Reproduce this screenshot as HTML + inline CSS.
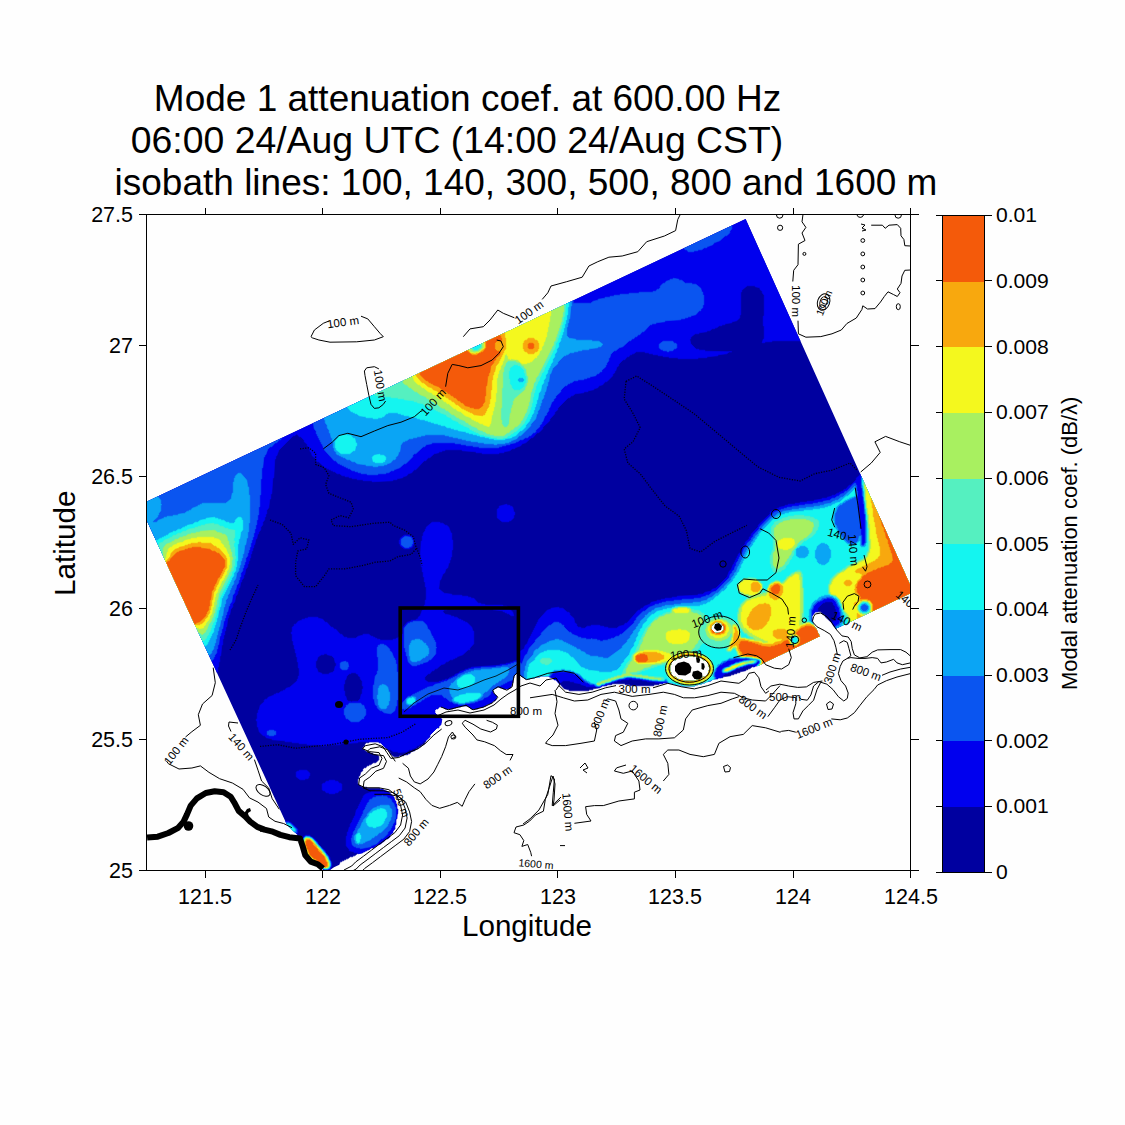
<!DOCTYPE html>
<html><head><meta charset="utf-8"><title>Mode 1 attenuation coef.</title>
<style>
html,body{margin:0;padding:0;background:#fff;}
body{width:1125px;height:1125px;overflow:hidden;font-family:"Liberation Sans",sans-serif;}
svg{display:block;}
text{font-family:"Liberation Sans",sans-serif;fill:#000;}
.t{font-size:37px;}
.tk{font-size:21.5px;}
.al{font-size:29.6px;}
.cl{font-size:22px;}
.il{font-size:11.5px;}
.c{fill:none;stroke:#000;stroke-width:1;}
</style></head><body>
<svg width="1125" height="1125" viewBox="0 0 1125 1125">
<rect x="0" y="0" width="1125" height="1125" fill="#fefefe"/>
<defs><clipPath id="ax"><rect x="147" y="215" width="763.5" height="655.5"/></clipPath></defs>
<g clip-path="url(#ax)">
<defs><clipPath id="rc"><polygon points="147,501.5 745.6,219.1 910,584.5 910,593.5 334,867.3 330,870 307.8,870 147,521"/></clipPath></defs>
<g clip-path="url(#rc)">
<path fill="#0000a0" stroke="#0000a0" stroke-width="0.6" fill-rule="evenodd" d="M745.8 217.2 744.8 218.2 743.2 218.2 742.8 219.2 740.2 219.2 739.8 220.2 738.2 220.2 737.8 221.2 736.2 221.2 735.8 222.2 734.2 222.2 733.8 223.2 732.2 223.2 731.8 224.2 730.2 224.2 729.8 225.2 728.2 225.2 727.8 226.2 726.2 226.2 723.8 228.2 721.2 228.2 720.8 229.2 719.2 229.2 718.8 230.2 717.2 230.2 716.8 231.2 715.2 231.2 714.8 232.2 713.2 232.2 712.8 233.2 711.2 233.2 710.8 234.2 709.2 234.2 706.8 236.2 704.2 236.2 703.8 237.2 702.2 237.2 701.8 238.2 700.2 238.2 699.8 239.2 698.2 239.2 697.8 240.2 696.2 240.2 695.8 241.2 694.2 241.2 693.8 242.2 692.2 242.2 689.8 244.2 687.2 244.2 686.8 245.2 685.2 245.2 684.8 246.2 683.2 246.2 682.8 247.2 681.2 247.2 680.8 248.2 679.2 248.2 678.8 249.2 677.2 249.2 676.8 250.2 675.2 250.2 674.8 251.2 673.2 251.2 670.8 253.2 668.2 253.2 667.8 254.2 666.2 254.2 665.8 255.2 664.2 255.2 663.8 256.2 662.2 256.2 661.8 257.2 660.2 257.2 659.8 258.2 658.2 258.2 657.8 259.2 656.2 259.2 653.8 261.2 651.2 261.2 650.8 262.2 649.2 262.2 648.8 263.2 647.2 263.2 646.8 264.2 645.2 264.2 644.8 265.2 643.2 265.2 642.8 266.2 641.2 266.2 640.8 267.2 639.2 267.2 638.8 268.2 637.2 268.2 634.8 270.2 632.2 270.2 631.8 271.2 630.2 271.2 629.8 272.2 628.2 272.2 627.8 273.2 626.2 273.2 625.8 274.2 624.2 274.2 623.8 275.2 622.2 275.2 621.8 276.2 620.2 276.2 617.8 278.2 615.2 278.2 614.8 279.2 613.2 279.2 612.8 280.2 611.2 280.2 610.8 281.2 609.2 281.2 608.8 282.2 607.2 282.2 606.8 283.2 605.2 283.2 604.8 284.2 603.2 284.2 602.8 285.2 601.2 285.2 598.8 287.2 596.2 287.2 595.8 288.2 594.2 288.2 593.8 289.2 592.2 289.2 591.8 290.2 590.2 290.2 589.8 291.2 588.2 291.2 587.8 292.2 586.2 292.2 585.8 293.2 584.2 293.2 581.8 295.2 579.2 295.2 578.8 296.2 577.2 296.2 576.8 297.2 575.2 297.2 574.8 298.2 573.2 298.2 572.8 299.2 571.2 299.2 570.8 300.2 569.2 300.2 568.8 301.2 567.2 301.2 564.8 303.2 562.2 303.2 561.8 304.2 560.2 304.2 559.8 305.2 558.2 305.2 557.8 306.2 556.2 306.2 555.8 307.2 554.2 307.2 553.8 308.2 552.2 308.2 551.8 309.2 550.2 309.2 549.8 310.2 548.2 310.2 545.8 312.2 543.2 312.2 542.8 313.2 541.2 313.2 540.8 314.2 539.2 314.2 538.8 315.2 537.2 315.2 536.8 316.2 535.2 316.2 534.8 317.2 533.2 317.2 532.8 318.2 531.2 318.2 528.8 320.2 526.2 320.2 525.8 321.2 524.2 321.2 523.8 322.2 522.2 322.2 521.8 323.2 520.2 323.2 519.8 324.2 518.2 324.2 517.8 325.2 516.2 325.2 515.8 326.2 514.2 326.2 513.8 327.2 512.2 327.2 509.8 329.2 507.2 329.2 506.8 330.2 505.2 330.2 504.8 331.2 503.2 331.2 502.8 332.2 501.2 332.2 500.8 333.2 499.2 333.2 498.8 334.2 497.2 334.2 496.8 335.2 495.2 335.2 492.8 337.2 490.2 337.2 489.8 338.2 488.2 338.2 487.8 339.2 486.2 339.2 485.8 340.2 484.2 340.2 483.8 341.2 482.2 341.2 481.8 342.2 480.2 342.2 479.8 343.2 478.2 343.2 477.8 344.2 476.2 344.2 473.8 346.2 471.2 346.2 470.8 347.2 469.2 347.2 468.8 348.2 467.2 348.2 466.8 349.2 465.2 349.2 464.8 350.2 463.2 350.2 462.8 351.2 461.2 351.2 460.8 352.2 459.2 352.2 456.8 354.2 454.2 354.2 453.8 355.2 452.2 355.2 451.8 356.2 450.2 356.2 449.8 357.2 448.2 357.2 447.8 358.2 446.2 358.2 445.8 359.2 444.2 359.2 443.8 360.2 442.2 360.2 439.8 362.2 437.2 362.2 436.8 363.2 435.2 363.2 434.8 364.2 433.2 364.2 432.8 365.2 431.2 365.2 430.8 366.2 429.2 366.2 428.8 367.2 427.2 367.2 426.8 368.2 425.2 368.2 424.8 369.2 423.2 369.2 420.8 371.2 418.2 371.2 417.8 372.2 416.2 372.2 415.8 373.2 414.2 373.2 413.8 374.2 412.2 374.2 411.8 375.2 410.2 375.2 409.8 376.2 408.2 376.2 407.8 377.2 406.2 377.2 403.8 379.2 401.2 379.2 400.8 380.2 399.2 380.2 398.8 381.2 397.2 381.2 396.8 382.2 395.2 382.2 394.8 383.2 393.2 383.2 392.8 384.2 391.2 384.2 390.8 385.2 389.2 385.2 388.8 386.2 387.2 386.2 384.8 388.2 382.2 388.2 381.8 389.2 380.2 389.2 379.8 390.2 378.2 390.2 377.8 391.2 376.2 391.2 375.8 392.2 374.2 392.2 373.8 393.2 372.2 393.2 371.8 394.2 370.2 394.2 367.8 396.2 365.2 396.2 364.8 397.2 363.2 397.2 362.8 398.2 361.2 398.2 360.8 399.2 359.2 399.2 358.8 400.2 357.2 400.2 356.8 401.2 355.2 401.2 354.8 402.2 353.2 402.2 352.8 403.2 351.2 403.2 348.8 405.2 346.2 405.2 345.8 406.2 344.2 406.2 343.8 407.2 342.2 407.2 341.8 408.2 340.2 408.2 339.8 409.2 338.2 409.2 337.8 410.2 336.2 410.2 335.8 411.2 334.2 411.2 331.8 413.2 329.2 413.2 328.8 414.2 327.2 414.2 326.8 415.2 325.2 415.2 324.8 416.2 323.2 416.2 322.8 417.2 321.2 417.2 320.8 418.2 319.2 418.2 318.8 419.2 317.2 419.2 314.8 421.2 312.2 421.2 311.8 422.2 310.2 422.2 309.8 423.2 308.2 423.2 307.8 424.2 306.2 424.2 305.8 425.2 304.2 425.2 303.8 426.2 302.2 426.2 301.8 427.2 300.2 427.2 299.8 428.2 298.2 428.2 295.8 430.2 293.2 430.2 292.8 431.2 291.2 431.2 290.8 432.2 289.2 432.2 288.8 433.2 287.2 433.2 286.8 434.2 285.2 434.2 284.8 435.2 283.2 435.2 282.8 436.2 281.2 436.2 278.8 438.2 276.2 438.2 275.8 439.2 274.2 439.2 273.8 440.2 272.2 440.2 271.8 441.2 270.2 441.2 269.8 442.2 268.2 442.2 267.8 443.2 266.2 443.2 265.8 444.2 264.2 444.2 263.8 445.2 262.2 445.2 259.8 447.2 257.2 447.2 256.8 448.2 255.2 448.2 254.8 449.2 253.2 449.2 252.8 450.2 251.2 450.2 250.8 451.2 249.2 451.2 248.8 452.2 247.2 452.2 246.8 453.2 245.2 453.2 242.8 455.2 240.2 455.2 239.8 456.2 238.2 456.2 237.8 457.2 236.2 457.2 235.8 458.2 234.2 458.2 233.8 459.2 232.2 459.2 231.8 460.2 230.2 460.2 229.8 461.2 228.2 461.2 227.8 462.2 226.2 462.2 223.8 464.2 221.2 464.2 220.8 465.2 219.2 465.2 218.8 466.2 217.2 466.2 216.8 467.2 215.2 467.2 214.8 468.2 213.2 468.2 212.8 469.2 211.2 469.2 210.8 470.2 209.2 470.2 206.8 472.2 204.2 472.2 203.8 473.2 202.2 473.2 201.8 474.2 200.2 474.2 199.8 475.2 198.2 475.2 197.8 476.2 196.2 476.2 195.8 477.2 194.2 477.2 193.8 478.2 192.2 478.2 191.8 479.2 190.2 479.2 187.8 481.2 185.2 481.2 184.8 482.2 183.2 482.2 182.8 483.2 181.2 483.2 180.8 484.2 179.2 484.2 178.8 485.2 177.2 485.2 176.8 486.2 175.2 486.2 174.8 487.2 173.2 487.2 170.8 489.2 168.2 489.2 167.8 490.2 166.2 490.2 165.8 491.2 164.2 491.2 163.8 492.2 162.2 492.2 161.8 493.2 160.2 493.2 159.8 494.2 158.2 494.2 157.8 495.2 156.2 495.2 153.8 497.2 151.2 497.2 150.8 498.2 147.2 499.2 145.2 501.2 145.2 522.8 146.2 523.2 146.2 524.8 147.2 525.2 147.2 526.8 148.2 527.2 148.2 528.8 150.2 531.2 150.2 533.8 151.2 534.2 151.2 535.8 152.2 536.2 152.2 537.8 153.2 538.2 153.2 539.8 154.2 540.2 154.2 541.8 156.2 544.2 156.2 546.8 157.2 547.2 157.2 548.8 158.2 549.2 158.2 550.8 159.2 551.2 159.2 552.8 160.2 553.2 160.2 554.8 162.2 557.2 162.2 559.8 163.2 560.2 163.2 561.8 164.2 562.2 164.2 563.8 165.2 564.2 165.2 565.8 166.2 566.2 166.2 567.8 168.2 570.2 168.2 572.8 169.2 573.2 169.2 574.8 170.2 575.2 170.2 576.8 171.2 577.2 171.2 578.8 173.2 581.2 173.2 583.8 174.2 584.2 174.2 585.8 175.2 586.2 175.2 587.8 176.2 588.2 176.2 589.8 177.2 590.2 177.2 591.8 179.2 594.2 179.2 596.8 180.2 597.2 180.2 598.8 181.2 599.2 181.2 600.8 182.2 601.2 182.2 602.8 183.2 603.2 183.2 604.8 185.2 607.2 185.2 609.8 186.2 610.2 186.2 611.8 187.2 612.2 187.2 613.8 188.2 614.2 188.2 615.8 189.2 616.2 189.2 617.8 191.2 620.2 191.2 622.8 192.2 623.2 192.2 624.8 193.2 625.2 193.2 626.8 194.2 627.2 194.2 628.8 196.2 631.2 196.2 633.8 197.2 634.2 197.2 635.8 198.2 636.2 198.2 637.8 199.2 638.2 199.2 639.8 200.2 640.2 200.2 641.8 202.2 644.2 202.2 646.8 203.2 647.2 203.2 648.8 204.2 649.2 204.2 650.8 205.2 651.2 205.2 652.8 206.2 653.2 206.2 654.8 208.2 657.2 208.2 659.8 209.2 660.2 209.2 661.8 210.2 662.2 210.2 663.8 211.2 664.2 211.2 665.8 212.2 666.2 212.2 667.8 214.2 670.2 214.2 672.8 215.2 673.2 215.2 674.8 216.2 675.2 216.2 676.8 217.2 677.2 217.2 678.8 219.2 681.2 219.2 683.8 220.2 684.2 220.2 685.8 221.2 686.2 221.2 687.8 222.2 688.2 222.2 689.8 223.2 690.2 223.2 691.8 225.2 694.2 225.2 696.8 226.2 697.2 226.2 698.8 227.2 699.2 227.2 700.8 228.2 701.2 228.2 702.8 229.2 703.2 229.2 704.8 231.2 707.2 231.2 709.8 232.2 710.2 232.2 711.8 233.2 712.2 233.2 713.8 234.2 714.2 234.2 715.8 236.2 718.2 236.2 720.8 237.2 721.2 237.2 722.8 238.2 723.2 238.2 724.8 239.2 725.2 239.2 726.8 240.2 727.2 240.2 728.8 242.2 731.2 242.2 733.8 243.2 734.2 243.2 735.8 244.2 736.2 244.2 737.8 245.2 738.2 245.2 739.8 246.2 740.2 246.2 741.8 248.2 744.2 248.2 746.8 249.2 747.2 249.2 748.8 250.2 749.2 250.2 750.8 251.2 751.2 251.2 752.8 252.2 753.2 252.2 754.8 254.2 757.2 254.2 759.8 255.2 760.2 255.2 761.8 256.2 762.2 256.2 763.8 257.2 764.2 257.2 765.8 259.2 768.2 259.2 770.8 260.2 771.2 260.2 772.8 261.2 773.2 261.2 774.8 262.2 775.2 262.2 776.8 263.2 777.2 263.2 778.8 265.2 781.2 265.2 783.8 266.2 784.2 266.2 785.8 267.2 786.2 267.2 787.8 268.2 788.2 268.2 789.8 269.2 790.2 269.2 791.8 271.2 794.2 271.2 796.8 272.2 797.2 272.2 798.8 273.2 799.2 273.2 800.8 274.2 801.2 274.2 802.8 275.2 803.2 275.2 804.8 277.2 807.2 277.2 809.8 278.2 810.2 278.2 811.8 279.2 812.2 279.2 813.8 280.2 814.2 280.2 815.8 282.2 818.2 282.2 820.8 283.2 821.8 284.8 821.8 297.2 834.2 297.2 835.8 300.2 838.2 300.2 839.8 302.2 841.2 302.2 843.8 303.2 844.2 303.2 847.8 304.2 848.2 305.2 853.8 308.2 857.2 308.2 858.8 311.2 861.8 313.8 861.8 314.2 862.8 319.8 864.8 323.2 868.2 324.2 872.8 329.8 872.8 330.2 871.8 331.8 871.8 334.2 868.8 337.8 867.8 337.8 866.2 338.8 865.8 340.2 861.8 341.8 861.8 342.2 860.8 343.8 860.8 344.2 859.8 345.8 859.8 346.2 858.8 347.8 858.8 350.2 856.8 352.8 856.8 353.2 855.8 354.8 855.8 357.2 853.8 362.8 852.8 363.2 851.8 364.8 851.8 365.2 850.8 366.8 850.8 367.2 849.8 368.8 849.8 371.2 847.8 373.8 847.8 377.2 844.8 380.8 843.8 382.2 841.8 383.8 841.8 386.2 838.8 387.8 838.8 389.8 836.8 389.8 835.2 392.8 832.8 392.8 831.2 394.8 828.8 394.8 825.2 395.8 824.8 395.8 819.2 396.8 818.8 396.8 814.2 397.8 813.8 397.8 809.2 396.8 808.8 396.8 804.2 395.8 803.8 395.8 801.2 394.8 800.8 393.8 797.2 388.8 792.2 387.2 792.2 386.8 791.2 385.2 791.2 382.8 789.2 380.2 789.2 379.8 788.2 367.2 788.2 366.8 787.2 362.2 787.2 357.8 783.8 357.8 779.2 358.8 778.8 358.8 776.2 359.8 775.8 360.8 772.2 362.8 770.8 362.8 769.2 364.2 767.8 365.8 767.8 367.2 765.8 368.8 765.8 369.2 764.8 370.8 764.8 373.2 762.8 375.8 762.8 378.8 759.8 378.8 756.2 377.8 755.2 373.2 754.2 372.8 753.2 370.2 753.2 369.8 752.2 367.2 752.2 362.8 748.8 362.8 747.2 364.8 745.8 364.8 744.2 366.2 742.8 368.8 742.8 369.2 741.8 378.8 741.8 379.2 742.8 380.8 742.8 390.2 752.2 390.2 753.8 394.2 756.8 398.8 756.8 399.2 755.8 403.8 755.8 404.2 754.8 407.8 754.8 408.2 753.8 409.8 753.8 411.2 751.8 414.8 750.8 416.2 748.8 417.8 748.8 419.2 746.8 420.8 746.8 422.2 744.8 423.8 744.8 424.8 743.8 424.8 742.2 425.8 741.8 425.8 740.2 429.8 736.8 429.8 735.2 437.2 727.8 438.8 727.8 438.8 726.2 440.8 724.8 441.8 719.2 440.8 718.8 440.8 717.2 439.8 716.2 438.2 716.2 434.8 712.8 434.8 710.2 436.2 708.8 437.8 708.8 439.2 706.8 442.8 706.8 445.2 708.8 452.8 708.8 453.2 707.8 455.8 707.8 456.2 706.8 460.8 706.8 461.2 705.8 467.8 705.8 471.2 708.8 477.8 708.8 478.2 707.8 483.8 706.8 484.2 705.8 485.8 705.8 486.2 704.8 491.8 702.8 493.2 700.8 494.8 700.8 495.8 699.8 496.8 696.2 492.8 692.8 492.8 690.2 495.2 687.8 496.8 687.8 497.2 686.8 499.8 686.8 500.2 687.8 502.8 687.8 503.2 688.8 508.8 688.8 509.2 687.8 510.8 687.8 511.8 683.2 512.8 682.8 512.8 678.2 513.8 677.8 513.8 675.2 516.2 672.8 518.8 672.8 522.2 676.8 523.8 676.8 525.2 678.8 529.8 678.8 530.2 677.8 534.8 677.8 535.2 676.8 539.8 676.8 540.2 675.8 548.8 675.8 549.2 676.8 552.8 677.8 554.2 679.8 555.8 679.8 564.2 688.8 568.8 689.8 569.2 690.8 588.8 690.8 589.2 689.8 592.8 689.8 593.2 688.8 599.8 687.8 602.2 685.8 606.8 685.8 607.2 684.8 611.8 684.8 612.2 683.8 624.8 683.8 625.2 684.8 629.8 684.8 630.2 685.8 653.8 685.8 654.2 684.8 658.8 684.8 659.2 683.8 662.8 683.8 663.2 682.8 672.8 682.8 673.2 683.8 675.8 683.8 676.2 684.8 681.8 684.8 682.2 685.8 694.8 685.8 695.2 684.8 697.8 684.8 698.2 683.8 701.8 683.8 702.2 682.8 704.8 682.8 705.2 681.8 710.8 680.8 713.2 678.8 717.8 678.8 718.2 677.8 722.8 677.8 723.2 676.8 730.8 675.8 731.2 674.8 733.8 674.8 734.2 673.8 736.8 673.8 737.2 672.8 739.8 672.8 740.2 671.8 745.8 670.8 746.2 669.8 747.8 669.8 748.2 668.8 749.8 668.8 752.2 666.8 754.8 666.8 755.2 665.8 761.8 666.8 762.2 665.8 763.8 665.8 764.2 664.8 765.8 664.8 766.2 663.8 767.8 663.8 768.2 662.8 769.8 662.8 770.2 661.8 771.8 661.8 774.2 659.8 776.8 659.8 777.2 658.8 778.8 658.8 779.2 657.8 780.8 657.8 781.2 656.8 782.8 656.8 783.2 655.8 784.8 655.8 785.2 654.8 786.8 654.8 787.2 653.8 788.8 653.8 789.2 652.8 790.8 652.8 791.2 651.8 792.8 651.8 795.2 649.8 797.8 649.8 798.2 648.8 799.8 648.8 800.2 647.8 801.8 647.8 802.2 646.8 803.8 646.8 804.2 645.8 805.8 645.8 806.2 644.8 807.8 644.8 808.2 643.8 809.8 643.8 810.2 642.8 811.8 642.8 814.2 640.8 816.8 640.8 817.2 639.8 820.8 638.8 821.8 637.2 820.2 637.2 818.8 635.8 818.8 634.2 817.8 633.8 815.8 628.2 812.8 624.8 812.8 621.2 811.8 620.8 811.8 616.2 815.2 611.8 820.8 611.8 823.2 614.8 824.8 614.8 825.2 616.8 833.2 624.2 833.2 625.8 835.2 627.2 836.2 630.8 837.8 630.8 838.2 629.8 839.8 629.8 840.2 628.8 841.8 628.8 842.2 627.8 843.8 627.8 844.2 626.8 845.8 626.8 846.2 625.8 847.8 625.8 848.2 624.8 849.8 624.8 850.2 623.8 851.8 623.8 854.2 621.8 856.8 621.8 857.2 620.8 858.8 620.8 859.2 619.8 860.8 619.8 861.2 618.8 862.8 618.8 863.2 617.8 864.8 617.8 865.2 616.8 866.8 616.8 867.2 615.8 868.8 615.8 869.2 614.8 870.8 614.8 873.2 612.8 875.8 612.8 876.2 611.8 877.8 611.8 878.2 610.8 879.8 610.8 880.2 609.8 881.8 609.8 882.2 608.8 883.8 608.8 884.2 607.8 885.8 607.8 886.2 606.8 887.8 606.8 888.2 605.8 889.8 605.8 890.2 604.8 891.8 604.8 894.2 602.8 896.8 602.8 897.2 601.8 898.8 601.8 899.2 600.8 900.8 600.8 901.2 599.8 902.8 599.8 903.2 598.8 904.8 598.8 905.2 597.8 910.8 595.8 912.8 593.8 912.8 584.2 911.8 583.8 911.8 582.2 910.8 581.8 910.8 580.2 909.8 579.8 909.8 578.2 907.8 575.8 907.8 573.2 906.8 572.8 906.8 571.2 905.8 570.8 905.8 569.2 903.8 566.8 903.8 564.2 902.8 563.8 902.8 562.2 901.8 561.8 901.8 560.2 900.8 559.8 900.8 558.2 898.8 555.8 898.8 553.2 897.8 552.8 897.8 551.2 896.8 550.8 896.8 549.2 894.8 546.8 894.8 544.2 893.8 543.8 893.8 542.2 892.8 541.8 892.8 540.2 891.8 539.8 891.8 538.2 889.8 535.8 889.8 533.2 888.8 532.8 888.8 531.2 887.8 530.8 887.8 529.2 885.8 526.8 885.8 524.2 884.8 523.8 884.8 522.2 883.8 521.8 883.8 520.2 882.8 519.8 882.8 518.2 880.8 515.8 880.8 513.2 879.8 512.8 879.8 511.2 878.8 510.8 878.8 509.2 876.8 506.8 876.8 504.2 875.8 503.8 875.8 502.2 874.8 501.8 874.8 500.2 873.8 499.8 873.8 498.2 871.8 495.8 871.8 493.2 870.8 492.8 870.8 491.2 869.8 490.8 869.8 489.2 867.8 486.8 867.8 484.2 866.8 483.8 866.8 482.2 865.8 481.8 865.8 480.2 864.8 479.8 864.8 478.2 862.8 475.8 862.8 473.2 861.8 472.8 861.8 471.2 860.8 470.8 860.8 469.2 858.8 466.8 858.8 464.2 857.8 463.8 857.8 462.2 856.8 461.8 856.8 460.2 855.8 459.8 855.8 458.2 853.8 455.8 853.8 453.2 852.8 452.8 852.8 451.2 851.8 450.8 851.8 449.2 849.8 446.8 849.8 444.2 848.8 443.8 848.8 442.2 847.8 441.8 847.8 440.2 846.8 439.8 846.8 438.2 844.8 435.8 844.8 433.2 843.8 432.8 843.8 431.2 842.8 430.8 842.8 429.2 840.8 426.8 840.8 424.2 839.8 423.8 839.8 422.2 838.8 421.8 838.8 420.2 837.8 419.8 837.8 418.2 835.8 415.8 835.8 413.2 834.8 412.8 834.8 411.2 833.8 410.8 833.8 409.2 831.8 406.8 831.8 404.2 830.8 403.8 830.8 402.2 829.8 401.8 829.8 400.2 828.8 399.8 828.8 398.2 826.8 395.8 826.8 393.2 825.8 392.8 825.8 391.2 824.8 390.8 824.8 389.2 822.8 386.8 822.8 384.2 821.8 383.8 821.8 382.2 820.8 381.8 820.8 380.2 819.8 379.8 819.8 378.2 817.8 375.8 817.8 373.2 816.8 372.8 816.8 371.2 815.8 370.8 815.8 369.2 813.8 366.8 813.8 364.2 812.8 363.8 812.8 362.2 811.8 361.8 811.8 360.2 810.8 359.8 810.8 358.2 808.8 355.8 808.8 353.2 807.8 352.8 807.8 351.2 806.8 350.8 806.8 349.2 804.8 346.8 804.8 344.2 803.8 343.8 803.8 342.2 802.8 341.8 802.8 340.2 801.8 339.8 801.8 338.2 799.8 335.8 799.8 333.2 798.8 332.8 798.8 331.2 797.8 330.8 797.8 329.2 795.8 326.8 795.8 324.2 794.8 323.8 794.8 322.2 793.8 321.8 793.8 320.2 792.8 319.8 792.8 318.2 790.8 315.8 790.8 313.2 789.8 312.8 789.8 311.2 788.8 310.8 788.8 309.2 786.8 306.8 786.8 304.2 785.8 303.8 785.8 302.2 784.8 301.8 784.8 300.2 783.8 299.8 783.8 298.2 781.8 295.8 781.8 293.2 780.8 292.8 780.8 291.2 779.8 290.8 779.8 289.2 777.8 286.8 777.8 284.2 776.8 283.8 776.8 282.2 775.8 281.8 775.8 280.2 774.8 279.8 774.8 278.2 772.8 275.8 772.8 273.2 771.8 272.8 771.8 271.2 770.8 270.8 770.8 269.2 768.8 266.8 768.8 264.2 767.8 263.8 767.8 262.2 766.8 261.8 766.8 260.2 765.8 259.8 765.8 258.2 763.8 255.8 763.8 253.2 762.8 252.8 762.8 251.2 761.8 250.8 761.8 249.2 759.8 246.8 759.8 244.2 758.8 243.8 758.8 242.2 757.8 241.8 757.8 240.2 756.8 239.8 756.8 238.2 754.8 235.8 754.8 233.2 753.8 232.8 753.8 231.2 752.8 230.8 752.8 229.2 750.8 226.8 750.8 224.2 749.8 223.8 748.8 220.2ZM669.8 665.2 670.8 664.8 670.8 663.2 674.2 659.8 675.8 659.8 677.2 657.8 679.8 657.8 680.2 656.8 682.8 656.8 683.2 655.8 695.8 655.8 696.2 656.8 701.8 657.8 703.2 659.8 704.8 659.8 708.2 663.2 710.2 669.8 709.2 670.2 708.2 673.8 704.8 677.2 703.2 677.2 701.8 679.2 699.2 679.2 698.8 680.2 696.2 680.2 695.8 681.2 683.2 681.2 682.8 680.2 677.2 679.2 675.8 677.2 674.2 677.2 670.8 673.8 670.8 672.2 669.8 671.8ZM716.2 621.8 721.8 622.8 722.2 624.8 724.2 626.2 724.2 629.8 719.8 633.2 715.2 633.2 710.8 628.8 711.8 625.2Z"/>
<path fill="#0000ee" stroke="#0000ee" stroke-width="0.6" fill-rule="evenodd" d="M305.2 835.2 302.2 838.2 302.2 843.8 303.2 844.2 303.2 847.8 304.2 848.2 305.2 853.8 308.2 857.2 308.2 858.8 310.2 860.8 311.8 860.8 312.2 861.8 313.8 861.8 314.2 862.8 319.8 864.8 323.2 868.2 323.2 869.8 329.8 869.8 330.8 868.8 330.8 867.2 331.8 866.8 331.8 862.2 330.8 861.8 329.8 857.2 325.8 852.8 325.8 851.2 317.8 843.8 317.8 842.2 312.8 837.2 311.2 837.2 309.8 835.2ZM285.2 821.2 285.2 822.8 296.8 833.8 297.8 832.8 297.8 829.2 290.8 822.2 289.2 822.2 288.8 821.2ZM388.8 792.2 387.2 792.2 386.8 791.2 381.2 789.2 380.8 790.2 375.2 790.2 374.8 791.2 371.2 791.2 370.8 792.2 365.2 794.2 363.2 796.2 363.2 797.8 362.2 798.2 362.2 799.8 361.2 800.2 361.2 801.8 360.2 802.2 360.2 803.8 359.2 804.2 359.2 805.8 358.2 806.2 358.2 807.8 356.2 810.2 355.2 815.8 354.2 816.2 354.2 817.8 353.2 818.2 353.2 819.8 352.2 820.2 352.2 821.8 350.2 824.2 350.2 826.8 349.2 827.2 348.2 831.8 347.2 832.2 347.2 835.8 346.2 836.2 346.2 845.8 349.2 849.2 349.2 850.8 353.8 851.8 354.2 852.8 357.8 852.8 358.2 853.8 362.8 852.8 363.2 851.8 364.8 851.8 365.2 850.8 366.8 850.8 367.2 849.8 368.8 849.8 371.2 847.8 373.8 847.8 377.2 844.8 380.8 843.8 386.2 838.8 387.8 838.8 389.8 836.8 389.8 835.2 392.8 832.8 392.8 831.2 394.8 828.8 394.8 825.2 395.8 824.8 395.8 819.2 396.8 818.8 397.8 809.2 396.8 808.8 396.8 804.2 395.8 803.8 395.8 801.2 394.8 800.8 393.8 797.2ZM322.2 784.2 322.2 789.8 323.2 790.8 324.8 790.8 326.2 792.8 328.8 792.8 329.2 793.8 334.8 793.8 335.2 792.8 337.8 792.8 339.2 790.8 340.8 790.8 341.8 789.8 341.8 784.2 340.8 783.2 339.2 783.2 337.8 781.2 335.2 781.2 334.8 780.2 329.2 780.2 328.8 781.2 326.2 781.2 324.8 783.2 323.2 783.2ZM296.2 772.2 296.2 776.8 300.2 779.8 304.8 779.8 305.2 778.8 307.8 778.8 308.8 777.8 308.8 776.2 309.8 775.8 309.8 773.2 306.8 770.2 299.2 770.2 298.8 771.2 297.2 771.2ZM404.2 535.2 400.2 538.2 400.2 539.8 399.2 540.2 399.2 543.8 400.2 544.2 400.2 545.8 404.2 548.8 409.8 548.8 410.2 547.8 411.8 547.8 412.8 546.8 412.8 545.2 413.8 544.8 413.8 539.2 412.8 538.8 412.8 537.2 411.8 536.2 410.2 536.2 409.8 535.2ZM499.2 506.2 499.2 507.8 497.2 509.2 497.2 517.8 502.2 521.8 508.8 521.8 509.2 520.8 510.8 520.8 513.8 517.8 513.8 515.2 514.8 514.8 514.8 512.2 513.8 511.8 512.8 507.2 511.8 506.2 510.2 506.2 509.8 505.2 507.2 505.2 506.8 504.2ZM912.8 584.2 911.8 583.8 911.8 582.2 910.8 581.8 910.8 580.2 909.8 579.8 909.8 578.2 907.8 575.8 907.8 573.2 906.8 572.8 906.8 571.2 905.8 570.8 905.8 569.2 903.8 566.8 903.8 564.2 902.8 563.8 902.8 562.2 901.8 561.8 901.8 560.2 900.8 559.8 900.8 558.2 898.8 555.8 898.8 553.2 897.8 552.8 897.8 551.2 896.8 550.8 896.8 549.2 894.8 546.8 894.8 544.2 893.8 543.8 893.8 542.2 892.8 541.8 892.8 540.2 891.8 539.8 891.8 538.2 889.8 535.8 889.8 533.2 888.8 532.8 888.8 531.2 887.8 530.8 887.8 529.2 885.8 526.8 885.8 524.2 884.8 523.8 884.8 522.2 883.8 521.8 883.8 520.2 882.8 519.8 882.8 518.2 880.8 515.8 880.8 513.2 879.8 512.8 879.8 511.2 878.8 510.8 878.8 509.2 876.8 506.8 876.8 504.2 875.8 503.8 875.8 502.2 874.8 501.8 874.8 500.2 873.8 499.8 873.8 498.2 871.8 495.8 871.8 493.2 870.8 492.8 870.8 491.2 869.8 490.8 869.8 489.2 867.8 486.8 867.8 484.2 866.8 483.8 866.8 482.2 865.8 481.8 865.8 480.2 864.8 479.8 864.8 478.2 862.8 475.8 862.8 473.2 861.2 472.2 860.2 473.2 860.2 474.8 856.2 478.2 856.2 479.8 850.8 485.2 849.2 485.2 845.8 489.2 844.2 489.2 842.8 491.2 841.2 491.2 840.8 492.2 839.2 492.2 838.8 493.2 837.2 493.2 834.8 495.2 832.2 495.2 831.8 496.2 827.2 497.2 826.8 498.2 822.2 498.2 821.8 499.2 814.2 500.2 813.8 501.2 807.2 501.2 806.8 502.2 800.2 502.2 799.8 503.2 795.2 503.2 794.8 504.2 788.2 504.2 787.8 505.2 785.2 505.2 784.8 506.2 779.2 507.2 778.8 508.2 777.2 508.2 776.8 509.2 771.2 511.2 770.2 512.2 770.2 513.8 758.2 525.2 758.2 526.8 751.2 534.2 751.2 535.8 749.2 537.2 749.2 538.8 745.2 542.2 745.2 543.8 742.2 547.2 740.2 552.8 738.2 554.2 738.2 555.8 737.2 556.2 737.2 557.8 736.2 558.2 736.2 559.8 735.2 560.2 735.2 561.8 734.2 562.2 734.2 563.8 733.2 564.2 731.2 569.8 729.2 571.2 727.2 576.8 715.8 588.2 712.2 589.2 710.8 591.2 705.2 592.2 702.8 594.2 698.2 594.2 697.8 595.2 677.2 596.2 676.8 597.2 672.2 597.2 671.8 598.2 665.2 598.2 664.8 599.2 661.2 599.2 660.8 600.2 657.2 600.2 656.8 601.2 651.2 602.2 649.8 604.2 644.2 606.2 642.8 608.2 641.2 608.2 639.8 610.2 638.2 610.2 626.8 623.2 625.2 623.2 623.8 625.2 619.2 626.2 616.8 628.2 608.2 628.2 607.8 627.2 604.2 627.2 603.8 626.2 600.2 626.2 599.8 625.2 591.2 625.2 590.8 626.2 587.2 626.2 584.8 628.2 581.2 628.2 580.8 627.2 578.2 627.2 576.8 625.8 576.8 624.2 574.8 622.8 573.8 618.2 569.8 614.8 569.8 613.2 568.8 612.2 567.2 612.2 562.8 608.2 559.2 608.2 558.8 607.2 551.2 608.2 550.8 609.2 547.2 610.2 538.2 620.2 538.2 621.8 537.2 622.2 537.2 623.8 536.2 624.2 536.2 625.8 535.2 626.2 535.2 627.8 534.2 628.2 534.2 629.8 533.2 630.2 533.2 631.8 532.2 632.2 532.2 633.8 531.2 634.2 531.2 635.8 530.2 636.2 530.2 637.8 529.2 638.2 527.2 643.8 525.2 645.2 524.2 648.8 520.2 651.2 520.2 655.8 519.2 656.2 519.2 658.8 517.8 660.2 513.2 661.2 512.8 662.2 510.2 662.2 509.8 663.2 506.2 663.2 505.8 664.2 500.2 664.2 499.8 665.2 471.2 667.2 470.8 668.2 468.2 668.2 467.8 669.2 465.2 669.2 464.8 670.2 460.2 671.2 458.8 673.2 455.2 674.2 453.8 676.2 452.2 676.2 451.8 677.2 450.2 677.2 447.8 679.2 445.2 679.2 444.8 680.2 442.2 680.2 441.8 681.2 439.2 681.2 438.8 682.2 428.2 682.2 424.8 679.8 424.8 677.2 428.2 673.8 429.8 673.8 432.2 670.8 433.8 670.8 435.2 668.8 436.8 668.8 441.2 664.8 444.8 663.8 446.2 661.8 447.8 661.8 450.2 659.8 452.8 659.8 453.2 658.8 454.8 658.8 455.2 657.8 456.8 657.8 457.2 656.8 462.8 654.8 468.2 649.8 469.8 649.8 469.8 648.2 473.8 643.8 473.8 631.2 472.8 630.8 471.8 627.2 466.8 622.2 465.2 622.2 464.8 621.2 463.2 621.2 462.8 620.2 461.2 620.2 460.8 619.2 459.2 619.2 456.8 617.2 454.2 617.2 453.8 616.2 451.2 616.2 450.8 615.2 445.2 614.2 442.8 611.8 444.2 609.8 446.8 609.8 447.2 608.8 458.8 608.8 459.2 607.8 487.8 607.8 488.2 608.8 492.8 608.8 493.2 609.8 502.8 610.8 503.2 611.8 504.8 611.8 505.2 612.8 506.8 612.8 507.2 613.8 508.8 613.8 511.2 615.8 513.8 615.8 512.8 612.2 506.8 606.2 503.2 606.2 502.8 605.2 485.2 605.2 484.8 604.2 481.2 604.2 480.8 603.2 478.2 603.2 473.8 598.2 471.2 598.2 470.8 597.2 468.2 597.2 467.8 596.2 462.2 596.2 461.8 595.2 452.2 595.2 451.8 594.2 444.2 593.2 438.8 588.8 439.8 580.2 440.8 579.8 442.8 574.2 444.8 572.8 445.8 569.2 447.8 567.8 448.8 563.2 449.8 562.8 449.8 560.2 450.8 559.8 450.8 557.2 451.8 556.8 451.8 550.2 452.8 549.8 452.8 540.2 451.8 539.8 451.8 533.2 450.8 532.8 448.8 527.2 446.8 525.2 445.2 525.2 442.8 523.2 440.2 523.2 439.8 522.2 432.2 522.2 426.2 527.2 426.2 528.8 425.2 529.2 425.2 530.8 423.2 533.2 423.2 535.8 422.2 536.2 422.2 540.8 421.2 541.2 420.2 559.8 421.2 560.2 421.2 566.8 422.2 567.2 422.2 571.8 423.2 572.2 423.2 576.8 424.2 577.2 424.2 581.8 425.2 582.2 425.2 586.8 426.2 587.2 426.2 599.8 425.2 600.2 425.2 604.8 424.2 605.2 424.2 607.8 423.2 608.2 423.2 609.8 422.2 610.2 420.2 615.8 418.2 617.2 418.2 618.8 416.2 619.2 415.8 620.2 411.2 620.2 410.8 621.2 407.2 622.2 403.2 627.2 403.2 633.8 402.2 634.2 402.2 635.8 398.2 637.2 397.8 638.2 396.2 638.2 395.8 639.2 393.2 639.2 392.8 640.2 380.2 640.2 379.8 639.2 377.2 639.2 376.8 638.2 375.2 638.2 374.8 637.2 373.2 637.2 372.8 636.2 371.2 636.2 368.8 634.2 363.2 634.2 362.8 635.2 358.2 636.2 355.8 638.2 347.2 638.2 346.8 637.2 344.2 637.2 341.8 634.2 340.2 634.2 335.8 629.2 334.2 629.2 332.8 627.2 331.2 627.2 326.8 622.2 325.2 622.2 322.8 619.2 318.2 618.2 317.8 617.2 308.2 617.2 307.8 618.2 305.2 618.2 304.8 619.2 302.2 619.2 301.8 620.2 298.2 621.2 295.8 624.2 294.2 624.2 294.2 625.8 292.2 627.2 292.2 631.8 291.2 632.2 291.2 633.8 292.2 634.2 292.2 640.8 293.2 641.2 293.2 644.8 294.2 645.2 294.2 648.8 295.2 649.2 295.2 652.8 296.2 653.2 296.2 656.8 297.2 657.2 297.2 661.8 298.2 662.2 298.2 667.8 299.2 668.2 299.2 675.8 298.2 676.2 298.2 678.8 297.2 679.2 297.2 680.8 289.8 687.2 286.2 688.2 284.8 690.2 283.2 690.2 282.8 691.2 281.2 691.2 278.8 693.2 276.2 693.2 275.8 694.2 274.2 694.2 273.8 695.2 268.2 697.2 266.8 699.2 265.2 699.2 264.2 700.2 264.2 701.8 260.2 705.2 259.2 709.8 258.2 710.2 258.2 712.8 257.2 713.2 257.2 718.8 256.2 719.2 256.2 720.8 257.2 721.2 257.2 726.8 258.2 727.2 259.2 731.8 263.2 735.8 264.8 735.8 266.2 737.8 271.8 738.8 272.2 739.8 284.8 740.8 285.2 741.8 291.8 741.8 292.2 742.8 298.8 742.8 299.2 743.8 306.8 743.8 307.2 744.8 318.8 744.8 319.2 745.8 326.8 745.8 327.2 744.8 339.8 744.8 340.2 743.8 357.8 742.8 358.2 741.8 378.8 741.8 379.2 742.8 380.8 742.8 385.2 747.8 386.8 747.8 388.2 749.8 390.8 749.8 393.2 751.8 397.8 751.8 398.2 752.8 406.8 751.8 409.2 749.8 411.8 749.8 412.2 748.8 415.8 747.8 417.2 745.8 418.8 745.8 420.2 743.8 421.8 743.8 424.2 740.8 425.8 740.8 429.8 736.8 429.8 735.2 437.2 727.8 438.8 727.8 438.8 726.2 440.8 724.8 441.8 719.2 440.8 718.8 440.8 717.2 439.8 716.2 438.2 716.2 434.8 712.8 434.8 710.2 436.2 708.8 437.8 708.8 439.2 706.8 442.8 706.8 445.2 708.8 452.8 708.8 453.2 707.8 455.8 707.8 456.2 706.8 460.8 706.8 461.2 705.8 467.8 705.8 471.2 708.8 477.8 708.8 478.2 707.8 483.8 706.8 484.2 705.8 485.8 705.8 486.2 704.8 491.8 702.8 493.2 700.8 494.8 700.8 495.8 699.8 496.8 696.2 492.8 692.8 492.8 690.2 495.2 687.8 496.8 687.8 497.2 686.8 499.8 686.8 500.2 687.8 502.8 687.8 503.2 688.8 508.8 688.8 509.2 687.8 510.8 687.8 511.8 683.2 512.8 682.8 512.8 678.2 513.8 677.8 513.8 675.2 516.2 672.8 518.8 672.8 522.2 676.8 523.8 676.8 525.2 678.8 529.8 678.8 530.2 677.8 534.8 677.8 535.2 676.8 539.8 676.8 540.2 675.8 548.8 675.8 549.2 676.8 552.8 677.8 554.2 679.8 555.8 679.8 559.2 683.8 563.2 680.8 569.8 680.8 570.2 681.8 573.8 681.8 574.2 682.8 580.8 683.8 581.2 684.8 585.8 685.8 586.2 686.8 596.8 686.8 597.2 687.8 601.8 686.8 602.2 685.8 604.8 685.8 605.2 684.8 607.8 684.8 608.2 683.8 610.8 683.8 611.2 682.8 613.8 682.8 614.2 681.8 616.8 681.8 617.2 680.8 620.8 680.8 621.2 679.8 628.8 679.8 629.2 678.8 631.8 678.8 632.2 679.8 641.8 679.8 642.2 680.8 646.8 680.8 647.2 681.8 654.8 681.8 655.2 682.8 661.8 682.8 662.2 683.8 663.2 682.8 672.8 682.8 673.2 683.8 675.8 683.8 676.2 684.8 681.8 684.8 682.2 685.8 694.8 685.8 695.2 684.8 697.8 684.8 698.2 683.8 701.8 683.8 702.2 682.8 704.8 682.8 705.2 681.8 710.8 680.8 713.2 678.8 717.8 678.8 718.2 677.8 720.8 677.8 725.2 673.8 727.8 673.8 728.2 672.8 729.8 672.8 732.2 670.8 734.8 670.8 737.2 668.8 739.8 668.8 740.2 667.8 742.8 667.8 743.2 666.8 745.8 666.8 746.2 665.8 750.8 665.8 751.2 664.8 752.8 664.8 753.2 666.8 754.8 666.8 755.2 665.8 761.8 666.8 762.2 665.8 763.8 665.8 764.2 664.8 765.8 664.8 766.2 663.8 767.8 663.8 768.2 662.8 769.8 662.8 770.2 661.8 771.8 661.8 774.2 659.8 776.8 659.8 777.2 658.8 778.8 658.8 779.2 657.8 780.8 657.8 781.2 656.8 782.8 656.8 783.2 655.8 784.8 655.8 785.2 654.8 786.8 654.8 787.2 653.8 788.8 653.8 789.2 652.8 790.8 652.8 791.2 651.8 792.8 651.8 795.2 649.8 797.8 649.8 798.2 648.8 799.8 648.8 800.2 647.8 801.8 647.8 802.2 646.8 803.8 646.8 804.2 645.8 805.8 645.8 806.2 644.8 807.8 644.8 808.2 643.8 809.8 643.8 810.2 642.8 811.8 642.8 814.2 640.8 816.8 640.8 817.2 639.8 820.8 638.8 821.8 637.2 820.2 637.2 818.8 635.8 818.8 634.2 817.8 633.8 815.8 628.2 812.8 624.8 811.8 616.2 815.2 611.8 817.8 611.8 817.8 608.2 823.2 602.8 824.8 602.8 825.2 601.8 831.8 601.8 833.2 603.2 833.2 604.8 835.2 606.2 835.2 608.8 836.2 609.2 836.2 611.8 837.2 612.2 837.2 617.8 834.8 621.2 833.2 621.2 832.2 622.2 832.2 623.8 835.2 627.2 836.2 630.8 837.8 630.8 838.2 629.8 839.8 629.8 840.2 628.8 841.8 628.8 842.2 627.8 843.8 627.8 844.2 626.8 845.8 626.8 846.2 625.8 847.8 625.8 848.2 624.8 849.8 624.8 850.2 623.8 851.8 623.8 854.2 621.8 856.8 621.8 857.2 620.8 858.8 620.8 859.2 619.8 860.8 619.8 861.2 618.8 862.8 618.8 863.2 617.8 864.8 617.8 865.2 616.8 866.8 616.8 867.2 615.8 868.8 615.8 869.2 614.8 870.8 614.8 873.2 612.8 875.8 612.8 876.2 611.8 877.8 611.8 878.2 610.8 879.8 610.8 880.2 609.8 881.8 609.8 882.2 608.8 883.8 608.8 884.2 607.8 885.8 607.8 886.2 606.8 887.8 606.8 888.2 605.8 889.8 605.8 890.2 604.8 891.8 604.8 894.2 602.8 896.8 602.8 897.2 601.8 898.8 601.8 899.2 600.8 900.8 600.8 901.2 599.8 902.8 599.8 903.2 598.8 904.8 598.8 905.2 597.8 910.8 595.8 912.8 593.8ZM355.8 672.8 356.2 673.8 358.2 674.2 358.2 675.8 360.2 677.2 360.2 678.8 362.2 681.2 362.2 685.8 363.2 686.2 363.2 688.8 362.2 689.2 362.2 693.8 361.2 694.2 360.2 698.8 357.8 701.2 352.2 701.2 351.2 702.2 350.8 701.2 348.2 701.2 346.8 699.8 345.8 696.2 344.8 695.8 344.8 691.2 343.8 690.8 343.8 684.2 344.8 683.8 344.8 680.2 345.8 679.8 346.8 676.2 349.2 673.8 350.8 673.8 351.2 672.8ZM669.8 665.2 670.8 664.8 670.8 663.2 674.2 659.8 675.8 659.8 677.2 657.8 679.8 657.8 680.2 656.8 682.8 656.8 683.2 655.8 695.8 655.8 696.2 656.8 701.8 657.8 703.2 659.8 704.8 659.8 708.2 663.2 710.2 669.8 709.2 670.2 708.2 673.8 704.8 677.2 703.2 677.2 701.8 679.2 699.2 679.2 698.8 680.2 696.2 680.2 695.8 681.2 683.2 681.2 682.8 680.2 677.2 679.2 675.8 677.2 674.2 677.2 670.8 673.8 670.8 672.2 669.8 671.8ZM324.2 653.8 326.8 653.8 327.2 654.8 331.8 655.8 334.2 658.2 335.2 662.8 336.2 663.2 336.2 665.8 335.2 666.2 334.2 670.8 332.8 672.2 329.2 673.2 328.8 674.2 322.2 674.2 321.8 673.2 318.2 672.2 316.8 668.2 315.8 667.8 315.8 661.2 316.8 660.8 317.8 657.2 321.2 654.8 323.8 654.8ZM716.2 621.8 721.8 622.8 722.2 624.8 724.2 626.2 724.2 629.8 719.8 633.2 715.2 633.2 710.8 628.8 711.8 625.2ZM748.8 220.2 745.8 217.2 744.8 218.2 743.2 218.2 742.8 219.2 740.2 219.2 739.8 220.2 738.2 220.2 737.8 221.2 736.2 221.2 735.8 222.2 734.2 222.2 733.8 223.2 732.2 223.2 731.8 224.2 730.2 224.2 729.8 225.2 728.2 225.2 727.8 226.2 726.2 226.2 723.8 228.2 721.2 228.2 720.8 229.2 719.2 229.2 718.8 230.2 717.2 230.2 716.8 231.2 715.2 231.2 714.8 232.2 713.2 232.2 712.8 233.2 711.2 233.2 710.8 234.2 709.2 234.2 706.8 236.2 704.2 236.2 703.8 237.2 702.2 237.2 701.8 238.2 700.2 238.2 699.8 239.2 698.2 239.2 697.8 240.2 696.2 240.2 695.8 241.2 694.2 241.2 693.8 242.2 692.2 242.2 689.8 244.2 687.2 244.2 686.8 245.2 685.2 245.2 684.8 246.2 683.2 246.2 682.8 247.2 681.2 247.2 680.8 248.2 679.2 248.2 678.8 249.2 677.2 249.2 676.8 250.2 675.2 250.2 674.8 251.2 673.2 251.2 670.8 253.2 668.2 253.2 667.8 254.2 666.2 254.2 665.8 255.2 664.2 255.2 663.8 256.2 662.2 256.2 661.8 257.2 660.2 257.2 659.8 258.2 658.2 258.2 657.8 259.2 656.2 259.2 653.8 261.2 651.2 261.2 650.8 262.2 649.2 262.2 648.8 263.2 647.2 263.2 646.8 264.2 645.2 264.2 644.8 265.2 643.2 265.2 642.8 266.2 641.2 266.2 640.8 267.2 639.2 267.2 638.8 268.2 637.2 268.2 634.8 270.2 632.2 270.2 631.8 271.2 630.2 271.2 629.8 272.2 628.2 272.2 627.8 273.2 626.2 273.2 625.8 274.2 624.2 274.2 623.8 275.2 622.2 275.2 621.8 276.2 620.2 276.2 617.8 278.2 615.2 278.2 614.8 279.2 613.2 279.2 612.8 280.2 611.2 280.2 610.8 281.2 609.2 281.2 608.8 282.2 607.2 282.2 606.8 283.2 605.2 283.2 604.8 284.2 603.2 284.2 602.8 285.2 601.2 285.2 598.8 287.2 596.2 287.2 595.8 288.2 594.2 288.2 593.8 289.2 592.2 289.2 591.8 290.2 590.2 290.2 589.8 291.2 588.2 291.2 587.8 292.2 586.2 292.2 585.8 293.2 584.2 293.2 581.8 295.2 579.2 295.2 578.8 296.2 577.2 296.2 576.8 297.2 575.2 297.2 574.8 298.2 573.2 298.2 572.8 299.2 571.2 299.2 570.8 300.2 569.2 300.2 568.8 301.2 567.2 301.2 564.8 303.2 562.2 303.2 561.8 304.2 560.2 304.2 559.8 305.2 558.2 305.2 557.8 306.2 556.2 306.2 555.8 307.2 554.2 307.2 553.8 308.2 552.2 308.2 551.8 309.2 550.2 309.2 549.8 310.2 548.2 310.2 545.8 312.2 543.2 312.2 542.8 313.2 541.2 313.2 540.8 314.2 539.2 314.2 538.8 315.2 537.2 315.2 536.8 316.2 535.2 316.2 534.8 317.2 533.2 317.2 532.8 318.2 531.2 318.2 528.8 320.2 526.2 320.2 525.8 321.2 524.2 321.2 523.8 322.2 522.2 322.2 521.8 323.2 520.2 323.2 519.8 324.2 518.2 324.2 517.8 325.2 516.2 325.2 515.8 326.2 514.2 326.2 513.8 327.2 512.2 327.2 509.8 329.2 507.2 329.2 506.8 330.2 505.2 330.2 504.8 331.2 503.2 331.2 502.8 332.2 501.2 332.2 500.8 333.2 499.2 333.2 498.8 334.2 497.2 334.2 496.8 335.2 495.2 335.2 492.8 337.2 490.2 337.2 489.8 338.2 488.2 338.2 487.8 339.2 486.2 339.2 485.8 340.2 484.2 340.2 483.8 341.2 482.2 341.2 481.8 342.2 480.2 342.2 479.8 343.2 478.2 343.2 477.8 344.2 476.2 344.2 473.8 346.2 471.2 346.2 470.8 347.2 469.2 347.2 468.8 348.2 467.2 348.2 466.8 349.2 465.2 349.2 464.8 350.2 463.2 350.2 462.8 351.2 461.2 351.2 460.8 352.2 459.2 352.2 456.8 354.2 454.2 354.2 453.8 355.2 452.2 355.2 451.8 356.2 450.2 356.2 449.8 357.2 448.2 357.2 447.8 358.2 446.2 358.2 445.8 359.2 444.2 359.2 443.8 360.2 442.2 360.2 439.8 362.2 437.2 362.2 436.8 363.2 435.2 363.2 434.8 364.2 433.2 364.2 432.8 365.2 431.2 365.2 430.8 366.2 429.2 366.2 428.8 367.2 427.2 367.2 426.8 368.2 425.2 368.2 424.8 369.2 423.2 369.2 420.8 371.2 418.2 371.2 417.8 372.2 416.2 372.2 415.8 373.2 414.2 373.2 413.8 374.2 412.2 374.2 411.8 375.2 410.2 375.2 409.8 376.2 408.2 376.2 407.8 377.2 406.2 377.2 403.8 379.2 401.2 379.2 400.8 380.2 399.2 380.2 398.8 381.2 397.2 381.2 396.8 382.2 395.2 382.2 394.8 383.2 393.2 383.2 392.8 384.2 391.2 384.2 390.8 385.2 389.2 385.2 388.8 386.2 387.2 386.2 384.8 388.2 382.2 388.2 381.8 389.2 380.2 389.2 379.8 390.2 378.2 390.2 377.8 391.2 376.2 391.2 375.8 392.2 374.2 392.2 373.8 393.2 372.2 393.2 371.8 394.2 370.2 394.2 367.8 396.2 365.2 396.2 364.8 397.2 363.2 397.2 362.8 398.2 361.2 398.2 360.8 399.2 359.2 399.2 358.8 400.2 357.2 400.2 356.8 401.2 355.2 401.2 354.8 402.2 353.2 402.2 352.8 403.2 351.2 403.2 348.8 405.2 346.2 405.2 345.8 406.2 344.2 406.2 343.8 407.2 342.2 407.2 341.8 408.2 340.2 408.2 339.8 409.2 338.2 409.2 337.8 410.2 336.2 410.2 335.8 411.2 334.2 411.2 331.8 413.2 329.2 413.2 328.8 414.2 327.2 414.2 326.8 415.2 325.2 415.2 324.8 416.2 323.2 416.2 322.8 417.2 321.2 417.2 320.8 418.2 319.2 418.2 318.8 419.2 317.2 419.2 314.8 421.2 312.2 421.2 311.8 422.2 310.2 422.2 309.8 423.2 308.2 423.2 307.8 424.2 306.2 424.2 305.8 425.2 304.2 425.2 303.8 426.2 302.2 426.2 301.8 427.2 300.2 427.2 299.8 428.2 298.2 428.2 295.8 430.2 293.2 430.2 292.8 431.2 291.2 431.2 290.8 432.2 289.2 432.2 288.8 433.2 287.2 433.2 286.8 434.2 285.2 434.2 284.8 435.2 283.2 435.2 282.8 436.2 281.2 436.2 278.8 438.2 276.2 438.2 275.8 439.2 274.2 439.2 273.8 440.2 272.2 440.2 271.8 441.2 270.2 441.2 269.8 442.2 268.2 442.2 267.8 443.2 266.2 443.2 265.8 444.2 264.2 444.2 263.8 445.2 262.2 445.2 259.8 447.2 257.2 447.2 256.8 448.2 255.2 448.2 254.8 449.2 253.2 449.2 252.8 450.2 251.2 450.2 250.8 451.2 249.2 451.2 248.8 452.2 247.2 452.2 246.8 453.2 245.2 453.2 242.8 455.2 240.2 455.2 239.8 456.2 238.2 456.2 237.8 457.2 236.2 457.2 235.8 458.2 234.2 458.2 233.8 459.2 232.2 459.2 231.8 460.2 230.2 460.2 229.8 461.2 228.2 461.2 227.8 462.2 226.2 462.2 223.8 464.2 221.2 464.2 220.8 465.2 219.2 465.2 218.8 466.2 217.2 466.2 216.8 467.2 215.2 467.2 214.8 468.2 213.2 468.2 212.8 469.2 211.2 469.2 210.8 470.2 209.2 470.2 206.8 472.2 204.2 472.2 203.8 473.2 202.2 473.2 201.8 474.2 200.2 474.2 199.8 475.2 198.2 475.2 197.8 476.2 196.2 476.2 195.8 477.2 194.2 477.2 193.8 478.2 192.2 478.2 191.8 479.2 190.2 479.2 187.8 481.2 185.2 481.2 184.8 482.2 183.2 482.2 182.8 483.2 181.2 483.2 180.8 484.2 179.2 484.2 178.8 485.2 177.2 485.2 176.8 486.2 175.2 486.2 174.8 487.2 173.2 487.2 170.8 489.2 168.2 489.2 167.8 490.2 166.2 490.2 165.8 491.2 164.2 491.2 163.8 492.2 162.2 492.2 161.8 493.2 160.2 493.2 159.8 494.2 158.2 494.2 157.8 495.2 156.2 495.2 153.8 497.2 151.2 497.2 150.8 498.2 147.2 499.2 145.2 501.2 145.2 522.8 146.2 523.2 146.2 524.8 147.2 525.2 147.2 526.8 148.2 527.2 148.2 528.8 150.2 531.2 150.2 533.8 151.2 534.2 151.2 535.8 152.2 536.2 152.2 537.8 153.2 538.2 153.2 539.8 154.2 540.2 154.2 541.8 156.2 544.2 156.2 546.8 157.2 547.2 157.2 548.8 158.2 549.2 158.2 550.8 159.2 551.2 159.2 552.8 160.2 553.2 160.2 554.8 162.2 557.2 162.2 559.8 163.2 560.2 163.2 561.8 164.2 562.2 164.2 563.8 165.2 564.2 165.2 565.8 166.2 566.2 166.2 567.8 168.2 570.2 168.2 572.8 169.2 573.2 169.2 574.8 170.2 575.2 170.2 576.8 171.2 577.2 171.2 578.8 173.2 581.2 173.2 583.8 174.2 584.2 174.2 585.8 175.2 586.2 175.2 587.8 176.2 588.2 176.2 589.8 177.2 590.2 177.2 591.8 179.2 594.2 179.2 596.8 180.2 597.2 180.2 598.8 181.2 599.2 181.2 600.8 182.2 601.2 182.2 602.8 183.2 603.2 183.2 604.8 185.2 607.2 185.2 609.8 186.2 610.2 186.2 611.8 187.2 612.2 187.2 613.8 188.2 614.2 188.2 615.8 189.2 616.2 189.2 617.8 191.2 620.2 191.2 622.8 192.2 623.2 192.2 624.8 193.2 625.2 193.2 626.8 194.2 627.2 194.2 628.8 196.2 631.2 196.2 633.8 197.2 634.2 197.2 635.8 198.2 636.2 198.2 637.8 199.2 638.2 199.2 639.8 200.2 640.2 200.2 641.8 202.2 644.2 202.2 646.8 203.2 647.2 203.2 648.8 204.2 649.2 204.2 650.8 205.2 651.2 205.2 652.8 206.2 653.2 206.2 654.8 208.2 657.2 208.2 659.8 209.2 660.2 209.2 661.8 210.2 662.2 210.2 663.8 211.2 664.2 211.2 665.8 212.2 666.2 212.2 667.8 214.2 670.2 214.2 672.8 215.2 673.2 216.2 676.8 216.8 672.2 217.8 671.8 217.8 667.2 218.8 666.8 218.8 662.2 219.8 661.8 219.8 656.2 220.8 655.8 221.8 645.2 222.8 644.8 222.8 639.2 223.8 638.8 223.8 635.2 224.8 634.8 224.8 631.2 225.8 630.8 225.8 627.2 226.8 626.8 227.8 618.2 228.8 617.8 228.8 615.2 229.8 614.8 230.8 609.2 232.8 606.8 232.8 604.2 234.8 601.8 235.8 596.2 237.8 593.8 237.8 591.2 238.8 590.8 238.8 588.2 239.8 587.8 240.8 582.2 241.8 581.8 241.8 580.2 243.8 577.8 243.8 575.2 244.8 574.8 245.8 569.2 247.8 566.8 247.8 564.2 248.8 563.8 248.8 561.2 249.8 560.8 249.8 558.2 250.8 557.8 250.8 554.2 251.8 553.8 251.8 551.2 252.8 550.8 252.8 548.2 253.8 547.8 253.8 545.2 254.8 544.8 255.8 539.2 256.8 538.8 257.8 534.2 258.8 533.8 258.8 532.2 260.8 529.8 260.8 527.2 262.8 524.8 262.8 522.2 264.8 519.8 264.8 517.2 265.8 516.8 265.8 514.2 266.8 513.8 266.8 510.2 268.8 507.8 269.8 499.2 270.8 498.8 270.8 494.2 271.8 493.8 272.8 478.2 273.8 477.8 274.8 459.2 275.8 458.8 275.8 456.2 276.8 455.8 278.8 450.2 293.2 435.8 294.8 435.8 296.8 433.8 299.2 436.8 300.8 436.8 304.2 440.2 304.2 441.8 307.2 444.2 307.2 445.8 309.2 447.2 310.2 451.8 311.2 452.2 312.2 455.8 316.2 459.2 316.2 460.8 317.2 461.8 318.8 461.8 325.2 467.8 326.8 467.8 327.2 468.8 328.8 468.8 329.2 469.8 330.8 469.8 331.2 470.8 332.8 470.8 333.2 471.8 334.8 471.8 337.2 473.8 339.8 473.8 342.2 475.8 344.8 475.8 345.2 476.8 348.8 476.8 349.2 477.8 351.8 477.8 352.2 478.8 356.8 478.8 357.2 479.8 362.8 479.8 363.2 480.8 371.8 480.8 372.2 481.8 392.8 480.8 393.2 479.8 396.8 479.8 397.2 478.8 402.8 477.8 403.2 476.8 406.8 475.8 408.2 473.8 411.8 472.8 414.2 469.8 415.8 469.8 424.2 460.8 425.8 460.8 428.2 457.8 429.8 457.8 434.2 453.8 438.8 452.8 439.2 451.8 441.8 451.8 442.2 450.8 444.8 450.8 445.2 449.8 461.8 449.8 462.2 450.8 475.8 451.8 476.2 452.8 481.8 452.8 482.2 453.8 498.8 453.8 499.2 452.8 503.8 452.8 504.2 451.8 509.8 450.8 512.2 448.8 514.8 448.8 515.2 447.8 520.8 445.8 522.2 443.8 525.8 442.8 531.2 437.8 532.8 437.8 537.2 432.8 538.8 432.8 542.8 428.8 542.8 427.2 549.8 420.8 549.8 419.2 554.8 413.8 554.8 412.2 557.8 409.8 557.8 408.2 568.2 397.8 569.8 397.8 571.2 395.8 572.8 395.8 575.2 393.8 583.8 392.8 584.2 391.8 587.8 391.8 588.2 390.8 593.8 389.8 594.2 388.8 597.8 387.8 599.2 385.8 602.8 384.8 605.2 381.8 606.8 381.8 612.8 375.8 612.8 374.2 614.8 372.8 614.8 371.2 615.8 370.8 616.8 367.2 618.8 365.8 618.8 364.2 623.2 359.8 624.8 359.8 627.2 356.8 628.8 356.8 630.2 354.8 631.8 354.8 632.2 353.8 633.8 353.8 636.2 351.8 644.8 351.8 645.2 352.8 648.8 352.8 649.2 353.8 652.8 353.8 653.2 354.8 657.8 354.8 658.2 355.8 662.8 355.8 663.2 356.8 668.8 356.8 669.2 357.8 677.8 357.8 678.2 358.8 697.8 358.8 698.2 357.8 706.8 357.8 707.2 356.8 717.8 355.8 718.2 354.8 726.8 353.8 729.2 351.8 731.8 351.8 705.2 351.2 704.8 350.2 699.2 350.2 698.8 349.2 696.2 349.2 690.8 343.8 689.8 339.2 690.8 338.8 690.8 337.2 695.2 333.8 698.8 333.8 699.2 332.8 706.8 331.8 707.2 330.8 709.8 330.8 712.2 328.8 714.8 328.8 715.2 327.8 716.8 327.8 719.2 325.8 721.8 325.8 722.2 324.8 724.8 324.8 725.2 323.8 731.8 322.8 732.2 321.8 736.8 320.8 739.8 317.8 739.8 315.2 740.8 314.8 740.8 292.2 741.8 291.8 741.8 290.2 747.2 285.8 754.8 285.8 755.2 286.8 759.8 287.8 760.2 289.8 762.2 291.2 762.2 292.8 764.2 295.2 764.2 315.8 763.2 316.2 763.2 325.8 764.2 326.2 764.2 338.8 763.2 339.2 762.2 342.8 764.8 342.8 765.2 341.8 771.8 341.8 772.2 340.8 802.8 340.8 801.8 339.8 801.8 338.2 800.8 337.8 800.8 336.2 799.8 335.8 799.8 333.2 798.8 332.8 798.8 331.2 797.8 330.8 797.8 329.2 795.8 326.8 795.8 324.2 794.8 323.8 794.8 322.2 793.8 321.8 793.8 320.2 792.8 319.8 792.8 318.2 790.8 315.8 790.8 313.2 789.8 312.8 789.8 311.2 788.8 310.8 788.8 309.2 786.8 306.8 786.8 304.2 785.8 303.8 785.8 302.2 784.8 301.8 784.8 300.2 783.8 299.8 783.8 298.2 781.8 295.8 781.8 293.2 780.8 292.8 780.8 291.2 779.8 290.8 779.8 289.2 777.8 286.8 777.8 284.2 776.8 283.8 776.8 282.2 775.8 281.8 775.8 280.2 774.8 279.8 774.8 278.2 772.8 275.8 772.8 273.2 771.8 272.8 771.8 271.2 770.8 270.8 770.8 269.2 768.8 266.8 768.8 264.2 767.8 263.8 767.8 262.2 766.8 261.8 766.8 260.2 765.8 259.8 765.8 258.2 763.8 255.8 763.8 253.2 762.8 252.8 762.8 251.2 761.8 250.8 761.8 249.2 759.8 246.8 759.8 244.2 758.8 243.8 758.8 242.2 757.8 241.8 757.8 240.2 756.8 239.8 756.8 238.2 754.8 235.8 754.8 233.2 753.8 232.8 753.8 231.2 752.8 230.8 752.8 229.2 750.8 226.8 750.8 224.2 749.8 223.8Z"/>
<path fill="#0a55f0" stroke="#0a55f0" stroke-width="0.6" fill-rule="evenodd" d="M305.2 836.2 302.2 840.2 302.2 843.8 303.2 844.2 303.2 847.8 304.2 848.2 305.2 853.8 308.2 856.2 308.2 857.8 311.2 860.8 312.8 860.8 314.2 862.8 319.8 864.8 324.2 869.8 327.8 869.8 328.2 868.8 329.8 868.8 329.8 867.2 330.8 866.8 330.8 861.2 329.8 860.8 327.8 855.2 324.8 852.8 324.8 851.2 317.8 844.8 317.8 843.2 311.8 837.2 310.2 837.2 309.8 836.2ZM285.2 822.2 295.2 832.8 296.8 832.8 296.8 829.2 290.8 823.2 289.2 823.2 288.8 822.2ZM389.8 798.2 388.2 798.2 386.8 796.2 383.2 796.2 382.2 795.2 381.8 796.2 376.2 796.2 375.8 797.2 373.2 797.2 371.8 799.2 370.2 799.2 369.2 800.2 369.2 801.8 367.2 803.2 367.2 804.8 366.2 805.2 366.2 806.8 365.2 807.2 365.2 808.8 363.2 811.2 363.2 813.8 362.2 814.2 362.2 815.8 361.2 816.2 361.2 817.8 360.2 818.2 360.2 819.8 359.2 820.2 359.2 821.8 358.2 822.2 358.2 823.8 357.2 824.2 357.2 825.8 356.2 826.2 356.2 827.8 355.2 828.2 355.2 829.8 353.2 832.2 353.2 834.8 352.2 835.2 352.2 837.8 351.2 838.2 352.2 844.8 354.2 846.8 355.8 846.8 356.2 847.8 359.8 847.8 360.2 848.8 370.8 846.8 371.2 845.8 376.8 843.8 381.2 838.8 382.8 838.8 387.8 833.8 387.8 832.2 390.8 829.8 390.8 828.2 391.8 827.8 391.8 826.2 392.8 825.8 392.8 824.2 394.8 821.8 394.8 819.2 395.8 818.8 395.8 807.2 394.8 806.8 393.8 803.2 391.8 801.8 391.8 800.2ZM267.2 731.2 267.2 734.8 268.8 734.8 269.2 735.8 273.8 735.8 274.2 734.8 275.8 734.8 275.8 731.2 274.2 731.2 273.8 730.2 269.2 730.2 268.8 731.2ZM346.2 705.2 346.2 706.8 344.2 709.2 344.2 714.8 345.2 715.2 346.2 718.8 347.8 718.8 351.2 721.8 358.8 721.8 362.2 718.8 363.8 718.8 363.8 717.2 365.8 714.8 365.8 709.2 364.8 708.8 363.8 705.2 362.2 705.2 360.8 703.2 349.2 703.2 347.8 705.2ZM341.2 662.2 340.2 663.2 340.2 667.8 342.2 669.8 346.8 669.8 347.8 668.8 347.8 667.2 348.8 666.8 347.8 662.2 346.2 662.2 345.8 661.2ZM380.2 644.2 379.8 645.2 378.2 645.2 378.2 646.8 377.2 647.2 377.2 656.8 378.2 657.2 378.2 670.8 377.2 671.2 377.2 673.8 375.2 676.2 374.2 684.8 373.2 685.2 373.2 698.8 374.2 699.2 375.2 704.8 377.2 706.2 377.2 707.8 380.2 710.8 381.8 710.8 384.2 712.8 390.8 713.8 394.8 710.8 395.8 706.2 396.8 705.8 396.8 700.2 397.8 699.8 397.8 672.2 396.8 671.8 396.8 664.2 395.8 663.8 395.8 660.2 394.8 659.8 394.8 658.2 393.8 657.8 391.8 652.2 389.8 650.8 389.8 649.2 385.8 645.2 384.2 645.2 383.8 644.2ZM422.8 621.2 413.2 621.2 412.8 622.2 410.2 622.2 409.8 623.2 408.2 623.2 404.2 628.2 404.2 647.8 405.2 648.2 405.2 651.8 406.2 652.2 406.2 655.8 407.2 656.2 408.2 661.8 412.2 665.8 416.8 665.8 417.2 664.8 419.8 664.8 420.2 663.8 422.8 663.8 423.2 662.8 427.8 661.8 429.2 659.8 430.8 659.8 435.8 653.8 435.8 648.2 436.8 647.8 435.8 646.8 435.8 642.2 434.8 641.8 434.8 640.2 433.8 639.8 433.8 638.2 432.8 637.8 432.8 636.2 431.8 635.8 429.8 630.2 427.8 628.8 426.8 625.2ZM405.2 536.2 401.2 539.2 401.2 544.8 405.2 547.8 408.8 547.8 409.2 546.8 410.8 546.8 411.8 545.8 411.8 544.2 412.8 543.8 412.8 540.2 411.8 539.8 411.8 538.2 410.8 537.2ZM912.8 584.2 911.8 583.8 911.8 582.2 910.8 581.8 910.8 580.2 909.8 579.8 909.8 578.2 907.8 575.8 907.8 573.2 906.8 572.8 906.8 571.2 905.8 570.8 905.8 569.2 903.8 566.8 903.8 564.2 902.8 563.8 902.8 562.2 901.8 561.8 901.8 560.2 900.8 559.8 900.8 558.2 898.8 555.8 898.8 553.2 897.8 552.8 897.8 551.2 896.8 550.8 896.8 549.2 894.8 546.8 894.8 544.2 893.8 543.8 893.8 542.2 892.8 541.8 892.8 540.2 891.8 539.8 891.8 538.2 889.8 535.8 889.8 533.2 888.8 532.8 888.8 531.2 887.8 530.8 887.8 529.2 885.8 526.8 885.8 524.2 884.8 523.8 884.8 522.2 883.8 521.8 883.8 520.2 882.8 519.8 882.8 518.2 880.8 515.8 880.8 513.2 879.8 512.8 879.8 511.2 878.8 510.8 878.8 509.2 876.8 506.8 876.8 504.2 875.8 503.8 875.8 502.2 874.8 501.8 874.8 500.2 873.8 499.8 873.8 498.2 871.8 495.8 871.8 493.2 870.8 492.8 870.8 491.2 869.8 490.8 869.8 489.2 867.8 486.8 867.8 484.2 866.8 483.8 866.8 482.2 865.8 481.8 865.8 480.2 864.8 479.8 862.2 473.2 861.2 474.2 861.2 487.8 862.2 488.2 862.2 495.8 863.2 496.2 863.2 503.8 864.2 504.2 864.2 513.8 865.2 514.2 865.2 542.8 864.2 543.2 863.8 545.2 861.8 544.8 861.8 535.2 860.8 534.8 860.8 529.2 859.8 528.8 859.8 518.2 858.8 517.8 858.8 509.2 857.8 508.8 857.8 500.2 856.8 499.8 857.8 491.2 856.8 490.8 856.8 485.2 855.8 484.8 855.8 483.2 854.2 483.2 846.8 491.2 845.2 491.2 843.8 493.2 840.2 494.2 838.8 496.2 837.2 496.2 834.8 498.2 832.2 498.2 829.8 500.2 823.2 501.2 822.8 502.2 818.2 502.2 817.8 503.2 813.2 503.2 812.8 504.2 805.2 504.2 804.8 505.2 799.2 505.2 798.8 506.2 792.2 506.2 791.8 507.2 787.2 507.2 786.8 508.2 784.2 508.2 783.8 509.2 781.2 509.2 780.8 510.2 778.2 510.2 777.8 511.2 774.2 512.2 759.2 527.2 759.2 528.8 753.2 535.2 753.2 536.8 751.2 538.2 751.2 539.8 747.2 543.2 746.2 546.8 744.2 548.2 742.2 553.8 740.2 555.2 740.2 556.8 739.2 557.2 739.2 558.8 738.2 559.2 738.2 560.8 736.2 563.2 736.2 565.8 735.2 566.2 734.2 569.8 732.2 571.2 732.2 572.8 730.2 574.2 729.2 577.8 715.8 591.2 712.2 592.2 708.8 595.2 706.2 595.2 705.8 596.2 701.2 597.2 700.8 598.2 694.2 598.2 693.8 599.2 682.2 599.2 681.8 600.2 674.2 600.2 673.8 601.2 666.2 601.2 665.8 602.2 662.2 602.2 661.8 603.2 659.2 603.2 658.8 604.2 655.2 604.2 654.8 605.2 649.2 607.2 644.8 611.2 643.2 611.2 636.2 618.2 636.2 619.8 634.2 621.2 634.2 622.8 621.8 634.2 620.2 634.2 618.8 636.2 616.2 636.2 613.8 638.2 611.2 638.2 610.8 639.2 608.2 639.2 607.8 640.2 603.2 640.2 602.8 641.2 600.2 641.2 599.8 640.2 597.2 640.2 596.8 639.2 592.2 639.2 591.8 638.2 590.8 639.2 586.2 639.2 585.8 638.2 581.2 638.2 580.8 637.2 578.2 637.2 577.8 636.2 572.2 634.2 570.8 632.2 569.2 632.2 563.8 626.8 563.8 625.2 562.2 625.2 560.8 623.2 559.2 623.2 558.8 622.2 554.2 622.2 550.8 625.2 549.2 625.2 541.2 633.2 541.2 634.8 535.2 640.2 535.2 641.8 529.2 648.2 527.2 653.8 525.2 655.2 521.8 664.2 519.8 662.2 514.2 662.2 513.8 663.2 511.2 663.2 510.8 664.2 508.2 664.2 507.8 665.2 502.2 665.2 501.8 666.2 496.2 666.2 495.8 667.2 481.2 667.2 480.8 668.2 474.2 668.2 473.8 669.2 469.2 669.2 468.8 670.2 466.2 670.2 465.8 671.2 464.2 671.2 463.8 672.2 458.2 674.2 456.8 676.2 455.2 676.2 454.8 677.2 453.2 677.2 452.8 678.2 451.2 678.2 450.8 679.2 449.2 679.2 446.8 681.2 444.2 681.2 443.8 682.2 441.2 682.2 440.8 683.2 435.2 684.2 432.8 686.2 427.2 687.2 426.8 688.2 425.2 688.2 424.8 689.2 423.2 689.2 422.8 690.2 421.2 690.2 420.8 691.2 419.2 691.2 418.8 692.2 417.2 692.2 416.8 693.2 415.2 693.2 414.8 694.2 413.2 694.2 410.8 696.2 408.2 696.2 402.2 703.2 402.2 708.8 403.8 708.8 404.8 709.8 405.2 708.8 410.8 707.8 412.2 705.8 415.8 704.8 417.2 702.8 420.8 701.8 422.2 699.8 423.8 699.8 425.2 697.8 426.8 697.8 427.2 696.8 428.8 696.8 431.2 694.8 441.8 694.8 444.2 697.8 445.8 697.8 450.2 701.8 451.8 701.8 454.2 703.8 457.8 703.8 458.2 704.8 464.8 704.8 465.2 703.8 474.8 702.8 475.2 701.8 477.8 701.8 478.2 700.8 482.8 699.8 484.2 697.8 487.8 696.8 490.8 693.8 490.8 692.2 495.2 687.8 496.8 687.8 497.2 686.8 498.8 686.8 499.2 685.8 500.8 685.8 501.2 684.8 502.8 684.8 503.2 683.8 504.8 683.8 505.2 682.8 506.8 682.8 507.2 681.8 512.8 679.8 513.8 675.2 516.2 672.8 518.8 672.8 522.2 676.8 523.8 676.8 525.2 678.8 529.8 678.8 530.2 677.8 534.8 677.8 535.2 676.8 539.8 676.8 540.2 675.8 548.8 675.8 549.8 676.8 553.2 672.8 554.8 672.8 555.2 671.8 569.8 671.8 570.2 672.8 572.8 672.8 573.2 673.8 577.8 674.8 586.2 682.8 587.8 682.8 590.2 684.8 593.8 684.8 596.2 686.8 599.8 686.8 602.2 684.8 604.8 684.8 605.2 683.8 607.8 683.8 608.2 682.8 610.8 682.8 611.2 681.8 613.8 681.8 614.2 680.8 616.8 680.8 617.2 679.8 624.8 678.8 625.2 677.8 635.8 677.8 636.2 678.8 642.8 678.8 643.2 679.8 648.8 679.8 649.2 680.8 666.8 681.8 667.2 682.8 672.8 682.8 673.2 683.8 675.8 683.8 676.2 684.8 681.8 684.8 682.2 685.8 694.8 685.8 695.2 684.8 701.8 683.8 702.2 682.8 704.8 682.8 705.2 681.8 710.8 680.8 713.2 678.8 715.8 678.8 715.8 677.2 714.8 676.8 714.8 672.2 715.8 671.8 716.8 668.2 720.2 664.8 721.8 664.8 723.2 662.8 724.8 662.8 727.2 660.8 733.8 659.8 734.2 658.8 748.8 658.8 749.2 659.8 743.2 660.2 742.8 661.2 739.2 661.2 738.8 662.2 736.2 662.2 733.8 664.2 731.2 664.2 730.8 665.2 729.2 665.2 728.8 666.2 723.2 668.2 722.2 669.2 722.2 672.8 727.8 672.8 728.2 671.8 730.8 671.8 731.2 670.8 732.8 670.8 733.2 669.8 734.8 669.8 737.2 667.8 739.8 667.8 740.2 666.8 742.8 666.8 743.2 665.8 745.8 665.8 746.2 664.8 755.8 663.8 758.2 660.8 759.2 661.2 759.2 662.8 756.2 665.8 761.8 666.8 762.2 665.8 763.8 665.8 764.2 664.8 765.8 664.8 766.2 663.8 767.8 663.8 768.2 662.8 769.8 662.8 770.2 661.8 771.8 661.8 774.2 659.8 776.8 659.8 777.2 658.8 778.8 658.8 779.2 657.8 780.8 657.8 781.2 656.8 782.8 656.8 783.2 655.8 784.8 655.8 785.2 654.8 786.8 654.8 787.2 653.8 788.8 653.8 789.2 652.8 790.8 652.8 791.2 651.8 792.8 651.8 795.2 649.8 797.8 649.8 798.2 648.8 799.8 648.8 800.2 647.8 801.8 647.8 802.2 646.8 803.8 646.8 804.2 645.8 805.8 645.8 806.2 644.8 807.8 644.8 808.2 643.8 809.8 643.8 810.2 642.8 811.8 642.8 814.2 640.8 816.8 640.8 817.2 639.8 820.8 638.8 821.8 637.2 820.2 637.2 818.8 635.8 818.8 634.2 817.8 633.8 815.8 628.2 812.8 624.8 812.8 621.2 811.8 620.8 811.8 610.2 812.8 609.8 813.8 606.2 818.2 601.8 819.8 601.8 820.2 600.8 821.8 600.8 824.2 598.8 826.8 598.8 827.2 597.8 832.8 598.8 836.2 602.2 836.2 603.8 837.2 604.2 837.2 605.8 839.2 608.2 839.2 611.8 840.2 612.2 840.2 617.8 841.2 618.2 841.2 619.8 840.2 620.2 839.2 623.8 835.2 626.2 836.2 630.8 837.8 630.8 838.2 629.8 839.8 629.8 840.2 628.8 841.8 628.8 842.2 627.8 843.8 627.8 844.2 626.8 845.8 626.8 846.2 625.8 847.8 625.8 848.2 624.8 849.8 624.8 850.2 623.8 851.8 623.8 854.2 621.8 856.8 621.8 857.2 620.8 858.8 620.8 859.2 619.8 860.8 619.8 861.2 618.8 862.8 618.8 863.2 617.8 864.8 617.8 865.2 616.8 866.8 616.8 867.2 615.8 868.8 615.8 869.2 614.8 870.8 614.8 873.2 612.8 875.8 612.8 876.2 611.8 877.8 611.8 878.2 610.8 879.8 610.8 880.2 609.8 881.8 609.8 882.2 608.8 883.8 608.8 884.2 607.8 885.8 607.8 886.2 606.8 887.8 606.8 888.2 605.8 889.8 605.8 890.2 604.8 891.8 604.8 894.2 602.8 896.8 602.8 897.2 601.8 898.8 601.8 899.2 600.8 900.8 600.8 901.2 599.8 902.8 599.8 903.2 598.8 904.8 598.8 905.2 597.8 910.8 595.8 912.8 593.8ZM669.8 665.2 670.8 664.8 670.8 663.2 674.2 659.8 675.8 659.8 677.2 657.8 679.8 657.8 680.2 656.8 682.8 656.8 683.2 655.8 695.8 655.8 696.2 656.8 701.8 657.8 703.2 659.8 704.8 659.8 708.2 663.2 710.2 669.8 709.2 670.2 708.2 673.8 704.8 677.2 703.2 677.2 701.8 679.2 699.2 679.2 698.8 680.2 696.2 680.2 695.8 681.2 683.2 681.2 682.8 680.2 677.2 679.2 675.8 677.2 674.2 677.2 670.8 673.8 670.8 672.2 669.8 671.8ZM716.2 621.8 721.8 622.8 722.2 624.8 724.2 626.2 724.2 629.8 719.8 633.2 715.2 633.2 710.8 628.8 711.8 625.2ZM281.8 436.2 280.8 437.2 279.2 437.2 278.8 438.2 276.2 438.2 275.8 439.2 274.2 439.2 273.8 440.2 272.2 440.2 271.8 441.2 270.2 441.2 269.8 442.2 268.2 442.2 267.8 443.2 266.2 443.2 265.8 444.2 264.2 444.2 263.8 445.2 262.2 445.2 259.8 447.2 257.2 447.2 256.8 448.2 255.2 448.2 254.8 449.2 253.2 449.2 252.8 450.2 251.2 450.2 250.8 451.2 249.2 451.2 248.8 452.2 247.2 452.2 246.8 453.2 245.2 453.2 242.8 455.2 240.2 455.2 239.8 456.2 238.2 456.2 237.8 457.2 236.2 457.2 235.8 458.2 234.2 458.2 233.8 459.2 232.2 459.2 231.8 460.2 230.2 460.2 229.8 461.2 228.2 461.2 227.8 462.2 226.2 462.2 223.8 464.2 221.2 464.2 220.8 465.2 219.2 465.2 218.8 466.2 217.2 466.2 216.8 467.2 215.2 467.2 214.8 468.2 213.2 468.2 212.8 469.2 211.2 469.2 210.8 470.2 209.2 470.2 206.8 472.2 204.2 472.2 203.8 473.2 202.2 473.2 201.8 474.2 200.2 474.2 199.8 475.2 198.2 475.2 197.8 476.2 196.2 476.2 195.8 477.2 194.2 477.2 193.8 478.2 192.2 478.2 191.8 479.2 190.2 479.2 187.8 481.2 185.2 481.2 184.8 482.2 183.2 482.2 182.8 483.2 181.2 483.2 180.8 484.2 179.2 484.2 178.8 485.2 177.2 485.2 176.8 486.2 175.2 486.2 174.8 487.2 173.2 487.2 170.8 489.2 168.2 489.2 167.8 490.2 166.2 490.2 165.8 491.2 164.2 491.2 163.8 492.2 162.2 492.2 161.8 493.2 160.2 493.2 159.8 494.2 158.2 494.2 157.8 495.2 156.2 495.2 153.8 497.2 151.2 497.2 150.8 498.2 147.2 499.2 145.2 501.2 145.2 522.8 146.2 523.2 146.2 524.8 147.2 525.2 147.2 526.8 148.2 527.2 148.2 528.8 150.2 531.2 150.2 533.8 151.2 534.2 151.2 535.8 152.2 536.2 152.2 537.8 153.2 538.2 153.2 539.8 154.2 540.2 154.2 541.8 156.2 544.2 156.2 546.8 157.2 547.2 157.2 548.8 158.2 549.2 158.2 550.8 159.2 551.2 159.2 552.8 160.2 553.2 160.2 554.8 162.2 557.2 162.2 559.8 163.2 560.2 163.2 561.8 164.2 562.2 164.2 563.8 165.2 564.2 165.2 565.8 166.2 566.2 166.2 567.8 168.2 570.2 168.2 572.8 169.2 573.2 169.2 574.8 170.2 575.2 170.2 576.8 171.2 577.2 171.2 578.8 173.2 581.2 173.2 583.8 174.2 584.2 174.2 585.8 175.2 586.2 175.2 587.8 176.2 588.2 176.2 589.8 177.2 590.2 177.2 591.8 179.2 594.2 179.2 596.8 180.2 597.2 180.2 598.8 181.2 599.2 181.2 600.8 182.2 601.2 182.2 602.8 183.2 603.2 183.2 604.8 185.2 607.2 185.2 609.8 186.2 610.2 186.2 611.8 187.2 612.2 187.2 613.8 188.2 614.2 188.2 615.8 189.2 616.2 189.2 617.8 191.2 620.2 191.2 622.8 192.2 623.2 192.2 624.8 193.2 625.2 193.2 626.8 194.2 627.2 194.2 628.8 196.2 631.2 196.2 633.8 197.2 634.2 197.2 635.8 198.2 636.2 198.2 637.8 199.2 638.2 199.2 639.8 200.2 640.2 200.2 641.8 202.2 644.2 202.2 646.8 203.2 647.2 203.2 648.8 204.2 649.2 204.2 650.8 205.2 651.2 205.2 652.8 206.2 653.2 206.2 654.8 208.2 657.2 209.2 661.8 210.8 661.8 213.8 658.8 213.8 657.2 214.8 656.8 214.8 655.2 216.8 652.8 216.8 649.2 217.8 648.8 217.8 645.2 218.8 644.8 219.8 636.2 220.8 635.8 220.8 633.2 221.8 632.8 221.8 629.2 222.8 628.8 223.8 621.2 224.8 620.8 224.8 618.2 225.8 617.8 225.8 615.2 226.8 614.8 226.8 612.2 227.8 611.8 228.8 606.2 229.8 605.8 229.8 604.2 231.8 601.8 232.8 595.2 234.8 592.8 234.8 590.2 235.8 589.8 236.8 585.2 238.8 582.8 238.8 580.2 239.8 579.8 239.8 577.2 240.8 576.8 240.8 573.2 242.8 570.8 242.8 568.2 243.8 567.8 243.8 565.2 244.8 564.8 244.8 562.2 245.8 561.8 245.8 558.2 247.8 555.8 247.8 553.2 248.8 552.8 248.8 550.2 249.8 549.8 249.8 547.2 250.8 546.8 250.8 543.2 251.8 542.8 251.8 540.2 252.8 539.8 252.8 537.2 253.8 536.8 253.8 533.2 254.8 532.8 254.8 529.2 255.8 528.8 255.8 525.2 256.8 524.8 256.8 520.2 257.8 519.8 257.8 515.2 258.8 514.8 258.8 507.2 259.8 506.8 259.8 495.2 260.8 494.8 260.8 479.2 261.8 478.8 261.8 468.2 262.8 467.8 263.8 457.2 264.8 456.8 264.8 455.2 265.8 454.8 267.8 449.2 270.2 446.8 271.8 446.8 275.2 442.8 276.8 442.8 279.2 439.8 280.8 439.8ZM659.2 344.2 659.2 347.8 661.2 349.8 662.8 349.8 663.2 350.8 666.8 350.8 667.2 351.8 668.8 351.8 669.2 350.8 672.8 350.8 674.2 348.8 675.8 348.8 676.8 347.8 676.8 344.2 675.8 343.2 674.2 343.2 672.8 341.2 663.2 341.2ZM702.8 292.2 701.8 291.8 700.8 288.2 695.8 284.2 692.2 284.2 691.8 283.2 685.2 283.2 681.8 280.2 679.2 280.2 678.8 279.2 673.2 278.2 672.8 279.2 670.2 279.2 669.8 280.2 666.2 281.2 664.8 283.2 663.2 283.2 660.2 286.2 660.2 287.8 658.8 289.2 657.2 289.2 655.8 291.2 653.2 291.2 652.8 292.2 639.2 292.2 638.8 293.2 629.2 293.2 628.8 294.2 620.2 294.2 619.8 295.2 614.2 295.2 613.8 296.2 610.2 296.2 609.8 297.2 605.2 297.2 604.8 298.2 598.2 299.2 597.8 300.2 593.2 301.2 590.8 303.2 573.2 303.2 573.2 298.2 572.8 299.2 571.2 299.2 570.8 300.2 569.2 300.2 568.8 301.2 567.2 301.2 564.8 303.2 562.2 303.2 561.8 304.2 560.2 304.2 559.8 305.2 558.2 305.2 557.8 306.2 556.2 306.2 555.8 307.2 554.2 307.2 553.8 308.2 552.2 308.2 551.8 309.2 550.2 309.2 549.8 310.2 548.2 310.2 545.8 312.2 543.2 312.2 542.8 313.2 541.2 313.2 540.8 314.2 539.2 314.2 538.8 315.2 537.2 315.2 536.8 316.2 535.2 316.2 534.8 317.2 533.2 317.2 532.8 318.2 531.2 318.2 528.8 320.2 526.2 320.2 525.8 321.2 524.2 321.2 523.8 322.2 522.2 322.2 521.8 323.2 520.2 323.2 519.8 324.2 518.2 324.2 517.8 325.2 516.2 325.2 515.8 326.2 514.2 326.2 513.8 327.2 512.2 327.2 509.8 329.2 507.2 329.2 506.8 330.2 505.2 330.2 504.8 331.2 503.2 331.2 502.8 332.2 501.2 332.2 500.8 333.2 499.2 333.2 498.8 334.2 497.2 334.2 496.8 335.2 495.2 335.2 492.8 337.2 490.2 337.2 489.8 338.2 488.2 338.2 487.8 339.2 486.2 339.2 485.8 340.2 484.2 340.2 483.8 341.2 482.2 341.2 481.8 342.2 480.2 342.2 479.8 343.2 478.2 343.2 477.8 344.2 476.2 344.2 473.8 346.2 471.2 346.2 470.8 347.2 469.2 347.2 468.8 348.2 467.2 348.2 466.8 349.2 465.2 349.2 464.8 350.2 463.2 350.2 462.8 351.2 461.2 351.2 460.8 352.2 459.2 352.2 456.8 354.2 454.2 354.2 453.8 355.2 452.2 355.2 451.8 356.2 450.2 356.2 449.8 357.2 448.2 357.2 447.8 358.2 446.2 358.2 445.8 359.2 444.2 359.2 443.8 360.2 442.2 360.2 439.8 362.2 437.2 362.2 436.8 363.2 435.2 363.2 434.8 364.2 433.2 364.2 432.8 365.2 431.2 365.2 430.8 366.2 429.2 366.2 428.8 367.2 427.2 367.2 426.8 368.2 425.2 368.2 424.8 369.2 423.2 369.2 420.8 371.2 418.2 371.2 417.8 372.2 416.2 372.2 415.8 373.2 414.2 373.2 413.8 374.2 412.2 374.2 411.8 375.2 410.2 375.2 409.8 376.2 408.2 376.2 407.8 377.2 406.2 377.2 403.8 379.2 401.2 379.2 400.8 380.2 399.2 380.2 398.8 381.2 397.2 381.2 396.8 382.2 395.2 382.2 394.8 383.2 393.2 383.2 392.8 384.2 391.2 384.2 390.8 385.2 389.2 385.2 388.8 386.2 387.2 386.2 384.8 388.2 382.2 388.2 381.8 389.2 380.2 389.2 379.8 390.2 378.2 390.2 377.8 391.2 376.2 391.2 375.8 392.2 374.2 392.2 373.8 393.2 372.2 393.2 371.8 394.2 370.2 394.2 367.8 396.2 365.2 396.2 364.8 397.2 363.2 397.2 362.8 398.2 361.2 398.2 360.8 399.2 359.2 399.2 358.8 400.2 357.2 400.2 356.8 401.2 355.2 401.2 354.8 402.2 353.2 402.2 352.8 403.2 351.2 403.2 348.8 405.2 346.2 405.2 345.8 406.2 344.2 406.2 343.8 407.2 342.2 407.2 341.8 408.2 340.2 408.2 339.8 409.2 338.2 409.2 337.8 410.2 336.2 410.2 335.8 411.2 334.2 411.2 331.8 413.2 329.2 413.2 328.8 414.2 327.2 414.2 326.8 415.2 325.2 415.2 324.8 416.2 323.2 416.2 322.8 417.2 321.2 417.2 320.8 418.2 319.2 418.2 318.8 419.2 317.2 419.2 314.8 421.2 312.2 421.2 313.2 422.2 314.2 428.8 316.2 431.2 316.2 433.8 317.2 434.2 317.2 435.8 318.2 436.2 318.2 437.8 319.2 438.2 319.2 439.8 320.2 440.2 320.2 441.8 321.2 442.2 321.2 443.8 322.2 444.2 324.2 449.8 334.2 460.8 335.8 460.8 338.2 463.8 339.8 463.8 340.2 464.8 341.8 464.8 342.2 465.8 343.8 465.8 344.2 466.8 345.8 466.8 346.2 467.8 347.8 467.8 348.2 468.8 349.8 468.8 352.2 470.8 354.8 470.8 355.2 471.8 357.8 471.8 358.2 472.8 360.8 472.8 361.2 473.8 366.8 473.8 367.2 474.8 377.8 474.8 378.2 473.8 385.8 473.8 386.2 472.8 388.8 472.8 391.2 470.8 393.8 470.8 394.2 469.8 399.8 467.8 404.2 463.8 405.8 463.8 412.8 456.8 412.8 455.2 414.2 453.8 415.8 453.8 423.2 446.8 424.8 446.8 426.2 444.8 431.8 443.8 432.2 442.8 454.8 442.8 455.2 443.8 460.8 443.8 461.2 444.8 465.8 444.8 466.2 445.8 472.8 445.8 473.2 446.8 478.8 446.8 479.2 447.8 498.8 447.8 499.2 446.8 501.8 446.8 502.2 445.8 505.8 445.8 506.2 444.8 509.8 444.8 510.2 443.8 515.8 442.8 516.2 441.8 517.8 441.8 520.2 439.8 522.8 439.8 525.2 437.8 527.8 437.8 529.2 435.8 530.8 435.8 533.2 432.8 534.8 432.8 535.8 431.8 535.8 430.2 539.8 426.8 539.8 425.2 541.8 423.8 541.8 422.2 542.8 421.8 544.8 416.2 546.8 414.8 546.8 413.2 548.8 410.8 548.8 408.2 549.8 407.8 551.8 402.2 553.8 400.8 553.8 399.2 555.8 397.8 555.8 396.2 560.8 391.8 560.8 390.2 565.2 385.8 566.8 385.8 568.2 383.8 569.8 383.8 570.2 382.8 571.8 382.8 574.2 380.8 577.8 380.8 578.2 379.8 583.8 379.8 584.2 378.8 586.8 378.8 587.2 377.8 589.8 377.8 590.2 376.8 595.8 375.8 597.2 373.8 598.8 373.8 600.2 371.8 601.8 371.8 601.8 370.2 605.8 366.8 605.8 365.2 606.8 364.8 606.8 363.2 608.8 360.8 608.8 358.2 609.8 357.8 610.8 354.2 614.2 350.8 615.8 350.8 619.2 347.8 622.8 346.8 629.2 340.8 630.8 340.8 632.2 338.8 633.8 338.8 635.2 336.8 636.8 336.8 638.2 334.8 639.8 334.8 642.2 331.8 643.8 331.8 650.2 324.8 651.8 324.8 652.2 323.8 655.8 323.8 656.2 322.8 664.8 321.8 665.2 320.8 680.8 319.8 681.2 318.8 684.8 318.8 685.2 317.8 687.8 317.8 688.2 316.8 690.8 316.8 691.2 315.8 695.8 314.8 699.2 310.8 700.8 310.8 700.8 309.2 702.8 307.8 702.8 305.2 703.8 304.8 703.8 295.2 702.8 294.8ZM731.8 224.2 730.2 224.2 729.8 225.2 728.2 225.2 727.8 226.2 726.2 226.2 723.8 228.2 721.2 228.2 720.8 229.2 719.2 229.2 718.8 230.2 717.2 230.2 716.8 231.2 715.2 231.2 714.8 232.2 713.2 232.2 712.8 233.2 711.2 233.2 710.8 234.2 709.2 234.2 706.8 236.2 704.2 236.2 703.8 237.2 702.2 237.2 701.8 238.2 700.2 238.2 699.8 239.2 698.2 239.2 697.8 240.2 696.2 240.2 695.8 241.2 694.2 241.2 693.8 242.2 692.2 242.2 689.8 244.2 687.2 244.2 686.8 245.2 685.2 245.2 683.2 246.8 684.2 247.2 684.2 248.8 685.2 249.8 686.8 249.8 688.2 251.8 693.8 251.8 694.2 250.8 697.8 250.8 698.2 249.8 701.8 249.8 704.2 247.8 706.8 247.8 707.2 246.8 712.8 244.8 714.2 242.8 719.8 240.8 725.2 235.8 726.8 235.8 729.8 232.8 729.8 231.2 731.8 228.8Z"/>
<path fill="#0aa5f5" stroke="#0aa5f5" stroke-width="0.6" fill-rule="evenodd" d="M306.2 836.2 303.2 839.2 303.2 847.8 304.2 848.2 304.2 850.8 307.2 854.2 307.2 855.8 312.2 860.8 313.8 860.8 316.2 863.8 319.8 864.8 323.2 868.8 328.8 868.8 329.8 867.8 329.8 866.2 330.8 865.8 330.8 863.2 329.8 862.8 329.8 860.2 328.8 859.8 327.8 856.2 325.8 854.8 325.8 853.2 320.8 848.8 320.8 847.2 310.8 837.2ZM286.2 823.2 294.2 831.8 295.8 831.8 295.8 829.2 289.8 823.2ZM388.8 805.2 380.2 805.2 379.8 806.2 377.2 806.2 376.8 807.2 373.2 808.2 367.2 814.2 367.2 815.8 363.2 820.2 363.2 821.8 362.2 822.2 360.2 827.8 358.2 829.2 357.2 832.8 354.2 836.2 354.2 839.8 355.2 840.2 355.2 842.8 356.2 843.8 357.8 843.8 358.2 844.8 359.2 843.8 362.8 843.8 363.2 842.8 364.8 842.8 365.2 841.8 370.8 839.8 372.2 837.8 373.8 837.8 375.2 835.8 376.8 835.8 379.2 832.8 380.8 832.8 387.8 825.8 387.8 824.2 388.8 823.8 388.8 822.2 390.8 819.8 390.8 817.2 391.8 816.8 391.8 809.2 389.8 807.8 389.8 806.2ZM415.8 697.2 411.2 696.2 410.8 697.2 407.2 698.2 406.2 699.2 406.2 703.8 407.2 704.8 408.8 704.8 409.2 705.8 410.2 704.8 412.8 704.8 415.8 701.8ZM382.2 684.2 381.8 685.2 380.2 685.2 379.2 686.2 379.2 687.8 378.2 688.2 378.2 694.8 377.2 695.2 377.2 698.8 378.2 699.2 378.2 704.8 379.2 705.2 379.2 706.8 381.2 708.8 385.8 708.8 386.8 707.8 386.8 706.2 388.8 704.8 388.8 701.2 389.8 700.8 389.8 692.2 388.8 691.8 387.8 687.2 385.8 685.2ZM508.8 668.2 507.8 667.2 501.2 667.2 500.8 668.2 492.2 668.2 491.8 669.2 481.2 669.2 480.8 670.2 474.2 670.2 473.8 671.2 471.2 671.2 470.8 672.2 468.2 672.2 467.8 673.2 465.2 673.2 464.8 674.2 461.2 675.2 459.8 677.2 458.2 677.2 452.8 683.2 451.2 683.2 451.2 684.8 449.2 687.2 450.2 693.8 451.2 694.2 451.2 695.8 453.2 698.2 452.2 699.2 452.2 700.8 453.2 701.8 454.8 701.8 455.2 702.8 457.8 702.8 458.2 703.8 464.8 703.8 465.2 702.8 469.8 702.8 470.2 701.8 476.8 700.8 478.2 698.8 479.8 698.8 482.8 695.8 482.8 694.2 485.2 691.8 486.8 691.8 493.2 684.8 494.8 684.8 496.2 682.8 497.8 682.8 499.2 680.8 500.8 680.8 502.2 678.8 503.8 678.8 507.8 674.8 507.8 673.2 508.8 672.8ZM419.8 639.2 415.2 639.2 414.8 640.2 412.2 640.2 411.2 641.2 411.2 642.8 410.2 643.2 410.2 644.8 409.2 645.2 409.2 655.8 410.2 656.2 410.2 659.8 412.2 661.8 416.8 661.8 417.2 660.8 419.8 660.8 423.2 657.8 424.8 657.8 426.2 655.8 427.8 655.8 427.8 654.2 428.8 653.8 428.8 648.2 427.8 647.8 427.8 646.2 425.8 644.8 425.8 643.2 424.2 643.2 421.8 640.2 420.2 640.2ZM912.8 584.2 911.8 583.8 911.8 582.2 910.8 581.8 910.8 580.2 909.8 579.8 909.8 578.2 907.8 575.8 907.8 573.2 906.8 572.8 906.8 571.2 905.8 570.8 905.8 569.2 903.8 566.8 903.8 564.2 902.8 563.8 902.8 562.2 901.8 561.8 901.8 560.2 900.8 559.8 900.8 558.2 898.8 555.8 898.8 553.2 897.8 552.8 897.8 551.2 896.8 550.8 896.8 549.2 894.8 546.8 894.8 544.2 893.8 543.8 893.8 542.2 892.8 541.8 892.8 540.2 891.8 539.8 891.8 538.2 889.8 535.8 889.8 533.2 888.8 532.8 888.8 531.2 887.8 530.8 887.8 529.2 885.8 526.8 885.8 524.2 884.8 523.8 884.8 522.2 883.8 521.8 883.8 520.2 882.8 519.8 882.8 518.2 880.8 515.8 880.8 513.2 879.8 512.8 879.8 511.2 878.8 510.8 878.8 509.2 876.8 506.8 876.8 504.2 875.8 503.8 875.8 502.2 874.8 501.8 874.8 500.2 873.8 499.8 873.8 498.2 871.8 495.8 871.8 493.2 870.8 492.8 870.8 491.2 869.8 490.8 869.8 489.2 867.8 486.8 867.8 484.2 866.8 483.8 866.8 482.2 865.8 481.8 865.8 480.2 864.8 479.8 862.2 473.2 862.2 487.8 863.2 488.2 863.2 496.8 864.2 497.2 865.2 513.8 866.2 514.2 866.2 542.8 863.8 546.2 862.2 546.2 860.8 544.8 860.8 536.2 859.2 536.2 858.2 540.8 855.8 543.2 854.2 543.2 853.8 544.2 850.2 544.2 849.8 543.2 848.2 543.2 841.8 536.8 841.8 535.2 839.8 533.8 839.8 532.2 838.8 531.8 838.8 530.2 837.8 529.8 837.8 528.2 836.8 527.8 836.8 526.2 834.8 523.8 834.8 513.2 835.8 512.8 837.8 507.2 840.2 504.8 841.8 504.8 843.2 502.8 844.8 502.8 846.2 500.8 847.8 500.8 848.2 499.8 849.8 499.8 850.2 498.8 851.8 498.8 852.2 497.8 853.8 497.8 854.2 496.8 855.8 496.8 856.8 495.8 856.8 493.2 855.8 492.8 855.8 487.2 854.8 486.2 842.8 497.2 841.2 497.2 837.8 500.2 835.2 500.2 834.8 501.2 833.2 501.2 830.8 503.2 824.2 504.2 823.8 505.2 820.2 505.2 819.8 506.2 814.2 506.2 813.8 507.2 806.2 507.2 805.8 508.2 799.2 508.2 798.8 509.2 792.2 509.2 791.8 510.2 783.2 511.2 780.8 513.2 778.2 513.2 773.8 517.2 772.2 517.2 762.2 527.2 762.2 528.8 758.2 532.2 758.2 533.8 755.2 536.2 755.2 537.8 753.2 539.2 753.2 540.8 751.2 542.2 751.2 543.8 747.2 548.2 747.2 549.8 746.2 550.2 746.2 551.8 745.2 552.2 745.2 553.8 744.2 554.2 744.2 555.8 743.2 556.2 743.2 557.8 742.2 558.2 742.2 559.8 741.2 560.2 741.2 561.8 740.2 562.2 740.2 563.8 739.2 564.2 739.2 565.8 738.2 566.2 736.2 571.8 734.2 573.2 734.2 574.8 731.2 578.2 731.2 579.8 724.2 586.2 723.8 588.2 722.2 588.2 717.8 593.2 716.2 593.2 711.8 597.2 708.2 598.2 706.8 600.2 701.2 601.2 700.8 602.2 693.2 602.2 692.8 603.2 681.2 603.2 680.8 604.2 674.2 604.2 673.8 605.2 665.2 605.2 664.8 606.2 662.2 606.2 661.8 607.2 655.2 608.2 653.8 610.2 652.2 610.2 650.8 612.2 649.2 612.2 646.8 615.2 645.2 615.2 645.2 616.8 640.2 621.2 640.2 622.8 638.2 624.2 638.2 625.8 636.2 627.2 636.2 628.8 633.2 631.2 633.2 632.8 630.2 636.2 630.2 637.8 627.2 640.2 627.2 641.8 622.2 646.2 622.2 647.8 607.8 658.2 603.2 658.2 602.8 657.2 598.2 657.2 597.8 656.2 590.2 656.2 589.8 655.2 586.2 654.2 584.8 652.2 581.2 651.2 579.8 649.2 577.2 649.2 575.8 647.2 574.2 647.2 573.8 646.2 572.2 646.2 571.8 645.2 570.2 645.2 569.8 644.2 568.2 644.2 567.8 643.2 566.2 643.2 565.8 642.2 564.2 642.2 561.8 640.2 559.2 640.2 558.8 639.2 555.2 639.2 554.8 640.2 549.2 641.2 548.8 642.2 547.2 642.2 546.8 643.2 541.2 645.2 537.8 649.2 536.2 649.2 534.2 651.2 533.2 654.8 527.2 661.2 526.2 665.8 525.2 666.2 525.2 670.8 524.2 671.2 524.2 677.8 525.2 678.8 529.8 678.8 530.2 677.8 534.8 677.8 535.2 676.8 539.8 676.8 540.2 675.8 549.8 675.8 549.8 674.2 554.2 670.8 561.8 670.8 562.2 669.8 563.8 669.8 564.2 670.8 570.8 670.8 571.2 671.8 573.8 671.8 574.2 672.8 577.8 673.8 579.2 675.8 580.8 675.8 585.2 680.8 586.8 680.8 588.2 682.8 589.8 682.8 590.2 683.8 593.8 683.8 596.2 685.8 600.8 685.8 601.2 684.8 603.8 684.8 606.2 682.8 608.8 682.8 609.2 681.8 611.8 681.8 612.2 680.8 614.8 680.8 615.2 679.8 617.8 679.8 618.2 678.8 625.8 677.8 626.2 676.8 631.8 676.8 632.2 677.8 639.8 677.8 640.2 678.8 645.8 678.8 646.2 679.8 651.8 679.8 652.2 680.8 664.8 680.8 665.8 679.8 668.2 682.8 672.8 682.8 673.2 683.8 675.8 683.8 676.2 684.8 681.8 684.8 682.2 685.8 694.8 685.8 695.2 684.8 701.8 683.8 702.2 682.8 704.8 682.8 705.2 681.8 707.8 681.8 708.2 680.8 710.8 680.8 711.2 679.8 714.8 678.8 714.8 677.2 713.8 676.8 713.8 672.2 714.8 671.8 715.8 668.2 721.2 662.8 722.8 662.8 724.2 660.8 726.8 660.8 729.2 658.8 732.8 658.8 733.2 657.8 749.8 657.8 750.2 658.8 752.8 658.8 753.2 659.8 747.2 660.2 746.8 661.2 742.2 661.2 741.8 662.2 735.2 663.2 734.8 664.2 733.2 664.2 732.8 665.2 731.2 665.2 728.8 667.2 724.2 668.2 722.2 670.2 722.2 671.8 723.2 672.8 729.8 671.8 730.2 670.8 731.8 670.8 732.2 669.8 733.8 669.8 736.2 667.8 738.8 667.8 739.2 666.8 743.8 665.8 744.2 664.8 747.8 664.8 748.2 663.8 753.8 663.8 754.2 662.8 755.8 662.8 756.8 661.8 757.2 659.8 758.8 659.8 760.2 661.2 760.2 662.8 757.2 665.8 761.8 666.8 762.2 665.8 763.8 665.8 764.2 664.8 765.8 664.8 766.2 663.8 767.8 663.8 768.2 662.8 769.8 662.8 770.2 661.8 771.8 661.8 774.2 659.8 776.8 659.8 777.2 658.8 778.8 658.8 779.2 657.8 780.8 657.8 781.2 656.8 782.8 656.8 783.2 655.8 784.8 655.8 785.2 654.8 786.8 654.8 787.2 653.8 788.8 653.8 789.2 652.8 790.8 652.8 791.2 651.8 792.8 651.8 795.2 649.8 797.8 649.8 798.2 648.8 799.8 648.8 800.2 647.8 801.8 647.8 802.2 646.8 803.8 646.8 804.2 645.8 805.8 645.8 806.2 644.8 807.8 644.8 808.2 643.8 809.8 643.8 810.2 642.8 811.8 642.8 814.2 640.8 816.8 640.8 817.2 639.8 820.8 638.8 821.8 637.2 820.2 637.2 818.8 635.8 818.8 634.2 817.8 633.8 815.8 628.2 812.8 624.8 812.8 622.2 810.8 620.8 810.8 609.2 811.8 608.8 812.8 605.2 817.2 600.8 820.8 599.8 822.2 597.8 825.8 597.8 826.2 596.8 831.8 596.8 832.2 597.8 833.8 597.8 837.2 601.2 837.2 602.8 838.2 603.2 838.2 604.8 840.2 607.2 840.2 609.8 841.2 610.2 841.2 614.8 842.2 615.2 842.2 621.8 840.2 623.2 840.2 624.8 838.8 626.2 837.2 626.2 835.2 628.2 836.2 629.2 836.2 630.8 837.8 630.8 838.2 629.8 839.8 629.8 840.2 628.8 841.8 628.8 842.2 627.8 843.8 627.8 844.2 626.8 845.8 626.8 846.2 625.8 847.8 625.8 848.2 624.8 849.8 624.8 850.2 623.8 851.8 623.8 854.2 621.8 856.8 621.8 857.2 620.8 858.8 620.8 859.2 619.8 860.8 619.8 861.2 618.8 862.8 618.8 863.2 617.8 864.8 617.8 865.2 616.8 866.8 616.8 867.2 615.8 868.8 615.8 869.2 614.8 870.8 614.8 873.2 612.8 875.8 612.8 876.2 611.8 877.8 611.8 878.2 610.8 879.8 610.8 880.2 609.8 881.8 609.8 882.2 608.8 883.8 608.8 884.2 607.8 885.8 607.8 886.2 606.8 887.8 606.8 888.2 605.8 889.8 605.8 890.2 604.8 891.8 604.8 894.2 602.8 896.8 602.8 897.2 601.8 898.8 601.8 899.2 600.8 900.8 600.8 901.2 599.8 902.8 599.8 903.2 598.8 904.8 598.8 905.2 597.8 910.8 595.8 912.8 593.8ZM669.8 665.2 670.8 664.8 670.8 663.2 674.2 659.8 675.8 659.8 677.2 657.8 679.8 657.8 680.2 656.8 682.8 656.8 683.2 655.8 695.8 655.8 696.2 656.8 701.8 657.8 703.2 659.8 704.8 659.8 708.2 663.2 710.2 669.8 709.2 670.2 708.2 673.8 704.8 677.2 703.2 677.2 701.8 679.2 699.2 679.2 698.8 680.2 696.2 680.2 695.8 681.2 683.2 681.2 682.8 680.2 677.2 679.2 675.8 677.2 674.2 677.2 670.8 673.8 670.8 672.2 669.8 671.8ZM716.2 621.8 721.8 622.8 722.2 624.8 724.2 626.2 724.2 629.8 719.8 633.2 715.2 633.2 710.8 628.8 711.8 625.2ZM864.2 603.8 868.2 606.2 868.2 608.8 865.8 611.2 863.2 611.2 860.8 608.8 860.8 606.2ZM240.8 473.2 238.2 473.2 235.2 476.2 235.2 477.8 234.2 478.2 234.2 481.8 233.2 482.2 233.2 492.8 232.2 493.2 231.2 498.8 225.8 503.2 202.2 503.2 201.8 504.2 200.2 504.2 199.8 505.2 198.2 505.2 197.8 506.2 192.2 508.2 190.8 510.2 189.2 510.2 188.8 511.2 187.2 511.2 184.8 513.2 178.2 514.2 177.8 515.2 173.2 515.2 172.8 516.2 167.2 516.2 166.8 517.2 164.2 517.2 163.8 518.2 158.2 520.2 156.8 522.2 153.2 522.2 152.8 521.2 157.8 516.8 157.8 515.2 158.8 514.8 158.8 513.2 160.8 510.8 160.8 505.2 161.8 504.8 160.8 503.8 160.8 500.2 157.8 496.8 157.8 495.2 156.2 495.2 153.8 497.2 151.2 497.2 150.8 498.2 147.2 499.2 145.2 501.2 145.2 522.8 146.2 523.2 146.2 524.8 147.2 525.2 147.2 526.8 148.2 527.2 148.2 528.8 150.2 531.2 150.2 533.8 151.2 534.2 151.2 535.8 152.2 536.2 152.2 537.8 153.2 538.2 153.2 539.8 154.2 540.2 154.2 541.8 156.2 544.2 156.2 546.8 157.2 547.2 157.2 548.8 158.2 549.2 158.2 550.8 159.2 551.2 159.2 552.8 160.2 553.2 160.2 554.8 162.2 557.2 162.2 559.8 163.2 560.2 163.2 561.8 164.2 562.2 164.2 563.8 165.2 564.2 165.2 565.8 166.2 566.2 166.2 567.8 168.2 570.2 168.2 572.8 169.2 573.2 169.2 574.8 170.2 575.2 170.2 576.8 171.2 577.2 171.2 578.8 173.2 581.2 173.2 583.8 174.2 584.2 174.2 585.8 175.2 586.2 175.2 587.8 176.2 588.2 176.2 589.8 177.2 590.2 177.2 591.8 179.2 594.2 179.2 596.8 180.2 597.2 180.2 598.8 181.2 599.2 181.2 600.8 182.2 601.2 182.2 602.8 183.2 603.2 183.2 604.8 185.2 607.2 185.2 609.8 186.2 610.2 186.2 611.8 187.2 612.2 187.2 613.8 188.2 614.2 188.2 615.8 189.2 616.2 189.2 617.8 191.2 620.2 191.2 622.8 192.2 623.2 192.2 624.8 193.2 625.2 193.2 626.8 194.2 627.2 194.2 628.8 196.2 631.2 196.2 633.8 197.2 634.2 197.2 635.8 198.2 636.2 198.2 637.8 199.2 638.2 199.2 639.8 200.2 640.2 200.2 641.8 202.2 644.2 202.2 646.8 203.2 647.2 203.2 648.8 204.2 649.2 206.2 654.8 209.8 654.8 211.8 652.8 211.8 651.2 213.8 648.8 213.8 646.2 214.8 645.8 214.8 643.2 215.8 642.8 215.8 639.2 216.8 638.8 216.8 635.2 217.8 634.8 217.8 631.2 218.8 630.8 218.8 627.2 219.8 626.8 220.8 620.2 221.8 619.8 221.8 616.2 222.8 615.8 223.8 607.2 224.8 606.8 224.8 604.2 225.8 603.8 225.8 600.2 227.8 597.8 227.8 595.2 229.8 592.8 229.8 590.2 230.8 589.8 230.8 588.2 231.8 587.8 231.8 586.2 233.8 583.8 233.8 581.2 235.8 578.8 236.8 573.2 238.8 570.8 238.8 568.2 239.8 567.8 239.8 565.2 240.8 564.8 240.8 561.2 241.8 560.8 241.8 558.2 242.8 557.8 242.8 554.2 243.8 553.8 244.8 545.2 245.8 544.8 246.8 538.2 247.8 537.8 247.8 532.2 248.8 531.8 248.8 523.2 249.8 522.8 249.8 495.2 248.8 494.8 248.8 487.2 247.8 486.8 246.8 480.2ZM602.8 344.2 598.8 341.2 592.2 341.2 591.8 340.2 576.2 340.2 575.8 339.2 569.2 338.2 566.8 335.8 566.8 327.2 567.8 326.8 567.8 323.2 568.8 322.8 568.8 319.2 569.8 318.8 570.8 306.2 571.8 305.8 571.2 299.2 570.8 300.2 569.2 300.2 568.8 301.2 567.2 301.2 564.8 303.2 562.2 303.2 561.8 304.2 560.2 304.2 559.8 305.2 558.2 305.2 557.8 306.2 556.2 306.2 555.8 307.2 554.2 307.2 553.8 308.2 552.2 308.2 551.8 309.2 550.2 309.2 549.8 310.2 548.2 310.2 545.8 312.2 543.2 312.2 542.8 313.2 541.2 313.2 540.8 314.2 539.2 314.2 538.8 315.2 537.2 315.2 536.8 316.2 535.2 316.2 534.8 317.2 533.2 317.2 532.8 318.2 531.2 318.2 528.8 320.2 526.2 320.2 525.8 321.2 524.2 321.2 523.8 322.2 522.2 322.2 521.8 323.2 520.2 323.2 519.8 324.2 518.2 324.2 517.8 325.2 516.2 325.2 515.8 326.2 514.2 326.2 513.8 327.2 512.2 327.2 509.8 329.2 507.2 329.2 506.8 330.2 505.2 330.2 504.8 331.2 503.2 331.2 502.8 332.2 501.2 332.2 500.8 333.2 499.2 333.2 498.8 334.2 497.2 334.2 496.8 335.2 495.2 335.2 492.8 337.2 490.2 337.2 489.8 338.2 488.2 338.2 487.8 339.2 486.2 339.2 485.8 340.2 484.2 340.2 483.8 341.2 482.2 341.2 481.8 342.2 480.2 342.2 479.8 343.2 478.2 343.2 477.8 344.2 476.2 344.2 473.8 346.2 471.2 346.2 470.8 347.2 469.2 347.2 468.8 348.2 467.2 348.2 466.8 349.2 465.2 349.2 464.8 350.2 463.2 350.2 462.8 351.2 461.2 351.2 460.8 352.2 459.2 352.2 456.8 354.2 454.2 354.2 453.8 355.2 452.2 355.2 451.8 356.2 450.2 356.2 449.8 357.2 448.2 357.2 447.8 358.2 446.2 358.2 445.8 359.2 444.2 359.2 443.8 360.2 442.2 360.2 439.8 362.2 437.2 362.2 436.8 363.2 435.2 363.2 434.8 364.2 433.2 364.2 432.8 365.2 431.2 365.2 430.8 366.2 429.2 366.2 428.8 367.2 427.2 367.2 426.8 368.2 425.2 368.2 424.8 369.2 423.2 369.2 420.8 371.2 418.2 371.2 417.8 372.2 416.2 372.2 415.8 373.2 414.2 373.2 413.8 374.2 412.2 374.2 411.8 375.2 410.2 375.2 409.8 376.2 408.2 376.2 407.8 377.2 406.2 377.2 403.8 379.2 401.2 379.2 400.8 380.2 399.2 380.2 398.8 381.2 397.2 381.2 396.8 382.2 395.2 382.2 394.8 383.2 393.2 383.2 392.8 384.2 391.2 384.2 390.8 385.2 389.2 385.2 388.8 386.2 387.2 386.2 384.8 388.2 382.2 388.2 381.8 389.2 380.2 389.2 379.8 390.2 378.2 390.2 377.8 391.2 376.2 391.2 375.8 392.2 374.2 392.2 373.8 393.2 372.2 393.2 371.8 394.2 370.2 394.2 367.8 396.2 365.2 396.2 364.8 397.2 363.2 397.2 362.8 398.2 361.2 398.2 360.8 399.2 359.2 399.2 358.8 400.2 357.2 400.2 356.8 401.2 355.2 401.2 354.8 402.2 353.2 402.2 352.8 403.2 351.2 403.2 348.8 405.2 346.2 405.2 345.8 406.2 344.2 406.2 343.8 407.2 342.2 407.2 341.8 408.2 340.2 408.2 339.8 409.2 338.2 409.2 337.8 410.2 336.2 410.2 335.8 411.2 334.2 411.2 331.8 413.2 329.2 413.2 328.8 414.2 325.2 415.2 324.2 416.2 324.2 419.8 325.2 420.2 325.2 422.8 327.2 425.2 327.2 427.8 329.2 430.2 329.2 432.8 330.2 433.2 331.2 437.8 332.2 438.2 332.2 441.8 333.2 442.2 333.2 447.8 334.2 448.2 334.2 450.8 336.2 452.2 336.2 453.8 337.2 454.8 338.8 454.8 339.2 455.8 340.8 455.8 341.2 456.8 342.8 456.8 343.2 457.8 344.8 457.8 347.2 459.8 349.8 459.8 352.2 461.8 354.8 461.8 357.2 463.8 365.8 464.8 366.2 465.8 372.8 465.8 373.2 466.8 377.8 466.8 378.2 465.8 383.8 465.8 384.2 464.8 386.8 464.8 387.2 463.8 390.8 462.8 393.2 459.8 394.8 459.8 395.8 458.8 395.8 457.2 397.8 455.8 398.8 452.2 399.8 451.8 400.8 445.2 403.2 441.8 404.8 441.8 405.2 440.8 406.8 440.8 409.2 438.8 412.8 438.8 413.2 437.8 416.8 437.8 417.2 436.8 420.8 436.8 421.2 435.8 424.8 435.8 425.2 434.8 444.8 434.8 445.2 435.8 448.8 435.8 449.2 436.8 452.8 436.8 453.2 437.8 457.8 437.8 458.2 438.8 461.8 438.8 462.2 439.8 465.8 439.8 466.2 440.8 470.8 440.8 471.2 441.8 477.8 441.8 478.2 442.8 483.8 442.8 484.2 443.8 493.8 443.8 494.2 444.8 496.8 444.8 497.2 443.8 504.8 443.8 505.2 442.8 508.8 442.8 509.2 441.8 510.8 441.8 511.2 440.8 516.8 438.8 519.2 435.8 520.8 435.8 530.8 425.8 530.8 424.2 535.8 418.8 536.8 414.2 537.8 413.8 537.8 411.2 539.8 408.8 539.8 406.2 540.8 405.8 540.8 403.2 541.8 402.8 541.8 400.2 543.8 397.8 543.8 395.2 544.8 394.8 544.8 392.2 545.8 391.8 546.8 386.2 547.8 385.8 547.8 382.2 548.8 381.8 549.8 374.2 550.8 373.8 552.8 368.2 557.8 363.8 557.8 362.2 564.2 355.8 565.8 355.8 566.2 354.8 567.8 354.8 570.2 352.8 573.8 352.8 574.2 351.8 577.8 351.8 578.2 350.8 581.8 350.8 582.2 349.8 588.8 349.8 589.2 348.8 597.8 347.8 598.2 346.8 600.8 346.8Z"/>
<path fill="#14f5f0" stroke="#14f5f0" stroke-width="0.6" fill-rule="evenodd" d="M305.2 837.2 304.2 838.2 304.2 839.8 303.2 840.2 303.2 846.8 304.2 847.2 304.2 849.8 305.2 850.2 306.2 853.8 309.2 856.2 309.2 857.8 310.2 858.8 311.8 858.8 315.2 862.8 316.8 862.8 318.2 864.8 319.8 864.8 322.2 867.8 323.8 867.8 324.2 868.8 327.8 868.8 329.8 866.8 329.8 861.2 328.8 860.8 327.8 857.2 325.8 855.8 325.8 854.2 322.8 851.8 322.8 850.2 315.8 843.8 315.8 842.2 311.8 838.2 310.2 838.2 309.8 837.2ZM359.8 833.2 358.2 833.2 356.2 835.2 356.2 840.8 357.2 841.2 357.2 842.8 358.8 842.8 359.8 841.8 359.8 839.2 360.8 838.8 360.8 835.2 359.8 834.8ZM287.2 824.2 293.2 830.8 294.8 830.8 294.8 829.2 289.8 824.2ZM384.8 809.2 380.2 808.2 379.8 809.2 377.2 809.2 376.8 810.2 373.2 811.2 371.8 813.2 370.2 813.2 369.2 814.2 369.2 815.8 366.2 819.2 366.2 822.8 367.2 823.2 367.2 824.8 369.2 826.8 372.8 826.8 373.2 827.8 375.8 827.8 376.2 826.8 380.8 825.8 383.8 822.8 383.8 821.2 384.8 820.8 384.8 819.2 386.8 816.8 386.8 812.2 385.8 811.8 385.8 810.2ZM414.8 699.2 412.8 697.2 411.8 698.2 409.2 698.2 407.2 700.2 407.2 702.8 408.2 703.8 411.8 703.8 413.2 701.8 414.8 701.8ZM454.2 700.8 458.8 701.8 459.2 702.8 464.8 702.8 465.2 701.8 468.8 701.8 469.2 700.8 473.8 700.8 474.2 699.8 477.8 698.8 480.8 695.8 480.8 694.2 479.8 693.2 466.2 693.2 465.8 694.2 459.2 695.2 458.8 696.2 455.2 697.2 454.2 698.2ZM474.8 677.2 470.8 674.2 464.2 675.2 457.2 680.2 457.2 684.8 458.2 685.2 458.2 686.8 459.8 686.8 460.2 687.8 468.8 686.8 470.2 684.8 471.8 684.8 474.8 681.8ZM755.8 660.2 751.2 660.2 750.8 661.2 744.2 661.2 743.8 662.2 740.2 662.2 739.8 663.2 734.2 664.2 733.8 665.2 732.2 665.2 729.8 667.2 725.2 668.2 723.2 670.2 723.2 671.8 727.8 671.8 728.2 670.8 730.8 670.8 731.2 669.8 732.8 669.8 733.2 668.8 734.8 668.8 737.2 666.8 739.8 666.8 740.2 665.8 742.8 665.8 743.2 664.8 745.8 664.8 746.2 663.8 754.8 662.8 755.8 661.8ZM240.8 517.2 238.2 517.2 235.2 520.2 235.2 521.8 233.8 523.2 229.2 523.2 228.8 522.2 226.2 522.2 223.8 520.2 221.2 520.2 220.8 519.2 218.2 519.2 217.8 518.2 215.2 518.2 214.8 517.2 206.2 518.2 205.8 519.2 200.2 520.2 197.8 522.2 195.2 522.2 192.8 524.2 187.2 525.2 186.8 526.2 185.2 526.2 184.8 527.2 183.2 527.2 180.8 529.2 178.2 529.2 175.8 531.2 173.2 531.2 172.8 532.2 169.2 533.2 167.8 535.2 166.2 535.2 165.8 536.2 164.2 536.2 163.8 537.2 162.2 537.2 161.8 538.2 160.2 538.2 157.8 540.2 154.2 540.2 154.2 541.8 156.2 544.2 156.2 546.8 157.2 547.2 157.2 548.8 158.2 549.2 158.2 550.8 159.2 551.2 159.2 552.8 160.2 553.2 160.2 554.8 162.2 557.2 162.2 559.8 163.2 560.2 163.2 561.8 164.2 562.2 164.2 563.8 165.2 564.2 165.2 565.8 166.2 566.2 166.2 567.8 168.2 570.2 168.2 572.8 169.2 573.2 169.2 574.8 170.2 575.2 170.2 576.8 171.2 577.2 171.2 578.8 173.2 581.2 173.2 583.8 174.2 584.2 174.2 585.8 175.2 586.2 175.2 587.8 176.2 588.2 176.2 589.8 177.2 590.2 177.2 591.8 179.2 594.2 179.2 596.8 180.2 597.2 180.2 598.8 181.2 599.2 181.2 600.8 182.2 601.2 182.2 602.8 183.2 603.2 183.2 604.8 185.2 607.2 185.2 609.8 186.2 610.2 186.2 611.8 187.2 612.2 187.2 613.8 188.2 614.2 188.2 615.8 189.2 616.2 189.2 617.8 191.2 620.2 191.2 622.8 192.2 623.2 192.2 624.8 193.2 625.2 193.2 626.8 194.2 627.2 194.2 628.8 196.2 631.2 196.2 633.8 197.2 634.2 197.2 635.8 198.2 636.2 198.2 637.8 199.2 638.2 199.2 639.8 200.2 640.2 200.2 641.8 202.2 644.2 202.2 646.8 205.8 645.8 207.8 643.8 207.8 642.2 208.8 641.8 208.8 640.2 209.8 639.8 209.8 638.2 210.8 637.8 210.8 636.2 211.8 635.8 211.8 634.2 213.8 631.8 213.8 628.2 214.8 627.8 214.8 625.2 215.8 624.8 215.8 622.2 216.8 621.8 216.8 618.2 217.8 617.8 218.8 610.2 219.8 609.8 219.8 607.2 220.8 606.8 221.8 598.2 222.8 597.8 222.8 596.2 223.8 595.8 223.8 594.2 224.8 593.8 224.8 592.2 225.8 591.8 225.8 590.2 226.8 589.8 226.8 588.2 227.8 587.8 227.8 586.2 228.8 585.8 228.8 584.2 229.8 583.8 229.8 582.2 230.8 581.8 230.8 580.2 231.8 579.8 231.8 578.2 233.8 575.8 233.8 573.2 235.8 570.8 235.8 567.2 236.8 566.8 236.8 561.2 237.8 560.8 237.8 544.2 238.8 543.8 238.8 539.2 239.8 538.8 240.8 532.2 242.8 529.8 242.8 520.2 241.8 519.8 241.8 518.2ZM912.8 584.2 911.8 583.8 911.8 582.2 910.8 581.8 910.8 580.2 909.8 579.8 909.8 578.2 907.8 575.8 907.8 573.2 906.8 572.8 906.8 571.2 905.8 570.8 905.8 569.2 903.8 566.8 903.8 564.2 902.8 563.8 902.8 562.2 901.8 561.8 901.8 560.2 900.8 559.8 900.8 558.2 898.8 555.8 898.8 553.2 897.8 552.8 897.8 551.2 896.8 550.8 896.8 549.2 894.8 546.8 894.8 544.2 893.8 543.8 893.8 542.2 892.8 541.8 892.8 540.2 891.8 539.8 891.8 538.2 889.8 535.8 889.8 533.2 888.8 532.8 888.8 531.2 887.8 530.8 887.8 529.2 885.8 526.8 885.8 524.2 884.8 523.8 884.8 522.2 883.8 521.8 883.8 520.2 882.8 519.8 882.8 518.2 880.8 515.8 880.8 513.2 879.8 512.8 879.8 511.2 878.8 510.8 878.8 509.2 876.8 506.8 876.8 504.2 875.8 503.8 875.8 502.2 874.8 501.8 874.8 500.2 873.8 499.8 873.8 498.2 871.8 495.8 871.8 493.2 870.8 492.8 870.8 491.2 869.8 490.8 869.8 489.2 867.8 486.8 867.8 484.2 866.8 483.8 866.8 482.2 865.8 481.8 865.8 480.2 864.8 479.8 864.8 478.2 863.8 477.8 863.8 476.2 862.2 474.2 862.2 484.8 863.2 485.2 863.2 490.8 864.2 491.2 864.2 500.8 865.2 501.2 865.2 508.8 866.2 509.2 866.2 519.8 867.2 520.2 867.2 542.8 866.2 543.2 866.2 545.8 864.8 547.2 861.2 547.2 859.8 545.8 859.8 541.2 854.8 545.2 849.2 545.2 848.8 544.2 847.2 544.2 840.8 537.8 840.8 536.2 836.8 531.8 836.8 530.2 834.8 527.8 834.8 525.2 833.8 524.8 833.8 521.2 832.8 520.8 832.8 515.2 833.8 514.8 833.8 511.2 834.8 510.8 835.8 507.2 840.2 502.8 841.8 502.8 845.2 499.8 846.8 499.8 847.2 498.8 848.8 498.8 849.2 497.8 854.8 495.8 854.8 489.2 847.8 496.2 846.2 496.2 839.8 502.2 835.2 503.2 834.8 504.2 833.2 504.2 830.8 506.2 828.2 506.2 827.8 507.2 825.2 507.2 824.8 508.2 820.2 508.2 819.8 509.2 813.2 509.2 812.8 510.2 804.2 510.2 803.8 511.2 789.2 512.2 788.8 513.2 785.2 513.2 784.8 514.2 779.2 515.2 777.8 517.2 776.2 517.2 774.8 519.2 773.2 519.2 759.2 534.2 759.2 535.8 757.2 537.2 757.2 538.8 755.2 540.2 755.2 541.8 753.2 543.2 753.2 544.8 749.2 549.2 749.2 550.8 748.2 551.2 748.2 552.8 747.2 553.2 747.2 554.8 746.2 555.2 746.2 556.8 745.2 557.2 745.2 558.8 744.2 559.2 744.2 560.8 743.2 561.2 743.2 562.8 741.2 565.2 741.2 567.8 740.2 568.2 739.2 571.8 737.2 573.2 737.2 574.8 735.2 576.2 735.2 577.8 733.2 579.2 733.2 580.8 727.2 586.2 727.2 587.8 723.8 591.2 722.2 591.2 717.8 596.2 716.2 596.2 712.8 600.2 711.2 600.2 709.8 602.2 708.2 602.2 705.8 604.2 703.2 604.2 702.8 605.2 700.2 605.2 699.8 606.2 675.2 606.2 674.8 607.2 672.2 607.2 671.8 608.2 667.2 608.2 666.8 609.2 663.2 609.2 662.8 610.2 657.2 611.2 653.8 614.2 652.2 614.2 647.2 619.2 647.2 620.8 643.2 624.2 642.2 627.8 640.2 629.2 640.2 630.8 638.2 633.2 638.2 635.8 636.2 638.2 636.2 640.8 634.2 643.2 634.2 645.8 631.2 649.2 629.2 654.8 624.2 660.2 624.2 661.8 621.2 664.2 621.2 665.8 616.8 670.2 612.2 671.2 611.8 672.2 599.2 672.2 598.8 671.2 588.2 670.2 587.8 669.2 585.2 669.2 584.8 668.2 581.2 667.2 572.8 657.2 571.2 657.2 567.8 653.2 566.2 653.2 565.8 652.2 563.2 652.2 562.8 651.2 560.2 651.2 559.8 650.2 547.2 650.2 546.8 651.2 544.2 651.2 543.8 652.2 540.2 653.2 535.2 658.2 535.2 659.8 529.2 664.2 529.2 666.8 528.2 667.2 528.2 671.8 527.2 672.2 527.2 678.8 529.8 678.8 530.2 677.8 534.8 677.8 535.2 676.8 539.8 676.8 540.2 675.8 548.8 675.8 548.8 674.2 554.2 669.8 560.8 669.8 561.2 668.8 564.8 668.8 565.2 669.8 570.8 669.8 571.2 670.8 573.8 670.8 574.2 671.8 579.8 673.8 584.2 678.8 585.8 678.8 587.2 680.8 588.8 680.8 591.2 682.8 595.8 683.8 597.2 685.8 599.8 685.8 602.2 683.8 604.8 683.8 605.2 682.8 610.8 681.8 611.2 680.8 615.8 679.8 616.2 678.8 623.8 677.8 624.2 676.8 635.8 676.8 636.2 677.8 642.8 677.8 643.2 678.8 648.8 678.8 649.2 679.8 657.8 679.8 658.2 680.8 663.8 680.8 665.2 678.8 666.8 678.8 669.2 682.8 672.8 682.8 673.2 683.8 675.8 683.8 676.2 684.8 681.8 684.8 682.2 685.8 694.8 685.8 695.2 684.8 701.8 683.8 702.2 682.8 704.8 682.8 705.2 681.8 707.8 681.8 708.2 680.8 712.8 679.8 713.8 678.8 713.8 677.2 712.8 676.8 712.8 673.2 713.8 672.8 713.8 670.2 716.8 666.8 716.8 665.2 718.2 663.8 719.8 663.8 722.2 660.8 726.8 659.8 729.2 657.8 732.8 657.8 733.2 656.8 739.8 656.8 740.2 657.8 744.8 657.8 745.2 656.8 746.8 656.8 747.2 657.8 757.8 658.8 758.2 659.8 760.2 660.2 760.2 663.8 757.2 665.8 761.8 666.8 762.2 665.8 763.8 665.8 764.2 664.8 765.8 664.8 766.2 663.8 767.8 663.8 768.2 662.8 769.8 662.8 770.2 661.8 771.8 661.8 774.2 659.8 776.8 659.8 777.2 658.8 778.8 658.8 779.2 657.8 780.8 657.8 781.2 656.8 782.8 656.8 783.2 655.8 784.8 655.8 785.2 654.8 786.8 654.8 787.2 653.8 788.8 653.8 789.2 652.8 790.8 652.8 791.2 651.8 792.8 651.8 795.2 649.8 797.8 649.8 798.2 648.8 799.8 648.8 800.2 647.8 801.8 647.8 802.2 646.8 803.8 646.8 804.2 645.8 805.8 645.8 806.2 644.8 807.8 644.8 808.2 643.8 809.8 643.8 810.2 642.8 811.8 642.8 814.2 640.8 816.8 640.8 817.2 639.8 820.8 638.8 821.8 637.2 820.2 637.2 818.8 635.8 818.8 634.2 817.8 633.8 815.8 628.2 813.8 626.8 812.8 623.2 808.8 620.8 808.8 617.2 807.8 616.2 808.8 615.8 808.8 609.2 809.8 608.8 811.8 603.2 815.2 599.8 816.8 599.8 819.2 596.8 820.8 596.8 821.2 595.8 823.8 595.8 824.2 594.8 829.8 594.8 830.2 595.8 832.8 595.8 834.2 597.8 835.8 597.8 838.2 600.2 838.2 601.8 839.2 602.2 839.2 603.8 841.2 606.2 841.2 608.8 842.2 609.2 842.2 611.8 843.2 612.2 843.2 614.8 844.2 615.2 844.2 622.8 842.2 624.2 842.2 625.8 840.8 627.2 839.2 627.2 836.2 630.2 837.8 630.8 838.2 629.8 839.8 629.8 840.2 628.8 841.8 628.8 842.2 627.8 843.8 627.8 844.2 626.8 845.8 626.8 846.2 625.8 847.8 625.8 848.2 624.8 849.8 624.8 850.2 623.8 851.8 623.8 854.2 621.8 856.8 621.8 857.2 620.8 858.8 620.8 859.2 619.8 860.8 619.8 861.2 618.8 862.8 618.8 863.2 617.8 864.8 617.8 865.2 616.8 866.8 616.8 867.2 615.8 868.8 615.8 869.2 614.8 870.8 614.8 873.2 612.8 875.8 612.8 876.2 611.8 877.8 611.8 878.2 610.8 879.8 610.8 880.2 609.8 881.8 609.8 882.2 608.8 883.8 608.8 884.2 607.8 885.8 607.8 886.2 606.8 887.8 606.8 888.2 605.8 889.8 605.8 890.2 604.8 891.8 604.8 894.2 602.8 896.8 602.8 897.2 601.8 898.8 601.8 899.2 600.8 900.8 600.8 901.2 599.8 902.8 599.8 903.2 598.8 904.8 598.8 905.2 597.8 910.8 595.8 912.8 593.8ZM669.8 665.2 670.8 664.8 670.8 663.2 674.2 659.8 675.8 659.8 677.2 657.8 679.8 657.8 680.2 656.8 682.8 656.8 683.2 655.8 695.8 655.8 696.2 656.8 701.8 657.8 703.2 659.8 704.8 659.8 708.2 663.2 710.2 669.8 709.2 670.2 708.2 673.8 704.8 677.2 703.2 677.2 701.8 679.2 699.2 679.2 698.8 680.2 696.2 680.2 695.8 681.2 683.2 681.2 682.8 680.2 677.2 679.2 675.8 677.2 674.2 677.2 670.8 673.8 670.8 672.2 669.8 671.8ZM716.2 621.8 721.8 622.8 722.2 624.8 724.2 626.2 724.2 629.8 719.8 633.2 715.2 633.2 710.8 628.8 711.8 625.2ZM861.2 603.8 865.8 602.8 869.2 606.2 869.2 609.8 866.8 612.2 862.2 612.2 859.8 609.8 859.8 606.2 860.8 605.8ZM795.8 549.2 797.2 547.8 798.8 547.8 800.2 545.8 804.8 545.8 808.2 548.2 808.2 549.8 809.2 550.2 809.2 553.8 808.2 554.2 808.2 555.8 804.8 558.2 799.2 558.2 795.8 555.8ZM821.2 542.8 824.8 542.8 825.2 543.8 826.8 543.8 829.2 546.2 829.2 547.8 831.2 550.2 831.2 557.8 830.2 558.2 829.2 561.8 824.8 565.2 821.2 565.2 820.8 564.2 819.2 564.2 816.8 561.8 816.8 560.2 814.8 557.8 814.8 550.2 815.8 549.8 816.8 546.2ZM372.2 457.2 373.2 461.8 374.8 461.8 375.2 462.8 382.8 462.8 383.2 461.8 384.8 461.8 384.8 460.2 385.8 459.8 385.8 457.2 383.8 455.2 380.2 455.2 379.8 454.2 374.2 455.2ZM340.2 435.2 335.2 441.2 335.2 447.8 336.2 448.2 336.2 449.8 341.2 453.8 349.8 453.8 353.2 450.8 354.8 450.8 355.8 446.2 356.8 445.8 356.8 443.2 355.8 442.8 354.8 438.2 353.2 438.2 350.8 435.2 347.2 435.2 346.8 434.2ZM568.8 301.2 567.2 301.2 564.8 303.2 562.2 303.2 561.8 304.2 560.2 304.2 559.8 305.2 558.2 305.2 557.8 306.2 556.2 306.2 555.8 307.2 554.2 307.2 553.8 308.2 552.2 308.2 551.8 309.2 550.2 309.2 549.8 310.2 548.2 310.2 545.8 312.2 543.2 312.2 542.8 313.2 541.2 313.2 540.8 314.2 539.2 314.2 538.8 315.2 537.2 315.2 536.8 316.2 535.2 316.2 534.8 317.2 533.2 317.2 532.8 318.2 531.2 318.2 528.8 320.2 526.2 320.2 525.8 321.2 524.2 321.2 523.8 322.2 522.2 322.2 521.8 323.2 520.2 323.2 519.8 324.2 518.2 324.2 517.8 325.2 516.2 325.2 515.8 326.2 514.2 326.2 513.8 327.2 512.2 327.2 509.8 329.2 507.2 329.2 506.8 330.2 505.2 330.2 504.8 331.2 503.2 331.2 502.8 332.2 501.2 332.2 500.8 333.2 499.2 333.2 498.8 334.2 497.2 334.2 496.8 335.2 495.2 335.2 492.8 337.2 490.2 337.2 489.8 338.2 488.2 338.2 487.8 339.2 486.2 339.2 485.8 340.2 484.2 340.2 483.8 341.2 482.2 341.2 481.8 342.2 480.2 342.2 479.8 343.2 478.2 343.2 477.8 344.2 476.2 344.2 473.8 346.2 471.2 346.2 470.8 347.2 469.2 347.2 468.8 348.2 467.2 348.2 466.8 349.2 465.2 349.2 464.8 350.2 463.2 350.2 462.8 351.2 461.2 351.2 460.8 352.2 459.2 352.2 456.8 354.2 454.2 354.2 453.8 355.2 452.2 355.2 451.8 356.2 450.2 356.2 449.8 357.2 448.2 357.2 447.8 358.2 446.2 358.2 445.8 359.2 444.2 359.2 443.8 360.2 442.2 360.2 439.8 362.2 437.2 362.2 436.8 363.2 435.2 363.2 434.8 364.2 433.2 364.2 432.8 365.2 431.2 365.2 430.8 366.2 429.2 366.2 428.8 367.2 427.2 367.2 426.8 368.2 425.2 368.2 424.8 369.2 423.2 369.2 420.8 371.2 418.2 371.2 417.8 372.2 416.2 372.2 415.8 373.2 414.2 373.2 413.8 374.2 412.2 374.2 411.8 375.2 410.2 375.2 409.8 376.2 408.2 376.2 407.8 377.2 406.2 377.2 403.8 379.2 401.2 379.2 400.8 380.2 399.2 380.2 398.8 381.2 397.2 381.2 396.8 382.2 395.2 382.2 394.8 383.2 393.2 383.2 392.8 384.2 391.2 384.2 390.8 385.2 389.2 385.2 388.8 386.2 387.2 386.2 384.8 388.2 382.2 388.2 381.8 389.2 380.2 389.2 379.8 390.2 378.2 390.2 377.8 391.2 376.2 391.2 375.8 392.2 374.2 392.2 373.8 393.2 372.2 393.2 371.8 394.2 370.2 394.2 367.8 396.2 365.2 396.2 364.8 397.2 363.2 397.2 362.8 398.2 361.2 398.2 360.8 399.2 359.2 399.2 358.8 400.2 357.2 400.2 356.8 401.2 355.2 401.2 354.8 402.2 353.2 402.2 352.8 403.2 346.2 405.8 351.2 411.8 352.8 411.8 353.2 412.8 354.8 412.8 355.2 413.8 356.8 413.8 359.2 415.8 365.8 416.8 366.2 417.8 372.8 417.8 373.2 418.8 377.8 418.8 378.2 417.8 381.8 417.8 382.2 416.8 383.8 416.8 386.2 413.8 387.8 413.8 388.2 412.8 397.8 412.8 398.2 413.8 400.8 413.8 401.2 414.8 403.8 414.8 404.2 415.8 408.8 415.8 409.2 416.8 416.8 417.8 417.2 418.8 419.8 418.8 420.2 419.8 424.8 419.8 425.2 420.8 427.8 420.8 428.2 421.8 430.8 421.8 431.2 422.8 433.8 422.8 434.2 423.8 437.8 423.8 438.2 424.8 440.8 424.8 441.2 425.8 444.8 425.8 447.2 427.8 450.8 427.8 451.2 428.8 453.8 428.8 454.2 429.8 457.8 429.8 458.2 430.8 465.8 431.8 466.2 432.8 468.8 432.8 469.2 433.8 472.8 433.8 473.2 434.8 476.8 434.8 477.2 435.8 479.8 435.8 480.2 436.8 484.8 436.8 485.2 437.8 488.8 437.8 489.2 438.8 493.8 438.8 494.2 439.8 504.8 439.8 505.2 438.8 511.8 437.8 512.2 436.8 515.8 435.8 520.2 430.8 521.8 430.8 525.8 426.8 525.8 425.2 529.8 420.8 529.8 419.2 530.8 418.8 530.8 417.2 531.8 416.8 531.8 415.2 533.8 412.8 533.8 410.2 534.8 409.8 534.8 407.2 535.8 406.8 535.8 404.2 536.8 403.8 536.8 400.2 537.8 399.8 538.8 393.2 540.8 390.8 541.8 385.2 543.8 382.8 543.8 380.2 545.8 377.8 545.8 375.2 547.8 372.8 547.8 370.2 548.8 369.8 548.8 368.2 549.8 367.8 549.8 366.2 550.8 365.8 550.8 364.2 552.8 361.8 552.8 359.2 554.8 356.8 554.8 354.2 556.8 351.8 556.8 349.2 558.8 346.8 558.8 343.2 560.8 340.8 560.8 338.2 561.8 337.8 561.8 335.2 562.8 334.8 562.8 332.2 563.8 331.8 563.8 328.2 564.8 327.8 564.8 324.2 565.8 323.8 565.8 320.2 566.8 319.8 566.8 315.2 567.8 314.8 567.8 307.2 568.8 306.8ZM517.8 379.2 519.2 377.8 522.8 377.8 524.2 379.2 524.2 380.8 522.8 382.2 519.2 382.2 517.8 380.8Z"/>
<path fill="#55f0c0" stroke="#55f0c0" stroke-width="0.6" fill-rule="evenodd" d="M306.2 837.2 304.2 839.2 304.2 848.8 305.2 849.2 306.2 852.8 308.2 854.2 308.2 855.8 313.2 860.8 314.8 860.8 317.2 863.8 318.8 863.8 321.2 866.8 322.8 866.8 325.2 868.8 328.8 867.8 328.8 866.2 329.8 865.8 329.8 862.2 328.8 861.8 326.8 856.2 324.8 854.8 324.8 853.2 317.8 846.8 317.8 845.2 310.8 838.2ZM754.8 661.2 746.2 661.2 745.8 662.2 742.2 662.2 741.8 663.2 735.2 664.2 734.8 665.2 733.2 665.2 730.8 667.2 726.2 668.2 724.2 670.2 724.2 671.8 729.8 670.8 730.2 669.8 731.8 669.8 732.2 668.8 733.8 668.8 736.2 666.8 738.8 666.8 739.2 665.8 741.8 665.8 742.2 664.8 744.8 664.8 745.2 663.8 753.8 662.8ZM540.2 660.2 540.2 661.8 542.2 663.8 544.8 663.8 545.2 664.8 547.8 664.8 551.8 661.8 551.8 660.2 549.8 658.2 542.2 658.2ZM801.8 572.2 799.8 570.2 797.2 570.2 796.8 571.2 791.2 573.2 788.8 576.2 787.2 576.2 786.2 577.2 786.2 578.8 781.8 582.2 780.8 581.2 778.2 581.2 777.8 580.2 775.2 580.2 774.8 581.2 771.2 582.2 768.2 585.2 767.2 589.8 764.8 592.2 761.8 591.8 761.8 590.2 762.8 589.8 762.8 584.2 760.8 582.8 760.8 581.2 759.2 581.2 755.8 578.2 748.2 577.2 747.8 578.2 744.2 578.2 740.8 581.2 739.2 581.2 739.2 582.8 737.2 584.2 737.2 589.8 739.2 591.2 739.2 592.8 740.8 592.8 742.2 594.8 746.8 595.8 747.2 597.8 740.2 604.2 740.2 605.8 738.2 608.2 738.2 611.8 737.2 612.2 737.8 624.2 736.2 624.2 732.8 620.2 731.2 620.2 728.8 618.2 726.2 618.2 725.8 617.2 722.2 617.2 721.8 616.2 717.2 616.2 716.8 617.2 712.2 617.2 709.8 619.2 706.2 619.2 704.8 615.2 703.8 614.8 703.8 613.2 702.2 613.2 698.8 610.2 694.2 610.2 693.8 609.2 691.2 609.2 689.8 607.2 675.2 607.2 674.8 608.2 672.2 608.2 669.8 612.2 666.2 612.2 665.8 613.2 664.2 613.2 661.8 615.2 659.2 615.2 657.8 617.2 656.2 617.2 645.2 629.2 645.2 630.8 644.2 631.2 644.2 632.8 643.2 633.2 643.2 634.8 642.2 635.2 642.2 636.8 641.2 637.2 641.2 638.8 639.2 641.2 639.2 643.8 638.2 644.2 638.2 645.8 637.2 646.2 635.2 651.8 632.2 654.2 630.2 659.8 626.2 664.2 626.2 665.8 625.2 666.2 625.2 667.8 624.2 668.2 622.2 673.8 620.8 675.2 617.2 675.2 616.8 676.2 614.2 676.2 613.8 677.2 611.2 677.2 610.8 678.2 608.2 678.2 607.8 679.2 605.2 679.2 604.8 680.2 599.2 681.2 596.2 683.8 598.8 685.8 601.2 683.8 603.8 683.8 604.2 682.8 609.8 681.8 612.2 679.8 618.8 678.8 619.2 677.8 622.8 677.8 623.2 676.8 626.8 676.8 627.2 675.8 631.8 675.8 632.2 676.8 639.8 676.8 640.2 677.8 645.8 677.8 646.2 678.8 651.8 678.8 652.2 679.8 663.8 679.8 663.8 678.2 662.8 677.2 648.2 676.2 647.8 675.2 642.2 675.2 641.8 674.2 637.2 674.2 636.8 673.2 639.8 672.8 642.2 670.8 644.8 670.8 645.2 669.8 647.8 669.8 648.2 668.8 650.8 668.8 651.2 667.8 653.8 667.8 654.2 666.8 656.8 666.8 657.2 665.8 663.8 664.8 664.8 663.8 665.2 671.8 666.2 672.2 667.2 675.8 673.2 681.8 677.8 682.8 678.2 683.8 680.8 683.8 681.2 684.8 684.8 684.8 685.2 685.8 693.8 685.8 694.2 684.8 697.8 684.8 698.2 683.8 700.8 683.8 701.2 682.8 705.8 681.8 711.8 675.8 712.8 671.2 713.8 670.8 713.8 665.2 712.8 664.8 711.8 661.2 705.8 655.2 701.2 654.2 700.8 653.2 698.2 653.2 696.8 651.8 696.8 650.2 699.8 647.8 699.8 646.2 703.2 642.8 705.8 642.8 707.2 644.8 709.8 644.8 712.2 646.8 716.8 646.8 717.2 647.8 721.8 647.8 722.2 646.8 725.8 646.8 726.8 645.8 727.2 648.8 726.2 649.2 726.2 650.8 727.2 651.8 730.8 651.8 733.2 648.8 734.8 648.8 736.2 650.2 737.2 654.8 739.2 656.8 748.8 656.8 749.2 657.8 755.8 657.8 756.2 658.8 758.8 658.8 761.2 661.2 761.2 662.8 758.2 665.8 759.2 666.8 761.8 666.8 762.2 665.8 763.8 665.8 764.2 664.8 765.8 664.8 766.2 663.8 767.8 663.8 768.2 662.8 769.8 662.8 770.2 661.8 771.8 661.8 774.2 659.8 776.8 659.8 777.2 658.8 778.8 658.8 779.2 657.8 780.8 657.8 781.2 656.8 782.8 656.8 783.2 655.8 784.8 655.8 785.2 654.8 786.8 654.8 787.2 653.8 788.8 653.8 789.2 652.8 790.8 652.8 791.2 651.8 792.8 651.8 795.2 649.8 797.8 649.8 798.2 648.8 799.8 648.8 800.2 647.8 801.8 647.8 802.2 646.8 803.8 646.8 804.2 645.8 805.8 645.8 806.2 644.8 807.8 644.8 808.2 643.8 809.8 643.8 810.2 642.8 811.8 642.8 814.2 640.8 816.8 640.8 817.2 639.8 820.8 638.8 821.8 637.2 820.2 637.2 818.8 635.8 818.8 634.2 817.8 633.8 815.8 628.2 813.8 626.8 813.8 625.2 810.8 622.2 802.8 621.8 802.8 619.2 803.8 618.8 803.8 588.2 802.8 587.8 802.8 574.2 801.8 573.8ZM669.8 665.2 670.8 664.8 670.8 663.2 674.2 659.8 675.8 659.8 677.2 657.8 679.8 657.8 680.2 656.8 682.8 656.8 683.2 655.8 695.8 655.8 696.2 656.8 701.8 657.8 703.2 659.8 704.8 659.8 708.2 663.2 710.2 669.8 709.2 670.2 708.2 673.8 704.8 677.2 703.2 677.2 701.8 679.2 699.2 679.2 698.8 680.2 696.2 680.2 695.8 681.2 683.2 681.2 682.8 680.2 677.2 679.2 675.8 677.2 674.2 677.2 670.8 673.8 670.8 672.2 669.8 671.8ZM790.8 638.2 792.2 636.8 795.8 636.8 798.2 639.2 798.2 640.8 795.8 643.2 792.2 643.2 791.8 641.2 790.8 640.8ZM739.8 629.2 740.8 628.8 744.2 633.8 745.8 633.8 748.2 636.8 749.8 636.8 750.2 637.8 746.2 638.2 745.8 637.2 741.2 637.2ZM716.2 621.8 721.8 622.8 722.2 624.8 724.2 626.2 724.2 629.8 719.8 633.2 715.2 633.2 710.8 628.8 711.8 625.2ZM213.8 523.2 205.2 524.2 204.8 525.2 201.2 525.2 200.8 526.2 198.2 526.2 197.8 527.2 195.2 527.2 194.8 528.2 188.2 529.2 185.8 531.2 183.2 531.2 180.8 533.2 178.2 533.2 175.8 535.2 173.2 535.2 171.8 537.2 170.2 537.2 169.8 538.2 164.2 540.2 162.8 542.2 159.2 543.2 159.2 544.8 158.2 545.2 158.2 546.8 159.2 547.2 159.2 552.8 160.2 553.2 160.2 554.8 162.2 557.2 162.2 559.8 163.2 560.2 163.2 561.8 164.2 562.2 164.2 563.8 165.2 564.2 165.2 565.8 166.2 566.2 166.2 567.8 168.2 570.2 168.2 572.8 169.2 573.2 169.2 574.8 170.2 575.2 170.2 576.8 171.2 577.2 171.2 578.8 173.2 581.2 173.2 583.8 174.2 584.2 174.2 585.8 175.2 586.2 175.2 587.8 176.2 588.2 176.2 589.8 177.2 590.2 177.2 591.8 179.2 594.2 179.2 596.8 180.2 597.2 180.2 598.8 181.2 599.2 181.2 600.8 182.2 601.2 182.2 602.8 183.2 603.2 183.2 604.8 185.2 607.2 185.2 609.8 186.2 610.2 186.2 611.8 187.2 612.2 187.2 613.8 188.2 614.2 188.2 615.8 189.2 616.2 189.2 617.8 191.2 620.2 191.2 622.8 192.2 623.2 192.2 624.8 193.2 625.2 193.2 626.8 194.2 627.2 194.2 628.8 196.2 631.2 196.2 633.8 197.2 634.2 198.2 637.8 201.2 640.8 203.8 640.8 206.8 637.8 206.8 636.2 208.8 634.8 208.8 633.2 210.8 630.8 210.8 628.2 211.8 627.8 211.8 625.2 212.8 624.8 212.8 623.2 214.8 620.8 214.8 617.2 215.8 616.8 216.8 610.2 217.8 609.8 217.8 607.2 218.8 606.8 219.8 597.2 220.8 596.8 220.8 595.2 221.8 594.8 221.8 593.2 222.8 592.8 222.8 591.2 223.8 590.8 223.8 589.2 224.8 588.8 224.8 587.2 225.8 586.8 225.8 585.2 226.8 584.8 226.8 583.2 227.8 582.8 227.8 581.2 228.8 580.8 228.8 579.2 229.8 578.8 229.8 577.2 231.8 574.8 231.8 572.2 233.8 569.8 233.8 566.2 234.8 565.8 234.8 559.2 235.8 558.8 235.8 556.2 234.8 555.8 234.8 547.2 233.8 546.8 233.8 543.2 234.8 542.8 234.8 541.2 233.8 540.8 233.8 538.2 234.8 537.8 234.8 530.2 228.2 529.2 227.8 528.2 225.2 528.2 222.8 526.2 220.2 526.2 217.8 524.2 214.2 524.2ZM816.8 519.2 815.2 519.2 812.8 517.2 810.2 517.2 809.8 516.2 804.2 516.2 803.8 515.2 794.2 515.2 793.8 516.2 788.2 516.2 787.8 517.2 782.2 518.2 781.8 519.2 780.2 519.2 779.8 520.2 774.2 522.2 774.2 523.8 771.2 527.2 771.2 533.8 773.2 536.2 773.2 549.8 772.2 550.2 771.2 554.8 770.2 555.2 770.2 563.8 771.2 564.2 771.2 567.8 772.2 568.2 773.2 571.8 777.8 572.8 778.2 571.8 780.8 571.8 782.2 569.8 783.8 569.8 785.8 567.8 785.8 566.2 788.8 563.8 789.8 560.2 791.8 558.8 791.8 557.2 793.8 554.8 793.8 551.2 794.8 550.8 794.8 549.2 799.2 544.8 800.8 544.8 804.2 540.8 805.8 540.8 809.2 537.8 810.8 537.8 815.8 532.8 815.8 531.2 817.8 529.8 817.8 527.2 818.8 526.8 818.8 521.2ZM863.8 476.2 863.2 485.8 864.2 486.2 865.2 502.8 866.2 503.2 866.2 511.8 867.2 512.2 867.2 521.8 868.2 522.2 868.2 550.8 867.2 551.2 866.2 554.8 861.8 559.2 860.2 559.2 859.8 560.2 858.2 560.2 855.8 562.2 853.2 562.2 851.8 564.2 846.2 566.2 844.8 568.2 843.2 568.2 841.8 570.2 840.2 570.2 838.8 572.2 837.2 572.2 830.2 579.2 829.2 583.8 828.2 584.2 828.2 593.8 832.8 594.8 834.2 596.8 835.8 596.8 839.2 600.2 839.2 601.8 841.2 604.2 841.2 606.8 843.2 609.2 843.2 611.8 844.2 612.2 844.2 613.8 845.2 614.2 845.2 615.8 846.2 616.2 846.2 617.8 848.2 620.2 848.2 623.8 849.2 624.8 850.2 623.8 851.8 623.8 852.2 622.8 853.8 622.8 854.2 621.8 856.8 621.8 857.2 620.8 858.8 620.8 859.2 619.8 860.8 619.8 861.2 618.8 862.8 618.8 863.2 617.8 864.8 617.8 865.2 616.8 866.8 616.8 867.2 615.8 868.8 615.8 869.2 614.8 870.8 614.8 873.2 612.8 875.8 612.8 876.2 611.8 877.8 611.8 878.2 610.8 879.8 610.8 880.2 609.8 881.8 609.8 882.2 608.8 883.8 608.8 884.2 607.8 885.8 607.8 886.2 606.8 887.8 606.8 888.2 605.8 889.8 605.8 890.2 604.8 891.8 604.8 894.2 602.8 896.8 602.8 897.2 601.8 898.8 601.8 899.2 600.8 900.8 600.8 901.2 599.8 902.8 599.8 903.2 598.8 904.8 598.8 905.2 597.8 910.8 595.8 912.8 593.8 912.8 584.2 911.8 583.8 911.8 582.2 910.8 581.8 910.8 580.2 909.8 579.8 909.8 578.2 907.8 575.8 907.8 573.2 906.8 572.8 906.8 571.2 905.8 570.8 905.8 569.2 903.8 566.8 903.8 564.2 902.8 563.8 902.8 562.2 901.8 561.8 901.8 560.2 900.8 559.8 900.8 558.2 898.8 555.8 898.8 553.2 897.8 552.8 897.8 551.2 896.8 550.8 896.8 549.2 894.8 546.8 894.8 544.2 893.8 543.8 893.8 542.2 892.8 541.8 892.8 540.2 891.8 539.8 891.8 538.2 889.8 535.8 889.8 533.2 888.8 532.8 888.8 531.2 887.8 530.8 887.8 529.2 885.8 526.8 885.8 524.2 884.8 523.8 884.8 522.2 883.8 521.8 883.8 520.2 882.8 519.8 882.8 518.2 880.8 515.8 880.8 513.2 879.8 512.8 879.8 511.2 878.8 510.8 878.8 509.2 876.8 506.8 876.8 504.2 875.8 503.8 875.8 502.2 874.8 501.8 874.8 500.2 873.8 499.8 873.8 498.2 871.8 495.8 871.8 493.2 870.8 492.8 870.8 491.2 869.8 490.8 869.8 489.2 867.8 486.8 867.8 484.2 866.8 483.8 866.8 482.2 865.8 481.8ZM863.2 601.8 867.8 602.8 870.2 606.2 870.2 609.8 869.2 610.2 869.2 611.8 867.2 612.2 866.8 613.2 862.2 613.2 861.8 612.2 860.2 612.2 859.8 610.2 858.8 609.8 858.8 605.2ZM565.8 302.2 564.8 303.2 562.2 303.2 561.8 304.2 560.2 304.2 559.8 305.2 558.2 305.2 557.8 306.2 556.2 306.2 555.8 307.2 554.2 307.2 553.8 308.2 552.2 308.2 551.8 309.2 550.2 309.2 549.8 310.2 548.2 310.2 545.8 312.2 543.2 312.2 542.8 313.2 541.2 313.2 540.8 314.2 539.2 314.2 538.8 315.2 537.2 315.2 536.8 316.2 535.2 316.2 534.8 317.2 533.2 317.2 532.8 318.2 531.2 318.2 528.8 320.2 526.2 320.2 525.8 321.2 524.2 321.2 523.8 322.2 522.2 322.2 521.8 323.2 520.2 323.2 519.8 324.2 518.2 324.2 517.8 325.2 516.2 325.2 515.8 326.2 514.2 326.2 513.8 327.2 512.2 327.2 509.8 329.2 507.2 329.2 506.8 330.2 505.2 330.2 504.8 331.2 503.2 331.2 502.8 332.2 501.2 332.2 500.8 333.2 499.2 333.2 498.8 334.2 497.2 334.2 496.8 335.2 495.2 335.2 492.8 337.2 490.2 337.2 489.8 338.2 488.2 338.2 487.8 339.2 486.2 339.2 485.8 340.2 480.2 342.2 479.2 343.8 481.2 345.2 481.2 346.8 476.8 350.2 474.2 350.2 472.8 348.8 472.8 346.2 471.2 346.2 470.8 347.2 469.2 347.2 468.8 348.2 467.2 348.2 466.8 349.2 465.2 349.2 464.8 350.2 463.2 350.2 462.8 351.2 461.2 351.2 460.8 352.2 459.2 352.2 456.8 354.2 454.2 354.2 453.8 355.2 452.2 355.2 451.8 356.2 450.2 356.2 449.8 357.2 448.2 357.2 447.8 358.2 446.2 358.2 445.8 359.2 444.2 359.2 443.8 360.2 442.2 360.2 439.8 362.2 437.2 362.2 436.8 363.2 435.2 363.2 434.8 364.2 433.2 364.2 432.8 365.2 431.2 365.2 430.8 366.2 429.2 366.2 428.8 367.2 427.2 367.2 426.8 368.2 425.2 368.2 424.8 369.2 423.2 369.2 420.8 371.2 418.2 371.2 417.8 372.2 416.2 372.2 415.8 373.2 414.2 373.2 413.8 374.2 412.2 374.2 411.8 375.2 410.2 375.2 409.8 376.2 408.2 376.2 407.8 377.2 406.2 377.2 403.8 379.2 401.2 379.2 400.8 380.2 399.2 380.2 398.8 381.2 397.2 381.2 396.8 382.2 395.2 382.2 394.8 383.2 393.2 383.2 392.8 384.2 391.2 384.2 390.8 385.2 389.2 385.2 388.8 386.2 387.2 386.2 384.8 388.2 382.2 388.2 381.8 389.2 380.2 389.2 379.8 390.2 374.2 392.2 373.2 393.8 374.2 394.8 375.8 394.8 376.2 395.8 379.8 395.8 380.2 396.8 390.8 396.8 391.2 397.8 397.8 397.8 398.2 398.8 403.8 398.8 404.2 399.8 413.8 400.8 414.2 401.8 416.8 401.8 417.2 402.8 422.8 403.8 425.2 405.8 427.8 405.8 428.2 406.8 429.8 406.8 430.2 407.8 431.8 407.8 432.2 408.8 433.8 408.8 434.2 409.8 435.8 409.8 436.2 410.8 437.8 410.8 438.2 411.8 439.8 411.8 440.2 412.8 445.8 414.8 447.2 416.8 450.8 417.8 452.2 419.8 457.8 421.8 459.2 423.8 460.8 423.8 461.2 424.8 462.8 424.8 463.2 425.8 468.8 427.8 470.2 429.8 471.8 429.8 472.2 430.8 473.8 430.8 474.2 431.8 475.8 431.8 476.2 432.8 477.8 432.8 480.2 434.8 483.8 434.8 484.2 435.8 490.8 436.8 491.2 437.8 496.8 437.8 497.2 438.8 502.8 438.8 503.2 437.8 506.8 437.8 508.2 435.8 509.8 435.8 511.2 433.8 512.8 433.8 514.2 431.8 515.8 431.8 524.8 422.8 524.8 421.2 525.8 420.8 525.8 419.2 526.8 418.8 526.8 417.2 527.8 416.8 527.8 415.2 529.8 412.8 529.8 410.2 530.8 409.8 530.8 407.2 531.8 406.8 531.8 403.2 532.8 402.8 532.8 397.2 533.8 396.8 533.8 393.2 534.8 392.8 534.8 390.2 535.8 389.8 535.8 386.2 536.8 385.8 536.8 384.2 537.8 383.8 537.8 382.2 539.8 379.8 539.8 377.2 540.8 376.8 541.8 373.2 543.8 371.8 544.8 367.2 545.8 366.8 545.8 365.2 546.8 364.8 546.8 363.2 547.8 362.8 547.8 361.2 548.8 360.8 548.8 359.2 549.8 358.8 549.8 357.2 550.8 356.8 550.8 355.2 551.8 354.8 551.8 353.2 552.8 352.8 552.8 351.2 554.8 348.8 555.8 343.2 557.8 340.8 557.8 338.2 558.8 337.8 558.8 335.2 559.8 334.8 559.8 332.2 560.8 331.8 560.8 329.2 561.8 328.8 561.8 325.2 562.8 324.8 562.8 322.2 563.8 321.8 563.8 317.2 564.8 316.8ZM514.2 364.8 517.8 364.8 518.2 365.8 519.8 365.8 524.2 370.2 524.2 372.8 525.2 373.2 525.2 375.8 526.2 376.2 526.2 382.8 525.2 383.2 524.2 386.8 519.8 390.2 514.2 390.2 511.8 387.8 511.8 386.2 509.8 383.8 509.8 379.2 508.8 378.8 508.8 371.2 509.8 370.8 509.8 368.2Z"/>
<path fill="#a8f060" stroke="#a8f060" stroke-width="0.6" fill-rule="evenodd" d="M305.2 838.2 305.2 839.8 304.2 840.2 304.2 847.8 305.2 848.2 307.2 853.8 315.2 861.8 316.8 861.8 323.2 867.8 327.8 867.8 328.8 866.8 328.8 861.2 327.8 860.8 326.8 857.2 324.8 855.8 324.8 854.2 320.8 850.8 320.8 849.2 313.8 842.8 313.8 841.2 311.8 839.2 310.2 839.2 309.8 838.2ZM753.8 661.2 749.2 661.2 748.8 662.2 743.2 662.2 742.8 663.2 739.2 663.2 738.8 664.2 736.2 664.2 733.8 666.2 731.2 666.2 730.8 667.2 725.2 669.2 724.2 670.8 728.8 670.8 729.2 669.8 733.8 668.8 734.2 667.8 735.8 667.8 738.2 665.8 740.8 665.8 741.2 664.8 743.8 664.8 744.2 663.8 746.8 663.8 747.2 662.8 751.8 662.8ZM700.8 615.2 699.2 615.2 696.8 613.2 693.2 613.2 692.8 612.2 691.2 612.2 690.8 609.2 689.8 608.2 687.2 608.2 686.8 607.2 678.2 607.2 677.8 608.2 674.2 608.2 673.8 609.2 672.2 609.2 671.8 613.2 670.2 613.2 669.8 614.2 666.2 614.2 663.8 616.2 659.2 617.2 656.8 620.2 655.2 620.2 651.2 624.2 651.2 625.8 648.2 628.2 648.2 629.8 647.2 630.2 647.2 631.8 646.2 632.2 646.2 633.8 645.2 634.2 645.2 635.8 643.2 638.2 643.2 641.8 642.2 642.2 642.2 643.8 641.2 644.2 639.2 649.8 633.2 655.2 632.2 660.8 630.2 662.2 630.2 663.8 628.2 665.2 628.2 666.8 626.2 669.2 626.2 673.8 623.2 674.2 620.8 676.2 617.2 676.2 616.8 677.2 614.2 677.2 613.8 678.2 611.2 678.2 610.8 679.2 608.2 679.2 607.8 680.2 602.2 681.2 599.8 683.2 597.2 683.2 597.2 684.8 599.8 684.8 602.2 682.8 604.8 682.8 605.2 681.8 610.8 680.8 611.2 679.8 615.8 678.8 616.2 677.8 623.8 676.8 624.2 675.8 635.8 675.8 636.2 676.8 642.8 676.8 643.2 677.8 648.8 677.8 649.2 678.8 657.8 678.8 658.2 679.8 660.8 679.8 660.8 678.2 654.2 678.2 653.8 677.2 648.2 677.2 647.8 676.2 642.2 676.2 641.8 675.2 632.2 675.2 631.8 674.2 629.8 673.8 629.8 672.2 636.8 671.8 637.2 670.8 639.8 670.8 640.2 669.8 641.8 669.8 644.2 667.8 649.8 666.8 652.2 664.8 661.8 663.8 662.2 662.8 664.8 662.8 665.2 661.8 667.2 663.2 667.2 665.8 666.2 666.2 666.2 671.8 667.2 672.2 668.2 675.8 675.2 681.8 677.8 681.8 678.2 682.8 680.8 682.8 681.2 683.8 684.8 683.8 685.2 684.8 693.8 684.8 694.2 683.8 697.8 683.8 698.2 682.8 703.8 681.8 705.2 679.8 706.8 679.8 710.8 675.8 710.8 674.2 712.8 671.8 712.8 665.2 711.8 664.8 710.8 661.2 703.8 655.2 701.2 655.2 700.8 654.2 698.2 654.2 697.8 653.2 692.2 652.2 690.8 650.8 694.8 646.8 694.8 645.2 697.8 642.8 697.8 641.2 699.8 638.8 699.8 635.2 698.8 634.8 698.8 629.2 699.8 628.8 699.8 627.2 700.8 626.8 700.8 625.2 702.8 622.8 702.8 619.2 701.8 618.8ZM669.8 665.2 670.8 664.8 670.8 663.2 674.2 659.8 675.8 659.8 677.2 657.8 679.8 657.8 680.2 656.8 682.8 656.8 683.2 655.8 695.8 655.8 696.2 656.8 701.8 657.8 703.2 659.8 704.8 659.8 708.2 663.2 710.2 669.8 709.2 670.2 708.2 673.8 704.8 677.2 703.2 677.2 701.8 679.2 699.2 679.2 698.8 680.2 696.2 680.2 695.8 681.2 683.2 681.2 682.8 680.2 677.2 679.2 675.8 677.2 674.2 677.2 670.8 673.8 670.8 672.2 669.8 671.8ZM820.8 638.8 820.8 637.2 818.8 635.8 818.8 634.2 817.8 633.8 815.8 628.2 813.8 626.8 813.8 625.2 812.8 624.2 811.2 624.2 808.8 622.2 804.2 623.2 803.8 624.2 801.8 623.8 801.8 613.2 802.8 612.8 802.8 588.2 801.8 587.8 801.8 577.2 800.8 576.8 800.8 573.2 799.8 572.2 795.2 572.2 793.8 574.2 792.2 574.2 790.8 576.2 789.2 576.2 782.8 583.2 781.2 583.2 778.8 581.2 775.2 581.2 774.8 582.2 771.2 583.2 769.2 585.2 769.2 586.8 767.2 589.2 767.2 591.8 765.8 593.2 763.2 593.2 762.8 594.2 758.8 593.8 759.8 592.8 759.8 591.2 761.8 589.8 761.8 584.2 755.8 579.2 744.2 579.2 739.2 583.2 739.2 584.8 738.2 585.2 738.2 588.8 739.2 589.2 739.2 590.8 742.2 593.8 743.8 593.8 744.2 594.8 747.8 594.8 748.2 595.8 750.8 595.8 751.2 596.8 748.8 599.2 747.2 599.2 741.2 605.2 741.2 606.8 739.2 609.2 739.2 613.8 738.2 614.2 738.2 620.8 739.2 621.2 739.2 623.8 740.2 624.2 741.2 627.8 743.2 629.2 743.2 630.8 745.2 632.8 746.8 632.8 749.2 635.8 752.8 636.8 754.2 638.2 753.8 639.2 746.2 639.2 745.8 638.2 741.2 638.2 739.8 636.8 739.8 632.2 738.8 631.8 738.8 629.2 737.8 628.8 736.8 625.2 735.8 624.2 733.2 624.2 732.2 625.2 732.2 626.8 731.2 627.2 730.8 625.2 725.8 620.2 723.2 620.2 722.8 619.2 714.2 619.2 713.8 620.2 711.2 620.2 707.2 624.2 706.2 628.8 705.2 629.2 707.2 635.8 710.2 638.8 714.8 639.8 715.2 640.8 721.8 640.8 722.2 639.8 724.8 639.8 725.2 638.8 726.8 638.8 729.8 635.8 729.8 634.2 731.8 632.8 732.2 636.8 731.2 637.2 731.2 640.8 730.2 641.2 729.2 646.8 728.2 647.2 728.2 648.8 727.2 649.8 728.2 650.8 730.8 650.8 733.2 647.8 735.8 647.8 736.2 650.8 737.2 651.2 738.2 654.8 740.2 656.8 751.8 656.8 752.2 657.8 756.8 657.8 757.2 658.8 759.8 658.8 761.2 660.2 761.2 663.8 759.2 665.2 759.2 666.8 761.8 666.8 762.2 665.8 763.8 665.8 764.2 664.8 765.8 664.8 766.2 663.8 767.8 663.8 768.2 662.8 769.8 662.8 770.2 661.8 771.8 661.8 774.2 659.8 776.8 659.8 777.2 658.8 778.8 658.8 779.2 657.8 780.8 657.8 781.2 656.8 782.8 656.8 783.2 655.8 784.8 655.8 785.2 654.8 786.8 654.8 787.2 653.8 788.8 653.8 789.2 652.8 790.8 652.8 791.2 651.8 792.8 651.8 795.2 649.8 797.8 649.8 798.2 648.8 799.8 648.8 800.2 647.8 801.8 647.8 802.2 646.8 803.8 646.8 804.2 645.8 805.8 645.8 806.2 644.8 807.8 644.8 808.2 643.8 809.8 643.8 810.2 642.8 811.8 642.8 814.2 640.8 816.8 640.8 817.2 639.8ZM753.8 639.2 754.8 638.8 755.2 639.8 754.2 640.2ZM792.2 635.8 795.8 635.8 798.2 638.2 798.2 641.8 795.8 644.2 792.2 644.2 789.8 640.8 789.8 639.2ZM716.2 621.8 721.8 622.8 722.2 624.8 724.2 626.2 724.2 629.8 719.8 633.2 715.2 633.2 710.8 628.8 711.8 625.2ZM214.8 530.2 200.2 531.2 199.8 532.2 196.2 532.2 195.8 533.2 191.2 533.2 190.8 534.2 188.2 534.2 185.8 536.2 183.2 536.2 182.8 537.2 180.2 537.2 177.8 539.2 175.2 539.2 173.8 541.2 172.2 541.2 171.8 542.2 166.2 544.2 163.2 548.2 163.2 557.8 162.2 558.2 162.2 559.8 163.2 560.2 163.2 561.8 164.2 562.2 164.2 563.8 165.2 564.2 165.2 565.8 166.2 566.2 166.2 567.8 168.2 570.2 168.2 572.8 169.2 573.2 169.2 574.8 170.2 575.2 170.2 576.8 171.2 577.2 171.2 578.8 173.2 581.2 173.2 583.8 174.2 584.2 174.2 585.8 175.2 586.2 175.2 587.8 176.2 588.2 176.2 589.8 177.2 590.2 177.2 591.8 179.2 594.2 179.2 596.8 180.2 597.2 180.2 598.8 181.2 599.2 181.2 600.8 182.2 601.2 182.2 602.8 183.2 603.2 183.2 604.8 185.2 607.2 185.2 609.8 186.2 610.2 186.2 611.8 187.2 612.2 187.2 613.8 188.2 614.2 188.2 615.8 189.2 616.2 189.2 617.8 191.2 620.2 191.2 622.8 192.2 623.2 192.2 624.8 193.2 625.2 195.2 630.8 196.8 630.8 198.2 632.8 199.8 632.8 202.2 634.8 205.8 631.8 205.8 630.2 206.8 629.8 208.8 624.2 211.8 620.8 211.8 618.2 212.8 617.8 213.8 613.2 214.8 612.8 214.8 609.2 215.8 608.8 215.8 605.2 216.8 604.8 216.8 600.2 217.8 599.8 218.8 593.2 219.8 592.8 219.8 591.2 220.8 590.8 220.8 589.2 221.8 588.8 221.8 587.2 222.8 586.8 222.8 585.2 223.8 584.8 223.8 583.2 224.8 582.8 224.8 581.2 225.8 580.8 225.8 579.2 226.8 578.8 226.8 577.2 227.8 576.8 227.8 575.2 228.8 574.8 228.8 573.2 230.8 570.8 230.8 568.2 231.8 567.8 231.8 560.2 232.8 559.8 232.8 557.2 231.8 556.8 231.8 552.2 230.8 551.8 230.8 549.2 229.8 548.8 229.8 545.2 228.8 544.8 228.8 541.2 227.8 540.8 226.8 536.2 224.8 534.2 222.2 534.2 221.8 533.2 217.2 532.2ZM812.8 522.2 811.2 522.2 808.8 520.2 806.2 520.2 805.8 519.2 790.2 519.2 789.8 520.2 783.2 521.2 782.8 522.2 779.2 523.2 777.8 525.2 776.2 525.2 776.2 526.8 774.2 528.2 774.2 535.8 775.2 536.2 775.2 540.8 776.2 541.2 775.2 544.8 776.2 545.8 775.2 546.2 775.2 550.8 773.2 553.2 773.2 564.8 776.2 568.8 778.8 568.8 780.2 566.8 781.8 566.8 784.8 563.8 784.8 562.2 786.8 560.8 786.8 559.2 788.8 557.8 788.8 556.2 790.8 554.8 791.8 551.2 796.8 545.8 796.8 544.2 801.2 539.8 802.8 539.8 804.2 537.8 805.8 537.8 811.8 531.8 812.8 527.2 813.8 526.8ZM864.8 478.2 864.2 488.8 865.2 489.2 865.2 499.8 866.2 500.2 866.2 507.8 867.2 508.2 867.2 514.8 868.2 515.2 868.2 527.8 869.2 528.2 869.2 540.8 870.2 541.2 869.2 551.8 868.2 552.2 867.2 555.8 862.8 560.2 861.2 560.2 860.8 561.2 859.2 561.2 856.8 563.2 854.2 563.2 852.8 565.2 849.2 566.2 844.8 570.2 843.2 570.2 839.8 573.2 838.2 573.2 832.2 579.2 832.2 580.8 831.2 581.2 831.2 582.8 829.2 585.2 829.2 592.8 831.2 594.8 835.8 595.8 840.2 600.2 840.2 601.8 842.2 604.2 842.2 607.8 843.2 608.2 844.2 611.8 846.2 613.2 846.2 614.8 848.2 616.2 848.2 618.8 849.2 619.2 850.2 623.8 851.8 623.8 854.2 621.8 856.8 621.8 857.2 620.8 858.8 620.8 859.2 619.8 860.8 619.8 861.2 618.8 862.8 618.8 863.2 617.8 864.8 617.8 865.2 616.8 866.8 616.8 867.2 615.8 868.8 615.8 869.2 614.8 870.8 614.8 873.2 612.8 875.8 612.8 876.2 611.8 877.8 611.8 878.2 610.8 879.8 610.8 880.2 609.8 881.8 609.8 882.2 608.8 883.8 608.8 884.2 607.8 885.8 607.8 886.2 606.8 887.8 606.8 888.2 605.8 889.8 605.8 890.2 604.8 891.8 604.8 894.2 602.8 896.8 602.8 897.2 601.8 898.8 601.8 899.2 600.8 900.8 600.8 901.2 599.8 902.8 599.8 903.2 598.8 904.8 598.8 905.2 597.8 910.8 595.8 912.8 593.8 912.8 584.2 911.8 583.8 911.8 582.2 910.8 581.8 910.8 580.2 909.8 579.8 909.8 578.2 907.8 575.8 907.8 573.2 906.8 572.8 906.8 571.2 905.8 570.8 905.8 569.2 903.8 566.8 903.8 564.2 902.8 563.8 902.8 562.2 901.8 561.8 901.8 560.2 900.8 559.8 900.8 558.2 898.8 555.8 898.8 553.2 897.8 552.8 897.8 551.2 896.8 550.8 896.8 549.2 894.8 546.8 894.8 544.2 893.8 543.8 893.8 542.2 892.8 541.8 892.8 540.2 891.8 539.8 891.8 538.2 889.8 535.8 889.8 533.2 888.8 532.8 888.8 531.2 887.8 530.8 887.8 529.2 885.8 526.8 885.8 524.2 884.8 523.8 884.8 522.2 883.8 521.8 883.8 520.2 882.8 519.8 882.8 518.2 880.8 515.8 880.8 513.2 879.8 512.8 879.8 511.2 878.8 510.8 878.8 509.2 876.8 506.8 876.8 504.2 875.8 503.8 875.8 502.2 874.8 501.8 874.8 500.2 873.8 499.8 873.8 498.2 871.8 495.8 871.8 493.2 870.8 492.8 870.8 491.2 869.8 490.8 869.8 489.2 867.8 486.8 867.8 484.2 866.8 483.8ZM863.2 600.8 867.8 601.8 871.2 606.2 871.2 609.8 870.2 610.2 870.2 611.8 866.8 614.2 862.2 614.2 861.8 613.2 860.2 613.2 857.8 609.8 857.8 605.2ZM563.8 303.2 562.2 303.2 561.8 304.2 560.2 304.2 559.8 305.2 558.2 305.2 557.8 306.2 556.2 306.2 555.8 307.2 554.2 307.2 553.8 308.2 552.2 308.2 551.8 309.2 550.2 309.2 549.8 310.2 548.2 310.2 545.8 312.2 543.2 312.2 542.8 313.2 541.2 313.2 540.8 314.2 539.2 314.2 538.8 315.2 537.2 315.2 536.8 316.2 535.2 316.2 534.8 317.2 533.2 317.2 532.8 318.2 531.2 318.2 528.8 320.2 526.2 320.2 525.8 321.2 524.2 321.2 523.8 322.2 522.2 322.2 521.8 323.2 520.2 323.2 519.8 324.2 518.2 324.2 517.8 325.2 516.2 325.2 515.8 326.2 514.2 326.2 513.8 327.2 512.2 327.2 509.8 329.2 507.2 329.2 506.8 330.2 505.2 330.2 504.8 331.2 503.2 331.2 502.8 332.2 501.2 332.2 500.8 333.2 499.2 333.2 498.8 334.2 497.2 334.2 496.8 335.2 495.2 335.2 492.8 337.2 490.2 337.2 489.8 338.2 488.2 338.2 487.8 339.2 486.2 339.2 485.8 340.2 480.2 342.2 482.2 344.2 482.2 347.8 477.8 351.2 473.2 351.2 470.8 348.8 470.8 347.2 469.2 347.2 468.8 348.2 467.2 348.2 466.8 349.2 465.2 349.2 464.8 350.2 463.2 350.2 462.8 351.2 461.2 351.2 460.8 352.2 459.2 352.2 456.8 354.2 454.2 354.2 453.8 355.2 452.2 355.2 451.8 356.2 450.2 356.2 449.8 357.2 448.2 357.2 447.8 358.2 446.2 358.2 445.8 359.2 444.2 359.2 443.8 360.2 442.2 360.2 439.8 362.2 437.2 362.2 436.8 363.2 435.2 363.2 434.8 364.2 433.2 364.2 432.8 365.2 431.2 365.2 430.8 366.2 429.2 366.2 428.8 367.2 427.2 367.2 426.8 368.2 425.2 368.2 424.8 369.2 423.2 369.2 420.8 371.2 418.2 371.2 417.8 372.2 416.2 372.2 415.8 373.2 414.2 373.2 413.8 374.2 412.2 374.2 411.8 375.2 410.2 375.2 409.8 376.2 408.2 376.2 407.8 377.2 401.2 379.8 403.2 381.2 403.2 382.8 405.2 384.8 406.8 384.8 409.2 387.8 410.8 387.8 415.2 391.8 416.8 391.8 420.2 394.8 425.8 396.8 427.2 398.8 428.8 398.8 430.2 400.8 433.8 401.8 435.2 403.8 436.8 403.8 441.2 407.8 444.8 408.8 446.2 410.8 447.8 410.8 452.2 414.8 453.8 414.8 457.2 417.8 458.8 417.8 459.2 418.8 464.8 420.8 466.2 422.8 467.8 422.8 469.2 424.8 470.8 424.8 471.2 425.8 476.8 427.8 478.2 429.8 482.8 430.8 483.2 431.8 484.8 431.8 487.2 433.8 489.8 433.8 490.2 434.8 493.8 434.8 494.2 435.8 503.8 435.8 507.2 432.8 508.8 432.8 511.2 429.8 512.8 429.8 515.2 426.8 516.8 426.8 520.8 422.8 520.8 421.2 522.8 419.8 522.8 418.2 523.8 417.8 523.8 416.2 524.8 415.8 524.8 414.2 526.8 411.8 526.8 409.2 527.8 408.8 527.8 406.2 528.8 405.8 528.8 402.2 529.8 401.8 530.8 392.2 531.8 391.8 531.8 389.2 532.8 388.8 533.8 383.2 535.8 380.8 535.8 378.2 538.8 374.8 538.8 373.2 539.8 372.8 539.8 371.2 540.8 370.8 540.8 369.2 541.8 368.8 541.8 367.2 542.8 366.8 542.8 365.2 543.8 364.8 543.8 363.2 544.8 362.8 544.8 361.2 545.8 360.8 545.8 359.2 546.8 358.8 546.8 357.2 547.8 356.8 547.8 355.2 548.8 354.8 548.8 353.2 549.8 352.8 549.8 351.2 550.8 350.8 550.8 349.2 551.8 348.8 551.8 347.2 553.8 344.8 553.8 342.2 555.8 339.8 555.8 337.2 556.8 336.8 556.8 334.2 557.8 333.8 557.8 331.2 558.8 330.8 558.8 328.2 559.8 327.8 559.8 325.2 560.8 324.8 560.8 322.2 561.8 321.8 561.8 317.2 562.8 316.8 562.8 312.2 563.8 311.8ZM515.8 360.8 516.2 361.8 519.8 362.8 522.2 365.8 523.8 365.8 524.2 367.8 526.2 369.2 527.2 375.8 528.2 376.2 528.2 382.8 527.2 383.2 527.2 385.8 526.2 386.2 525.2 389.8 514.2 399.2 514.2 400.8 513.2 401.2 513.2 404.8 512.2 405.2 512.2 407.8 511.2 408.2 511.2 412.8 510.2 413.2 509.2 423.8 506.8 427.2 504.2 427.2 501.8 423.8 501.8 420.2 500.8 419.8 500.8 408.2 501.8 407.8 501.8 388.2 502.8 387.8 502.8 372.2 503.8 371.8 503.8 367.2 504.8 366.8 505.8 363.2 508.2 360.8Z"/>
<path fill="#f4f81e" stroke="#f4f81e" stroke-width="0.6" fill-rule="evenodd" d="M306.2 838.2 305.2 839.2 305.2 848.8 306.2 849.2 307.2 852.8 309.2 854.2 309.2 855.8 313.2 859.8 314.8 859.8 318.2 863.8 319.8 863.8 322.2 866.8 326.8 867.8 328.8 865.8 328.8 863.2 327.8 862.8 327.8 860.2 324.8 856.8 324.8 855.2 321.8 852.8 321.8 851.2 314.8 844.8 314.8 843.2 310.8 839.2ZM744.8 663.2 741.2 663.2 740.8 664.2 738.2 664.2 737.8 665.2 732.2 666.2 731.8 667.2 726.2 669.2 725.2 670.8 727.8 670.8 728.2 669.8 729.8 669.8 732.2 667.8 734.8 667.8 735.2 666.8 736.8 666.8 739.2 664.8 741.8 664.8 742.2 663.8ZM634.2 655.2 634.2 660.8 638.2 663.8 654.8 663.8 655.2 662.8 660.8 662.8 661.2 661.8 663.8 661.8 664.2 660.8 668.8 660.8 669.2 661.8 668.2 662.2 668.2 664.8 667.2 665.2 667.2 671.8 668.2 672.2 669.2 675.8 672.2 678.8 673.8 678.8 675.2 680.8 677.8 680.8 680.2 682.8 683.8 682.8 684.2 683.8 694.8 683.8 695.2 682.8 698.8 682.8 701.2 680.8 703.8 680.8 705.2 678.8 706.8 678.8 709.8 675.8 709.8 674.2 711.8 671.8 711.8 665.2 710.8 664.8 709.8 661.2 706.8 658.2 705.2 658.2 703.8 656.2 701.2 656.2 698.8 654.2 695.2 654.2 694.8 653.2 688.2 653.2 687.8 652.2 685.2 652.2 684.8 653.2 681.2 653.2 680.8 654.2 675.2 655.2 673.8 657.2 671.2 657.2 670.8 655.2 668.8 653.2 666.2 653.2 665.8 652.2 663.2 652.2 662.8 651.2 659.2 651.2 658.8 650.2 644.2 650.2 643.8 651.2 640.2 651.2 639.8 652.2 636.2 653.2ZM669.8 665.2 670.8 664.8 670.8 663.2 674.2 659.8 675.8 659.8 677.2 657.8 679.8 657.8 680.2 656.8 682.8 656.8 683.2 655.8 695.8 655.8 696.2 656.8 701.8 657.8 703.2 659.8 704.8 659.8 708.2 663.2 710.2 669.8 709.2 670.2 708.2 673.8 704.8 677.2 703.2 677.2 701.8 679.2 699.2 679.2 698.8 680.2 696.2 680.2 695.8 681.2 683.2 681.2 682.8 680.2 677.2 679.2 675.8 677.2 674.2 677.2 670.8 673.8 670.8 672.2 669.8 671.8ZM689.8 633.2 685.8 630.2 681.2 630.2 680.8 629.2 678.2 629.2 677.8 630.2 671.2 630.2 670.8 631.2 668.2 631.2 666.2 633.2 666.2 638.8 669.2 642.8 671.8 642.8 672.2 643.8 682.8 643.8 683.2 642.8 685.8 642.8 688.8 639.8ZM710.2 623.2 710.2 624.8 708.2 627.2 708.2 630.8 709.2 631.2 709.2 632.8 710.2 633.2 710.2 634.8 711.2 635.8 712.8 635.8 715.2 637.8 721.8 637.8 722.2 636.8 723.8 636.8 724.2 635.8 725.8 635.8 726.8 634.8 726.8 633.2 728.8 630.8 728.8 627.2 727.8 626.8 727.8 625.2 726.8 624.8 726.8 623.2 725.8 622.2 724.2 622.2 721.8 620.2 715.2 620.2 714.8 621.2 713.2 621.2 712.8 622.2 711.2 622.2ZM716.2 621.8 721.8 622.8 722.2 624.8 724.2 626.2 724.2 629.8 719.8 633.2 715.2 633.2 710.8 628.8 711.8 625.2ZM673.2 610.2 675.2 612.8 687.8 612.8 688.8 611.8 688.8 609.2 687.2 609.2 686.8 608.2 678.2 608.2 677.8 609.2 674.2 609.2ZM739.2 585.2 739.2 588.8 740.2 589.2 740.2 590.8 741.2 591.8 742.8 591.8 744.2 593.8 748.8 593.8 749.2 594.8 754.8 594.8 755.2 593.8 756.8 593.8 761.8 587.8 760.8 584.2 755.8 580.2 744.2 580.2 742.8 582.2 741.2 582.2 740.2 583.2 740.2 584.8ZM797.8 574.2 795.2 574.2 791.8 577.2 790.2 577.2 783.8 584.2 781.2 584.2 778.8 582.2 774.2 582.2 772.8 584.2 771.2 584.2 769.2 586.2 769.2 587.8 768.2 588.2 768.2 592.8 765.8 596.2 761.2 596.2 760.8 597.2 757.2 597.2 756.8 598.2 751.2 599.2 750.8 600.2 747.2 601.2 742.2 607.2 742.2 611.8 741.2 612.2 741.2 621.8 742.2 622.2 744.2 627.8 745.8 627.8 750.2 632.8 751.8 632.8 753.2 634.8 754.8 634.8 755.2 635.8 756.8 635.8 757.2 636.8 758.8 636.8 759.2 637.8 760.8 637.8 761.2 638.8 762.8 638.8 765.2 640.8 767.8 640.8 768.2 642.8 763.2 643.2 760.8 641.2 754.2 641.2 753.8 640.2 748.2 640.2 747.8 639.2 740.2 638.2 739.8 635.2 738.8 634.8 738.8 631.2 737.8 630.8 736.8 627.2 734.2 625.2 733.2 626.2 733.2 637.8 732.2 638.2 732.2 640.8 731.2 641.2 730.2 646.8 729.2 647.2 729.2 648.8 728.2 649.8 730.8 649.8 733.2 646.8 735.8 646.8 737.2 648.2 737.2 650.8 738.2 651.2 739.2 654.8 740.2 655.8 741.8 655.8 742.2 656.8 752.8 656.8 753.2 657.8 758.8 657.8 762.2 661.2 762.2 662.8 759.2 665.2 759.2 666.8 761.8 666.8 762.2 665.8 763.8 665.8 764.2 664.8 765.8 664.8 766.2 663.8 767.8 663.8 768.2 662.8 769.8 662.8 770.2 661.8 771.8 661.8 774.2 659.8 776.8 659.8 777.2 658.8 778.8 658.8 779.2 657.8 780.8 657.8 781.2 656.8 782.8 656.8 783.2 655.8 784.8 655.8 785.2 654.8 786.8 654.8 787.2 653.8 788.8 653.8 789.2 652.8 790.8 652.8 791.2 651.8 792.8 651.8 795.2 649.8 797.8 649.8 798.2 648.8 799.8 648.8 800.2 647.8 801.8 647.8 802.2 646.8 803.8 646.8 804.2 645.8 805.8 645.8 806.2 644.8 807.8 644.8 808.2 643.8 809.8 643.8 810.2 642.8 811.8 642.8 814.2 640.8 816.8 640.8 820.8 637.8 818.8 635.8 818.8 634.2 817.8 633.8 815.8 628.2 813.8 626.8 813.8 625.2 812.2 625.2 809.8 623.2 806.2 623.2 805.8 624.2 803.2 624.2 802.8 625.2 800.2 625.2 799.8 626.2 798.8 625.8 798.8 620.2 799.8 619.8 799.8 580.2 798.8 579.8 798.8 575.2ZM792.2 634.8 794.8 634.8 799.2 638.2 799.2 641.8 794.8 645.2 791.2 644.2 790.8 642.2 789.8 641.8 789.8 637.2ZM778.2 541.2 778.2 546.8 780.2 548.8 782.8 548.8 783.2 549.8 787.8 549.8 788.2 548.8 791.8 547.8 794.8 543.8 793.8 539.2 792.2 539.2 791.8 538.2 783.2 538.2 782.8 539.2 781.2 539.2 780.8 540.2 779.2 540.2ZM213.8 537.2 197.2 537.2 196.8 538.2 191.2 538.2 190.8 539.2 185.2 540.2 182.8 542.2 177.2 543.2 176.8 544.2 173.2 545.2 171.8 547.2 170.2 547.2 168.2 549.2 168.2 551.8 167.2 552.2 166.2 557.8 164.2 560.2 164.2 563.8 165.2 564.2 165.2 565.8 166.2 566.2 166.2 567.8 168.2 570.2 168.2 572.8 169.2 573.2 169.2 574.8 170.2 575.2 170.2 576.8 171.2 577.2 171.2 578.8 173.2 581.2 173.2 583.8 174.2 584.2 174.2 585.8 175.2 586.2 175.2 587.8 176.2 588.2 176.2 589.8 177.2 590.2 177.2 591.8 179.2 594.2 179.2 596.8 180.2 597.2 180.2 598.8 181.2 599.2 181.2 600.8 182.2 601.2 182.2 602.8 183.2 603.2 183.2 604.8 185.2 607.2 185.2 609.8 186.2 610.2 186.2 611.8 187.2 612.2 187.2 613.8 188.2 614.2 188.2 615.8 189.2 616.2 189.2 617.8 191.2 620.2 191.2 622.8 192.2 623.2 193.2 626.8 194.8 626.8 195.2 627.8 198.8 627.8 199.2 628.8 203.8 627.8 203.8 626.2 205.8 624.8 205.8 623.2 209.8 618.8 209.8 616.2 211.8 613.8 212.8 607.2 213.8 606.8 213.8 602.2 214.8 601.8 214.8 597.2 215.8 596.8 215.8 594.2 217.8 591.8 217.8 589.2 218.8 588.8 218.8 587.2 219.8 586.8 221.8 581.2 223.8 579.8 223.8 578.2 224.8 577.8 224.8 576.2 226.8 573.8 226.8 571.2 228.8 568.8 228.8 565.2 229.8 564.8 229.8 557.2 228.8 556.8 228.8 554.2 227.8 553.8 225.8 548.2 223.8 546.8 223.8 545.2 220.8 542.8 220.8 541.2 218.8 539.2 214.2 538.2ZM865.8 480.2 865.2 487.8 866.2 488.2 866.2 499.8 867.2 500.2 867.2 507.8 868.2 508.2 868.2 513.8 869.2 514.2 869.2 523.8 870.2 524.2 870.2 538.8 871.2 539.2 871.2 548.8 870.2 549.2 870.2 552.8 869.2 553.2 868.2 556.8 863.8 561.2 862.2 561.2 861.8 562.2 860.2 562.2 857.8 564.2 853.2 565.2 851.8 567.2 848.2 568.2 843.8 572.2 840.2 573.2 833.2 580.2 833.2 581.8 832.2 582.2 832.2 583.8 830.2 586.2 830.2 591.8 831.2 592.2 831.2 593.8 835.8 594.8 841.2 600.2 844.2 609.8 849.2 615.2 849.2 617.8 850.2 618.2 851.2 623.8 852.2 622.8 853.8 622.8 854.2 621.8 856.8 621.8 857.2 620.8 858.8 620.8 859.2 619.8 860.8 619.8 861.2 618.8 862.8 618.8 863.2 617.8 864.8 617.8 865.2 616.8 866.8 616.8 867.2 615.8 868.8 615.8 869.2 614.8 870.8 614.8 873.2 612.8 875.8 612.8 876.2 611.8 877.8 611.8 878.2 610.8 879.8 610.8 880.2 609.8 881.8 609.8 882.2 608.8 883.8 608.8 884.2 607.8 885.8 607.8 886.2 606.8 887.8 606.8 888.2 605.8 889.8 605.8 890.2 604.8 891.8 604.8 894.2 602.8 896.8 602.8 897.2 601.8 898.8 601.8 899.2 600.8 900.8 600.8 901.2 599.8 902.8 599.8 903.2 598.8 904.8 598.8 905.2 597.8 910.8 595.8 912.8 593.8 912.8 584.2 911.8 583.8 911.8 582.2 910.8 581.8 910.8 580.2 909.8 579.8 909.8 578.2 907.8 575.8 907.8 573.2 906.8 572.8 906.8 571.2 905.8 570.8 905.8 569.2 903.8 566.8 903.8 564.2 902.8 563.8 902.8 562.2 901.8 561.8 901.8 560.2 900.8 559.8 900.8 558.2 898.8 555.8 898.8 553.2 897.8 552.8 897.8 551.2 896.8 550.8 896.8 549.2 894.8 546.8 894.8 544.2 893.8 543.8 893.8 542.2 892.8 541.8 892.8 540.2 891.8 539.8 891.8 538.2 889.8 535.8 889.8 533.2 888.8 532.8 888.8 531.2 887.8 530.8 887.8 529.2 885.8 526.8 885.8 524.2 884.8 523.8 884.8 522.2 883.8 521.8 883.8 520.2 882.8 519.8 882.8 518.2 880.8 515.8 880.8 513.2 879.8 512.8 879.8 511.2 878.8 510.8 878.8 509.2 876.8 506.8 876.8 504.2 875.8 503.8 875.8 502.2 874.8 501.8 874.8 500.2 873.8 499.8 873.8 498.2 871.8 495.8 871.8 493.2 870.8 492.8 870.8 491.2 869.8 490.8 869.8 489.2 867.8 486.8 867.8 484.2 866.8 483.8ZM861.2 600.8 867.8 600.8 871.2 604.2 871.2 611.8 866.8 615.2 862.2 615.2 861.8 614.2 860.2 614.2 856.8 609.8 856.8 606.2ZM550.8 309.2 549.8 310.2 548.2 310.2 547.8 311.2 546.2 311.2 545.8 312.2 543.2 312.2 542.8 313.2 541.2 313.2 540.8 314.2 539.2 314.2 538.8 315.2 537.2 315.2 536.8 316.2 535.2 316.2 534.8 317.2 533.2 317.2 532.8 318.2 531.2 318.2 528.8 320.2 526.2 320.2 525.8 321.2 524.2 321.2 523.8 322.2 522.2 322.2 521.8 323.2 520.2 323.2 519.8 324.2 518.2 324.2 517.8 325.2 516.2 325.2 515.8 326.2 514.2 326.2 513.8 327.2 512.2 327.2 509.8 329.2 507.2 329.2 506.8 330.2 505.2 330.2 504.8 331.2 503.2 331.2 502.8 332.2 501.2 332.2 500.8 333.2 499.2 333.2 498.8 334.2 497.2 334.2 496.8 335.2 495.2 335.2 492.8 337.2 490.2 337.2 489.8 338.2 488.2 338.2 487.8 339.2 482.2 341.2 484.2 343.2 484.2 347.8 478.8 352.2 476.2 352.2 475.8 353.2 470.2 352.2 468.8 348.2 467.2 348.2 466.8 349.2 465.2 349.2 464.8 350.2 463.2 350.2 462.8 351.2 461.2 351.2 460.8 352.2 459.2 352.2 456.8 354.2 454.2 354.2 453.8 355.2 452.2 355.2 451.8 356.2 450.2 356.2 449.8 357.2 448.2 357.2 447.8 358.2 446.2 358.2 445.8 359.2 444.2 359.2 443.8 360.2 442.2 360.2 439.8 362.2 437.2 362.2 436.8 363.2 435.2 363.2 434.8 364.2 433.2 364.2 432.8 365.2 431.2 365.2 430.8 366.2 429.2 366.2 428.8 367.2 427.2 367.2 426.8 368.2 425.2 368.2 424.8 369.2 423.2 369.2 420.8 371.2 418.2 371.2 417.8 372.2 412.2 374.2 412.2 376.8 413.2 377.2 414.2 380.8 418.2 384.8 419.8 384.8 422.2 387.8 423.8 387.8 428.2 391.8 431.8 392.8 433.2 394.8 434.8 394.8 439.2 398.8 442.8 399.8 444.2 401.8 445.8 401.8 447.2 403.8 448.8 403.8 454.2 408.8 455.8 408.8 457.2 410.8 460.8 411.8 465.2 415.8 470.8 417.8 472.2 419.8 473.8 419.8 474.2 420.8 475.8 420.8 476.2 421.8 477.8 421.8 480.2 423.8 482.8 423.8 483.2 424.8 488.8 426.8 489.8 425.8 489.8 424.2 490.8 423.8 491.8 415.2 492.8 414.8 492.8 411.2 493.8 410.8 493.8 407.2 494.8 406.8 494.8 402.2 495.8 401.8 495.8 393.2 496.8 392.8 496.8 378.2 497.8 377.8 497.8 374.2 498.8 373.8 498.8 371.2 500.8 368.8 500.8 366.2 502.8 363.8 502.8 361.2 503.8 360.8 504.8 355.2 506.8 353.8 507.2 355.8 508.2 356.2 508.2 358.8 509.8 358.8 510.2 359.8 511.2 358.8 517.8 359.8 522.2 363.8 526.8 363.8 527.2 362.8 529.8 362.8 530.2 361.8 531.8 361.8 535.2 357.8 536.8 357.8 536.8 356.2 538.8 354.8 539.8 351.2 541.8 349.8 541.8 347.2 543.8 344.8 543.8 342.2 544.8 341.8 545.8 337.2 546.8 336.8 546.8 332.2 547.8 331.8 547.8 327.2 548.8 326.8 548.8 322.2 549.8 321.8 549.8 316.2 550.8 315.8Z"/>
<path fill="#f8a80e" stroke="#f8a80e" stroke-width="0.6" fill-rule="evenodd" d="M306.2 839.2 306.2 840.8 305.2 841.2 305.2 845.8 306.2 846.2 306.2 848.8 307.2 849.2 309.2 854.8 323.2 866.8 324.8 866.8 325.2 867.8 326.2 866.8 327.8 866.8 327.8 862.2 326.8 861.8 324.8 856.2 321.8 853.8 321.8 852.2 316.8 847.8 316.8 846.2 309.8 839.2ZM669.2 664.2 668.2 669.8 669.2 670.2 670.2 674.8 674.2 678.8 675.8 678.8 678.2 680.8 680.8 680.8 681.2 681.8 684.8 681.8 685.2 682.8 693.8 682.8 694.2 681.8 700.8 680.8 701.2 679.8 704.8 678.8 708.8 674.8 708.8 673.2 710.8 670.8 710.8 666.2 709.8 665.8 708.8 662.2 704.8 658.2 703.2 658.2 700.8 656.2 698.2 656.2 697.8 655.2 694.2 655.2 693.8 654.2 684.2 654.2 683.8 655.2 680.2 655.2 679.8 656.2 674.2 658.2ZM669.8 665.2 670.8 664.8 670.8 663.2 674.2 659.8 675.8 659.8 677.2 657.8 679.8 657.8 680.2 656.8 682.8 656.8 683.2 655.8 695.8 655.8 696.2 656.8 701.8 657.8 703.2 659.8 704.8 659.8 708.2 663.2 710.2 669.8 709.2 670.2 708.2 673.8 704.8 677.2 703.2 677.2 701.8 679.2 699.2 679.2 698.8 680.2 696.2 680.2 695.8 681.2 683.2 681.2 682.8 680.2 677.2 679.2 675.8 677.2 674.2 677.2 670.8 673.8 670.8 672.2 669.8 671.8ZM635.2 656.2 635.2 659.8 636.2 660.2 636.2 661.8 637.8 661.8 638.2 662.8 656.8 661.8 657.2 660.8 659.8 660.8 660.2 659.8 663.8 658.8 663.8 655.2 662.2 655.2 659.8 653.2 657.2 653.2 656.8 652.2 643.2 652.2 642.8 653.2 639.2 653.2ZM819.8 636.2 818.8 635.8 818.8 634.2 817.8 633.8 815.8 628.2 812.8 625.2 811.2 625.2 810.8 624.2 806.2 624.2 805.8 625.2 801.2 626.2 798.8 629.2 797.2 629.2 793.2 633.2 794.2 634.8 796.8 634.8 799.2 637.2 799.2 642.8 796.8 645.2 792.2 645.2 789.8 642.8 789.8 641.2 788.8 640.8 788.8 637.2 789.8 636.2 786.8 635.8 786.8 631.2 784.8 629.2 777.2 629.2 776.8 630.2 774.2 630.2 773.2 631.2 773.2 635.8 777.2 638.8 781.8 638.8 782.2 639.8 780.8 641.2 775.2 642.2 772.8 644.2 762.2 644.2 761.8 643.2 759.2 643.2 758.8 642.2 749.2 641.2 748.8 640.2 745.2 640.2 744.8 639.2 739.2 639.2 738.8 635.2 737.8 634.8 737.8 631.2 736.8 630.8 735.8 627.2 734.2 627.2 734.2 628.8 735.2 629.2 735.2 632.8 734.2 633.2 733.2 641.8 731.2 644.2 730.2 648.8 733.2 645.8 734.8 645.8 735.8 644.8 737.2 646.2 738.2 650.8 739.2 651.2 739.2 652.8 740.2 653.2 740.2 654.8 741.2 655.8 756.8 656.8 757.2 657.8 760.8 658.8 762.2 660.2 762.2 663.8 759.2 666.8 761.8 666.8 762.2 665.8 763.8 665.8 764.2 664.8 765.8 664.8 766.2 663.8 767.8 663.8 768.2 662.8 769.8 662.8 770.2 661.8 771.8 661.8 774.2 659.8 776.8 659.8 777.2 658.8 778.8 658.8 779.2 657.8 780.8 657.8 781.2 656.8 782.8 656.8 783.2 655.8 784.8 655.8 785.2 654.8 786.8 654.8 787.2 653.8 788.8 653.8 789.2 652.8 790.8 652.8 791.2 651.8 792.8 651.8 795.2 649.8 797.8 649.8 798.2 648.8 799.8 648.8 800.2 647.8 801.8 647.8 802.2 646.8 803.8 646.8 804.2 645.8 805.8 645.8 806.2 644.8 807.8 644.8 808.2 643.8 809.8 643.8 810.2 642.8 811.8 642.8 814.2 640.8 818.8 639.8 819.8 638.8ZM710.2 625.2 710.2 630.8 711.2 631.2 711.2 632.8 712.2 633.8 714.8 633.8 715.2 634.8 720.8 634.8 721.2 633.8 723.8 633.8 724.8 632.8 724.8 631.2 725.8 630.8 725.8 625.2 720.8 621.2 715.2 621.2ZM716.2 621.8 721.8 622.8 722.2 624.8 724.2 626.2 724.2 629.8 719.8 633.2 715.2 633.2 710.8 628.8 711.8 625.2ZM857.2 620.8 858.8 620.8 859.2 619.8 860.8 619.8 861.2 618.8 862.8 618.8 863.2 617.8 864.8 617.8 866.8 616.2 861.2 616.2 857.2 613.2ZM768.8 604.2 766.2 604.2 765.8 603.2 764.2 603.2 763.8 604.2 759.2 604.2 752.2 609.2 752.2 610.8 750.2 612.2 750.2 613.8 749.2 614.2 749.2 615.8 747.2 618.2 747.2 624.8 749.2 626.2 749.2 627.8 750.8 627.8 753.2 629.8 758.8 629.8 759.2 628.8 761.8 628.8 766.8 623.8 766.8 622.2 768.8 620.8 769.8 616.2 770.8 615.8 770.8 607.2 769.8 606.8 769.8 605.2ZM774.2 583.2 772.8 585.2 771.2 585.2 770.2 586.2 770.2 587.8 769.2 588.2 769.2 595.8 770.2 596.2 770.2 597.8 771.8 597.8 774.2 599.8 776.8 599.8 777.2 598.8 778.8 598.8 778.8 597.2 781.8 594.8 781.8 593.2 782.8 592.8 782.8 586.2 778.8 583.2ZM753.2 582.2 751.2 584.2 751.2 589.8 753.2 591.8 757.8 591.8 759.8 589.8 760.8 586.2 757.8 582.2ZM846.2 580.2 844.2 582.2 844.2 583.8 846.2 585.8 849.8 585.8 851.8 583.8 851.8 582.2 849.8 580.2ZM210.8 543.2 201.2 543.2 200.8 542.2 198.2 542.2 197.8 543.2 191.2 543.2 190.8 544.2 188.2 544.2 187.8 545.2 185.2 545.2 184.8 546.2 179.2 547.2 178.8 548.2 175.2 549.2 171.2 553.2 170.2 556.8 165.2 562.2 165.2 565.8 166.2 566.2 166.2 567.8 168.2 570.2 168.2 572.8 169.2 573.2 169.2 574.8 170.2 575.2 170.2 576.8 171.2 577.2 171.2 578.8 173.2 581.2 173.2 583.8 174.2 584.2 174.2 585.8 175.2 586.2 175.2 587.8 176.2 588.2 176.2 589.8 177.2 590.2 177.2 591.8 179.2 594.2 179.2 596.8 180.2 597.2 180.2 598.8 181.2 599.2 181.2 600.8 182.2 601.2 182.2 602.8 183.2 603.2 183.2 604.8 185.2 607.2 185.2 609.8 186.2 610.2 186.2 611.8 187.2 612.2 187.2 613.8 188.2 614.2 188.2 615.8 189.2 616.2 189.2 617.8 191.2 620.2 192.2 624.8 199.8 624.8 200.2 623.8 201.8 623.8 204.8 620.8 204.8 619.2 207.8 616.8 207.8 615.2 209.8 612.8 209.8 610.2 210.8 609.8 210.8 606.2 211.8 605.8 211.8 600.2 212.8 599.8 213.8 592.2 215.8 589.8 215.8 587.2 216.8 586.8 216.8 585.2 217.8 584.8 219.8 579.2 221.8 577.8 221.8 576.2 222.8 575.8 222.8 574.2 223.8 573.8 223.8 572.2 224.8 571.8 224.8 570.2 226.8 567.8 226.8 558.2 225.8 557.8 225.8 556.2 218.8 548.2 217.2 548.2 215.8 546.2 214.2 546.2ZM870.2 491.2 870.2 495.8 871.2 496.2 871.2 502.8 872.2 503.2 872.2 507.8 873.2 508.2 873.2 516.8 874.2 517.2 874.2 521.8 875.2 522.2 875.2 526.8 876.2 527.2 876.2 533.8 877.2 534.2 877.2 537.8 878.2 538.2 878.2 541.8 879.2 542.2 879.2 545.8 880.2 546.2 880.2 555.8 878.2 557.2 878.2 558.8 876.2 559.2 874.8 561.2 873.2 561.2 872.8 562.2 871.2 562.2 870.8 563.2 869.2 563.2 868.8 564.2 867.2 564.2 866.8 565.2 865.2 565.2 864.8 566.2 863.2 566.2 862.8 567.2 857.2 569.2 855.2 571.2 856.2 572.8 859.8 572.8 860.2 573.8 861.8 573.8 862.2 575.8 861.2 576.2 861.2 577.8 857.2 581.2 857.2 582.8 855.2 585.2 855.2 588.8 854.2 589.8 855.2 590.2 855.2 592.8 859.2 596.2 859.2 599.8 856.8 602.2 855.2 602.2 854.2 603.2 854.2 604.8 855.8 605.8 856.8 604.8 856.8 603.2 859.2 600.8 861.8 600.8 862.2 599.8 866.8 599.8 867.2 600.8 869.8 600.8 872.2 604.2 872.2 611.8 871.2 612.2 871.2 613.8 870.2 614.2 870.8 614.8 871.2 613.8 875.8 612.8 876.2 611.8 877.8 611.8 878.2 610.8 879.8 610.8 880.2 609.8 881.8 609.8 882.2 608.8 883.8 608.8 884.2 607.8 885.8 607.8 886.2 606.8 887.8 606.8 888.2 605.8 889.8 605.8 890.2 604.8 891.8 604.8 894.2 602.8 896.8 602.8 897.2 601.8 898.8 601.8 899.2 600.8 900.8 600.8 901.2 599.8 902.8 599.8 903.2 598.8 904.8 598.8 905.2 597.8 910.8 595.8 912.8 593.8 912.8 584.2 911.8 583.8 911.8 582.2 910.8 581.8 910.8 580.2 909.8 579.8 909.8 578.2 907.8 575.8 907.8 573.2 906.8 572.8 906.8 571.2 905.8 570.8 905.8 569.2 903.8 566.8 903.8 564.2 902.8 563.8 902.8 562.2 901.8 561.8 901.8 560.2 900.8 559.8 900.8 558.2 898.8 555.8 898.8 553.2 897.8 552.8 897.8 551.2 896.8 550.8 896.8 549.2 894.8 546.8 894.8 544.2 893.8 543.8 893.8 542.2 892.8 541.8 892.8 540.2 891.8 539.8 891.8 538.2 889.8 535.8 889.8 533.2 888.8 532.8 888.8 531.2 887.8 530.8 887.8 529.2 885.8 526.8 885.8 524.2 884.8 523.8 884.8 522.2 883.8 521.8 883.8 520.2 882.8 519.8 882.8 518.2 880.8 515.8 880.8 513.2 879.8 512.8 879.8 511.2 878.8 510.8 878.8 509.2 876.8 506.8 876.8 504.2 875.8 503.8 875.8 502.2 874.8 501.8 874.8 500.2 873.8 499.8 873.8 498.2 871.8 495.8 871.8 493.2ZM528.2 338.2 526.8 340.2 525.2 340.2 524.2 341.2 524.2 342.8 523.2 343.2 523.2 348.8 524.2 349.2 524.2 350.8 525.2 351.8 526.8 351.8 528.2 353.8 533.8 353.8 535.2 351.8 536.8 351.8 537.8 350.8 537.8 349.2 538.8 348.8 538.8 343.2 537.8 342.8 537.8 341.2 536.8 340.2 535.2 340.2 533.8 338.2ZM504.8 333.2 503.8 332.2 501.2 332.2 500.8 333.2 499.2 333.2 498.8 334.2 497.2 334.2 496.8 335.2 495.2 335.2 492.8 337.2 490.2 337.2 489.8 338.2 484.2 340.2 483.2 341.8 485.2 343.2 485.2 347.8 478.8 353.2 476.2 353.2 475.8 354.2 470.2 353.2 467.2 348.2 466.8 349.2 465.2 349.2 464.8 350.2 463.2 350.2 462.8 351.2 461.2 351.2 460.8 352.2 459.2 352.2 456.8 354.2 454.2 354.2 453.8 355.2 452.2 355.2 451.8 356.2 450.2 356.2 449.8 357.2 448.2 357.2 447.8 358.2 446.2 358.2 445.8 359.2 444.2 359.2 443.8 360.2 442.2 360.2 439.8 362.2 437.2 362.2 436.8 363.2 435.2 363.2 434.8 364.2 433.2 364.2 432.8 365.2 431.2 365.2 430.8 366.2 429.2 366.2 428.8 367.2 427.2 367.2 426.8 368.2 425.2 368.2 424.8 369.2 423.2 369.2 420.8 371.2 416.2 372.2 416.2 375.8 422.2 382.8 423.8 382.8 428.2 386.8 431.8 387.8 433.2 389.8 436.8 390.8 441.2 394.8 444.8 395.8 446.2 397.8 447.8 397.8 449.2 399.8 450.8 399.8 452.2 401.8 453.8 401.8 456.2 404.8 457.8 404.8 462.2 408.8 463.8 408.8 464.2 409.8 465.8 409.8 466.2 410.8 467.8 410.8 468.2 411.8 469.8 411.8 470.2 412.8 471.8 412.8 474.2 414.8 482.8 415.8 483.2 414.8 484.8 414.8 484.8 413.2 485.8 412.8 485.8 411.2 486.8 410.8 486.8 409.2 488.8 406.8 488.8 404.2 489.8 403.8 489.8 399.2 490.8 398.8 490.8 390.2 491.8 389.8 491.8 380.2 492.8 379.8 492.8 375.2 493.8 374.8 493.8 372.2 494.8 371.8 495.8 366.2 498.8 362.8 498.8 361.2 499.8 360.8 499.8 359.2 500.8 358.8 500.8 357.2 501.8 356.8 501.8 355.2 502.8 354.8 502.8 353.2 503.8 352.8 503.8 351.2 505.8 348.8 505.8 338.2 504.8 337.8Z"/>
<path fill="#f45a0a" stroke="#f45a0a" stroke-width="0.6" fill-rule="evenodd" d="M307.2 840.2 306.2 841.2 306.2 845.8 307.2 846.2 307.2 848.8 308.2 849.2 310.2 854.8 314.2 858.8 315.8 858.8 320.2 863.8 321.8 863.8 324.2 866.8 325.8 866.8 326.8 865.8 326.8 862.2 325.8 861.8 323.8 856.2 317.8 850.8 317.8 849.2 312.8 844.8 312.8 843.2 309.8 840.2ZM636.2 656.2 636.2 659.8 638.2 661.8 645.8 661.8 647.8 659.8 646.8 655.2 645.2 655.2 644.8 654.2 640.2 654.2 639.8 655.2 637.2 655.2ZM711.2 629.2 712.2 630.2 712.2 631.8 713.2 632.8 714.8 632.8ZM819.8 636.2 818.8 635.8 816.8 630.2 813.8 627.2 812.2 627.2 811.8 626.2 805.2 626.2 804.8 627.2 801.2 628.2 796.2 633.2 800.2 637.2 800.2 642.8 796.8 646.2 792.2 646.2 791.8 645.2 790.2 645.2 787.8 640.2 784.2 641.2 780.8 644.2 778.2 644.2 777.8 645.2 775.2 645.2 774.8 646.2 771.2 646.2 770.8 647.2 761.2 646.2 760.8 645.2 758.2 645.2 757.8 644.2 755.2 644.2 754.8 643.2 752.2 643.2 751.8 642.2 748.2 642.2 747.8 641.2 741.2 641.2 740.2 642.2 740.2 643.8 739.2 644.2 739.2 648.8 740.2 649.2 740.2 650.8 742.2 652.2 742.2 653.8 743.2 654.8 745.8 654.8 746.2 655.8 753.8 655.8 754.2 656.8 758.8 656.8 759.2 657.8 760.8 657.8 763.2 661.2 762.2 664.8 760.2 666.2 761.8 666.8 762.2 665.8 763.8 665.8 764.2 664.8 765.8 664.8 766.2 663.8 767.8 663.8 768.2 662.8 769.8 662.8 770.2 661.8 771.8 661.8 774.2 659.8 776.8 659.8 777.2 658.8 778.8 658.8 779.2 657.8 780.8 657.8 781.2 656.8 782.8 656.8 783.2 655.8 784.8 655.8 785.2 654.8 786.8 654.8 787.2 653.8 788.8 653.8 789.2 652.8 790.8 652.8 791.2 651.8 792.8 651.8 795.2 649.8 797.8 649.8 798.2 648.8 799.8 648.8 800.2 647.8 801.8 647.8 802.2 646.8 803.8 646.8 804.2 645.8 805.8 645.8 806.2 644.8 807.8 644.8 808.2 643.8 809.8 643.8 810.2 642.8 811.8 642.8 814.2 640.8 816.8 640.8 818.8 638.8 818.8 637.2ZM723.8 624.2 722.2 624.8 724.2 626.2 724.2 629.8 721.8 632.2 716.2 633.8 719.8 633.8 720.2 632.8 722.8 632.8 723.8 631.8 723.8 630.2 724.8 629.8 724.8 626.2 723.8 625.8ZM777.8 584.2 774.2 585.2 771.2 588.2 771.2 590.8 772.2 591.2 772.2 592.8 773.2 593.8 777.8 593.8 778.8 592.8 778.8 591.2 779.8 590.8 779.8 586.2ZM200.8 547.2 192.2 547.2 191.8 548.2 188.2 548.2 187.8 549.2 185.2 549.2 184.8 550.2 179.2 551.2 178.8 552.2 177.2 552.2 170.2 559.2 169.8 561.2 168.2 561.2 166.2 563.2 166.2 567.8 168.2 570.2 168.2 572.8 169.2 573.2 169.2 574.8 170.2 575.2 170.2 576.8 171.2 577.2 171.2 578.8 173.2 581.2 173.2 583.8 174.2 584.2 174.2 585.8 175.2 586.2 175.2 587.8 176.2 588.2 176.2 589.8 177.2 590.2 177.2 591.8 179.2 594.2 179.2 596.8 180.2 597.2 180.2 598.8 181.2 599.2 181.2 600.8 182.2 601.2 182.2 602.8 183.2 603.2 183.2 604.8 185.2 607.2 185.2 609.8 186.2 610.2 186.2 611.8 187.2 612.2 187.2 613.8 188.2 614.2 188.2 615.8 189.2 616.2 189.2 617.8 190.2 618.2 191.2 622.8 192.2 623.8 195.8 623.8 196.2 622.8 199.8 621.8 205.8 615.8 205.8 614.2 206.8 613.8 206.8 612.2 208.8 609.8 208.8 606.2 209.8 605.8 209.8 600.2 210.8 599.8 211.8 591.2 213.8 588.8 213.8 586.2 214.8 585.8 214.8 584.2 215.8 583.8 217.8 578.2 219.8 576.8 219.8 575.2 220.8 574.8 220.8 573.2 221.8 572.8 221.8 571.2 222.8 570.8 222.8 569.2 224.8 566.8 224.8 560.2 218.8 553.2 217.2 553.2 214.8 551.2 212.2 551.2 209.8 549.2 201.2 548.2ZM877.8 507.2 877.2 508.8 878.2 509.2 879.2 516.8 880.2 517.2 880.2 519.8 881.2 520.2 882.2 525.8 884.2 528.2 884.2 531.8 885.2 532.2 886.2 537.8 888.2 540.2 888.2 543.8 889.2 544.2 889.2 546.8 890.2 547.2 890.2 549.8 891.2 550.2 891.2 552.8 892.2 553.2 893.2 560.8 892.2 561.2 892.2 562.8 890.2 563.2 888.8 565.2 884.2 566.2 883.8 567.2 881.2 567.2 880.8 568.2 878.2 568.2 875.8 570.2 873.2 570.2 872.8 571.2 867.2 573.2 865.8 575.2 864.2 575.2 862.2 577.2 862.2 578.8 858.2 582.2 857.2 586.8 856.2 587.2 857.2 588.2 857.2 591.8 861.2 597.2 860.2 598.8 867.8 598.8 868.2 599.8 869.8 599.8 873.2 604.2 873.2 610.8 874.8 610.8 875.2 611.8 877.8 611.8 878.2 610.8 879.8 610.8 880.2 609.8 881.8 609.8 882.2 608.8 883.8 608.8 884.2 607.8 885.8 607.8 886.2 606.8 887.8 606.8 888.2 605.8 889.8 605.8 890.2 604.8 891.8 604.8 894.2 602.8 896.8 602.8 897.2 601.8 898.8 601.8 899.2 600.8 900.8 600.8 901.2 599.8 902.8 599.8 903.2 598.8 904.8 598.8 905.2 597.8 910.8 595.8 912.8 593.8 912.8 584.2 911.8 583.8 911.8 582.2 910.8 581.8 910.8 580.2 909.8 579.8 909.8 578.2 907.8 575.8 907.8 573.2 906.8 572.8 906.8 571.2 905.8 570.8 905.8 569.2 903.8 566.8 903.8 564.2 902.8 563.8 902.8 562.2 901.8 561.8 901.8 560.2 900.8 559.8 900.8 558.2 898.8 555.8 898.8 553.2 897.8 552.8 897.8 551.2 896.8 550.8 896.8 549.2 894.8 546.8 894.8 544.2 893.8 543.8 893.8 542.2 892.8 541.8 892.8 540.2 891.8 539.8 891.8 538.2 889.8 535.8 889.8 533.2 888.8 532.8 888.8 531.2 887.8 530.8 887.8 529.2 885.8 526.8 885.8 524.2 884.8 523.8 884.8 522.2 883.8 521.8 883.8 520.2 882.8 519.8 882.8 518.2 880.8 515.8 880.8 513.2 879.8 512.8ZM529.2 343.2 528.2 344.2 528.2 347.8 529.2 348.8 532.8 348.8 533.8 347.8 533.8 344.2 532.8 343.2ZM501.8 338.2 500.8 337.8 500.8 336.2 499.8 335.2 495.2 335.2 492.8 337.2 490.2 337.2 489.8 338.2 484.2 340.2 486.2 342.2 486.2 347.8 482.8 352.2 481.2 352.2 480.8 353.2 479.2 353.2 476.8 355.2 472.2 355.2 466.8 350.8 466.8 349.2 465.2 349.2 464.8 350.2 463.2 350.2 462.8 351.2 461.2 351.2 460.8 352.2 459.2 352.2 456.8 354.2 454.2 354.2 453.8 355.2 452.2 355.2 451.8 356.2 450.2 356.2 449.8 357.2 448.2 357.2 447.8 358.2 446.2 358.2 445.8 359.2 444.2 359.2 443.8 360.2 442.2 360.2 439.8 362.2 437.2 362.2 436.8 363.2 435.2 363.2 434.8 364.2 433.2 364.2 432.8 365.2 431.2 365.2 430.8 366.2 429.2 366.2 428.8 367.2 427.2 367.2 426.8 368.2 421.2 370.2 420.2 371.2 420.2 374.8 426.2 380.8 427.8 380.8 429.2 382.8 430.8 382.8 431.2 383.8 432.8 383.8 433.2 384.8 438.8 386.8 443.2 390.8 446.8 391.8 448.2 393.8 449.8 393.8 451.2 395.8 452.8 395.8 454.2 397.8 455.8 397.8 458.2 400.8 459.8 400.8 461.2 402.8 462.8 402.8 465.2 405.8 469.8 406.8 470.2 407.8 473.8 407.8 474.2 408.8 478.8 408.8 482.8 405.8 482.8 404.2 484.8 401.8 484.8 396.2 485.8 395.8 485.8 386.2 486.8 385.8 487.8 376.2 488.8 375.8 488.8 373.2 489.8 372.8 490.8 366.2 493.8 362.8 493.8 361.2 495.8 359.8 495.8 358.2 499.8 354.8 499.8 353.2 500.8 352.8 498.8 351.2 497.2 351.2 494.8 348.8 494.8 343.2 497.2 340.8 501.8 340.8Z"/>
</g>
<g class="c" stroke-linejoin="round">
<path d="M328.9 321 323.3 323.3 314.4 330 311 336.7 312.2 337.8 318.9 340 330 342.2 356.7 341.8 374.4 340 383.3 336.7 380 333.3 374.4 326.7 367.8 318.9 361 316.2"/>
<path d="M378.9 368.9 374.4 366.7 366.7 367.8 364.4 371 365 375.6 366.7 384.4 368.9 395.6 371 404.4 374.4 408.4 378.9 407.8 383.3 404.4 385.6 401"/>
<path d="M323.3 448.9 332.2 442.2 338.9 435.6 347.8 433.3 361 436.7 374.4 431 387.8 425.6 401 422.2 414.4 416.7 421 411"/>
<path d="M445.6 386.7 447.8 373.3 452.2 364.4 458.9 365.6 467.8 367.8 481 365.6 492.2 360 498.9 353.3 503.3 346.7 501 341 496.7 340"/>
<path d="M463.3 336.7 470 328.9 483.3 326.7 490 320 497.8 310 503.3 313.3 514.4 317.8"/>
<path d="M542.2 299.4 547.8 292.8 551 286 566.7 281.7 582.2 277.2 588.9 266 597.8 261.7 608.9 257.2 622.2 256 637.8 251.7 646.7 241.7 664.4 236 675.6 230.6 677.8 219.4 680 215"/>
<path d="M803 214.3 802 221.8 805.9 227.4 802 233 805 240.5 798.4 244.2 798 264.7 793.7 270.3 792.8 281.5"/>
<path d="M798 320.7 798.4 333.8 805.9 337.2 820.8 336.6 832 333.8 841.3 330 846.9 323.5 856.3 318 861.9 309.5 862.8 305.8 867.5 309 875 308.6 880.5 302 884.3 296.5 888 291.8 893.6 294.6 897.3 296.5 900 292.7 897.3 289 901 283.4 902 276 904.8 270.3 910.4 270"/>
<path d="M871.2 225.2 882.4 225.2 885.2 228.3 889 225.2 897.3 224.6 900.7 228.3 901 235.8 903.9 239.5 904.8 245.7 910.4 246"/>
<path d="M910.4 445.3 899.8 441.8 885.6 436.4 874.9 441.8 880.2 452.4 871.3 463 860.7 472"/>
<path d="M558.9 685.6 565.6 692.2 578.9 694.4 592.2 692.2 605.6 687.8 616 685.6"/>
<path d="M653 687.8 667.8 683.3 681 686.7 694.4 688.9 707.8 685.6 721 681 730 682.2 738.9 683.3 745.6 678.9 748.9 673.3 754.4 672.2 758.9 677.8 761 686.7 765.6 693.3 768.9 691"/>
<path d="M530 697.8 552.2 694.4 563.3 697.8 574.4 701 587.8 700 601 694.4 614.4 692.2 632.2 696.4 650 694.3 663.3 692.2 674.4 694.4 683.3 697.8 694.4 697.8 707.8 695.6 721 692.2 734.4 693.3 743.3 697.8 752.2 700 765.6 701 772.2 694.4 780 685.6"/>
<path d="M555 690 557 701.7 555 713.5 558 725.2 553 735 547.3 740.8 545.6 743.3 552.2 745.6 565.6 745.6 581 743.3 594.4 741 596.7 730 594.4 722"/>
<path d="M605 701 607.8 698.9 615.6 701 618.9 710 621 718.9 627.8 723.3 623.3 732.2 615.6 735.6 614.4 741 621 745.6 632.2 741 645.6 738.9 658.9 738.9 674.4 737.8 683.3 730 685.6 718.9 692.2 710 707.8 705.6 721 703.3 732.2 698.9 738.9 696.7"/>
<path d="M767.8 716.7 774.4 707.8 779.8 700.2 786.9 696.7 795.8 697.6 795.8 703.8 793 712.7 794 718.9 798.4 718.9 802.9 710.9 808.2 705.6 813.6 700.2 817 689.6 820.7 682.4"/>
<path d="M780 732.2 765.6 727.8 752.2 725.6 743.3 734.4 730 736.7 718.9 743.3 714.4 754.4 703.3 756.7 690 754.4 678.9 750 667.8 750 663.3 754.4 667.8 763.3 668.9 774.4 663.3 781"/>
<path d="M626 765 616.7 767.8 614.4 771 623.3 773.3 632.2 771 638.9 781 640 790 634.4 792.2 634.4 798.9 618.9 801 603.3 805.6 594.4 805.6 585.6 806.7 586.7 814.4 591 821 574.4 823.3"/>
<path d="M561 797 552.2 805.6 553.3 792.2 554.4 778.9 551 775.6 547.8 794.4 538.9 810 530 818.9 523 824"/>
<path d="M788.7 648.7 791.3 657.6 788.7 664.7 781.6 669 774.4 668.2 765.6 664.7 762 659.3 756.7 655.8 747.8 654 740.7 655.8 733.6 657.6"/>
<path d="M813.6 616.7 815.3 614 820.7 613 826.9 616.7 831.3 622 836.7 630 842 635.9 848.2 637 851.2 641.6 852.3 648.7 854.4 654.9 859.8 657.9 866.9 656.7 872.2 652.2 877.6 649.9 890 649.6 900.7 649.6 906 652.2 910.4 656"/>
<path d="M813.6 616.7 812.3 621.6 817 626.8 824.2 630.5 830.4 634.4 834 640.7 836 647.8 837.2 654"/>
<path d="M822.4 681 813.6 682.4 806.4 686.9 797.6 687.4 788.7 686 779.8 684.2 770.9 686 766 690"/>
<path d="M839.3 643.3 843.8 640.7 847.3 642.4 849 648.7 850.9 655.8 847.3 658.4 842.9 661 840.2 666.4 838.4 673.6 841 680.7 845.6 686 848.2 693 847.3 698.4 843.8 701 838.4 696.7 833 689.6 826.9 684.2 818.9 681.6 813.6 686 810.9 694.9 807.3 700.2 801 699.3 798.6 696.7"/>
<path d="M847.3 658.4 850.9 657.6 858 658.4 865 658.4 872.2 657.6 877.6 658.4 881 662.9 886.4 662 893.6 659.3 897 662.9 902.4 664.7 910.4 662.9"/>
<path d="M882 675.3 890 672 900.7 669 910.4 667.3"/>
<path d="M831.3 718.9 840.2 719.8 847.3 718 854.4 712.7 859.8 705.6 866.9 696.7 874 689.6 877.6 685 886.4 680.7 897 677 910.4 673.6"/>
<path d="M795.8 732.2 788.7 730.4 781.6 731.3 780 732.2"/>
<path d="M843.8 609.6 842.9 602.4 847.3 596.2 854.4 593.6 858.9 596.2 858 601.6 854.4 606 852.7 609.6"/>
<path d="M441.7 729 433.9 735 426 742.8 418.2 748.7 408.4 752.6 398.7 757.5 390.8 758.4 386.9 752.6 383 746.7 375.2 743.8 365.4 745.7 362.5 748.7 369.3 751.6 379 752.6 382 758.4 379 765.3 371.3 768.2 365.4 774 359.6 778 358.6 784.8 365.4 787.8 379 787.8 388.9 789.7 396.7 795.6 400.6 805.4 402.6 815 400.6 825 394.8 832.7 386.9 838.6 379 844.5 371.3 850.3 363.5 856.2 355.6 862 351.7 866 344 870"/>
<path d="M395.3 761.4 391.4 755.6 387.5 749.7 379.7 746.8 369.9 748.7 367 751.7 373.8 754.6 383.5 755.6 386.5 761.4 383.5 768.3 375.8 771.2 369.9 777 364.1 781 363.1 787.8 369.9 790.8 383.5 790.8 393.4 792.7 401.2 798.6 405.1 808.4 407.1 818 405.1 828 399.3 835.7 391.4 841.6 383.5 847.5 375.8 853.3 368 859.2 360.1 865 356.2 869 348.5 873"/>
<path d="M374.4 794.3 388 794.3 397.9 796.2 405.7 802.1 409.6 811.9 411.6 821.5 409.6 831.5 403.8 839.2 395.9 845.1 388 851 380.3 856.8 372.5 862.7 364.6 868.5 360.7 872.5 353 876.5"/>
<path d="M398.7 778 406.5 781.9 414.3 787.8 420.2 791.7 426 799.5 431.9 805.4 439.7 808.3 449.5 805.4 457.3 802.4 462.2 806.3 465.1 799.5 469 791.7 474.9 783.9"/>
<path d="M510 760.4 513 754.5 506.2 754.5 500.3 750.6 494.5 745.7 484.7 741.8 476.9 739.9 473 735 469 731 465.1 727.2 462.2 723.2 465.1 720.3 473 724.2 480.8 729 490.6 732 496.4 729 497.4 725.2 492.5 722.3 486.6 720.3"/>
<path d="M402.6 763.3 408.4 768.2 410.4 776 414.3 781.9 420.2 783.9 428 779 433.9 772 437.8 764.3 441.7 756.5 445.6 746.7 448.5 736.9 452.4 732 455.4 736.9 451.5 738.9"/>
<path d="M553 776 549.2 787.8 545.3 799.5 543.4 811.2 535.5 815 529.7 821 523.8 825 516 827 514 832.7 519.9 834.7 523.8 840.6 521.9 846.4 527.7 844.5 530.7 852.3 531.6 856.2"/>
<path d="M553 776 555 784 554 800 553 806 560 800"/>
<path d="M437 716 446 712 458 710 470 713 484 710 494 705 501 699 508 694 515 690 521 686"/>
<path d="M441 707 448.2 709.8 458.9 707 466 705.3 473 709.8 483.8 707 492.7 702.7 498 697.3 494.4 693.8 492.7 690.2 498 686.7 506.9 690.2 512.2 686.7 514 676 517.6 672.4 521 676 526.4 679.6 534.4 677.8 547.8 673.3 563.3 671 574.4 673.3 583.3 682.2"/>
<path d="M521 686 530 683 540 686 546 680 556 678 560 684 556 690"/>
<path d="M404 712 414 703 428 694 444 688 458 690 470 686 484 680 496 676 508 670 518 664" stroke-width="0.8"/>
<path d="M213.2 667.7 215.3 682.7 212.1 695.5 202.5 704 198.3 714.7 200.4 725.3 191.9 731.7 185.5 737"/>
<path d="M166.5 761 168.4 763.7 179 769 191.9 768 200.4 765.9 208.9 772.3 219.6 778.7 232.4 783 243 789.3 249.5 797.9 258 802.1 266.5 808.5 268.7 817 275 821.3 283.6 823.5 292 827.7"/>
<path d="M238 723 229 722 228.5 726 231 731.5"/>
<path d="M254.4 759.6 258 770.2 261.6 781 268.7 788 272.2 798.7 279.3 809.3"/>
<path d="M300 448.9 308.9 447.8 315.6 453.3 315.6 464.4 324.4 467.8 328.9 475.6 325.6 484.4 328.9 493.3 340 497.8 351 502.2 353.3 508.9 348.9 517.8 340 515.6 331 520 333.3 525.6 351 526.7 373.3 523.3 390 522.2 393.3 525.6 404.4 530 413.3 536.7 415.6 545.6 420 556.7 422.2 565.6" stroke-width="1.3" stroke-dasharray="1.2 1.4" stroke-opacity="0.9"/>
<path d="M270 520 282.2 524.4 291 533.3 293.3 544.4 300 537.8 308.9 540 306.7 548.9 297.8 551 295.6 562.2 295.6 575.6 304.4 586.7 315.6 586.7 324.4 575.6 328.9 568.9 344.4 568.9 362.2 565.6 375.6 562.2 390 561 397.8 556.7 411 554.4 416 549" stroke-width="1.3" stroke-dasharray="1.2 1.4" stroke-opacity="0.9"/>
<path d="M626 381.3 636.7 376 650.9 384.9 672.2 399 693.6 413.3 714.9 431 736.2 448.9 757.6 466.7 778.9 477.3 800.2 481 814.4 473.8 832.2 470.2 850 463 857 470.2" stroke-width="1.3" stroke-dasharray="1.2 1.4" stroke-opacity="0.9"/>
<path d="M626 381.3 624.2 399 633 413.3 640.2 427.6 633 441.8 624.2 448.9 627.8 463 640.2 473.8 650.9 488 665 505.8 679.3 516.4 686.4 530.7 690 548.4 700.7 552 714.9 541.3 732.7 532.4 746.9 525.3" stroke-width="1.3" stroke-dasharray="1.2 1.4" stroke-opacity="0.9"/>
<path d="M260 746.4 277.8 744.7 295.6 748.2 313.3 746.4 331 744.7 345.3 742 359.6 739.3 373.8 738.4 388 737.6 402.2 732.2 416.4 723.3" stroke-width="1.3" stroke-dasharray="1.2 1.4" stroke-opacity="0.9"/>
<path d="M230 650 236 640 240 628 246 612 252 598 258 585" stroke-width="1.3" stroke-dasharray="1.2 1.4" stroke-opacity="0.9"/>
<path d="M759.9 528.7 768.7 533 776 540.4 779 558 776 572.7 767.2 580 755.5 580 743.7 579 737.3 584.4 739.3 593.2 749.6 597.6 759.9 593.2 762.8 588.8 771.6 593.2 781.9 599 787.7 607.9 788.5 614.5"/>
<path d="M834.7 508 831.7 519.9 834.7 527.2"/>
<path d="M855.2 487.6 858 505.2 861 528.7"/>
<path d="M862.5 566.8 865.5 571.2 867 566.8 864 555"/>
</g>
<circle cx="780.1" cy="227.8" r="2.6" class="c"/>
<circle cx="804.4" cy="253.9" r="1.5" class="c"/>
<circle cx="862.8" cy="240.5" r="1.9" class="c"/>
<circle cx="862.8" cy="253.9" r="1.9" class="c"/>
<circle cx="862.8" cy="267" r="1.9" class="c"/>
<circle cx="862.8" cy="280" r="1.9" class="c"/>
<circle cx="862.8" cy="293" r="1.9" class="c"/>
<ellipse cx="898.3" cy="306.7" rx="2" ry="3" transform="rotate(0 898.3 306.7)" class="c"/>
<ellipse cx="823.6" cy="302" rx="3.5" ry="5.5" transform="rotate(20 823.6 302)" class="c"/>
<ellipse cx="823.6" cy="302" rx="6" ry="8.5" transform="rotate(20 823.6 302)" class="c"/>
<path class="c" d="M776.5 215a3.2 3.2 0 0 0 6.4 0M857 215a3.4 3.4 0 0 0 6.5 0M895 215a3.2 3.2 0 0 0 6.4 0"/>
<path class="c" d="M861 224l4 1l-3 3l4 2l-4 1"/>
<circle cx="633.3" cy="705.6" r="4.3" class="c"/>
<path class="c" d="M580 768l5 -5l3 5l-5 2l4 3"/>
<path class="c" d="M723.5 766.5l4 -1.5l3 2.5l-1 4l-4.5 .5z"/>
<path class="c" stroke-width="2" d="M560 845.6h5"/>
<path class="c" d="M826.5 704l3.5 -2.5l3.5 2.5l-1.5 5l-4 .5z"/>
<circle cx="804.3" cy="620.2" r="2.2" class="c"/>
<circle cx="794.9" cy="639.8" r="3.8" class="c"/>
<ellipse cx="448.5" cy="723.2" rx="3.5" ry="2.3" transform="rotate(-20 448.5 723.2)" class="c"/>
<ellipse cx="453.4" cy="737" rx="2.5" ry="2" transform="rotate(0 453.4 737)" class="c"/>
<ellipse cx="263" cy="790.4" rx="8" ry="4.5" transform="rotate(35 263 790.4)" class="c"/>
<circle cx="723" cy="564" r="3.2" class="c"/>
<ellipse cx="745.2" cy="552" rx="4.4" ry="6" transform="rotate(0 745.2 552)" class="c"/>
<circle cx="776" cy="514" r="4.5" class="c"/>
<circle cx="867.5" cy="584.4" r="3.4" class="c"/>
<g text-anchor="middle">
<text font-size="11.5" transform="translate(343 322) rotate(-8)" y="4.14">100 m</text>
<text font-size="11.5" transform="translate(380.5 385.6) rotate(80)" y="4.14">100 m</text>
<text font-size="11.5" transform="translate(433 402) rotate(-48)" y="4.14">100 m</text>
<text font-size="11.5" transform="translate(529 312) rotate(-35)" y="4.14">100 m</text>
<text font-size="11.5" transform="translate(796 301) rotate(90)" y="4.14">100 m</text>
<text font-size="10.5" transform="translate(824 303) rotate(-68)" y="3.78">100m</text>
<text font-size="11.5" transform="translate(634.5 688.5) rotate(0)" y="4.14">300 m</text>
<text font-size="11.5" transform="translate(600 714) rotate(-68)" y="4.14">800 m</text>
<text font-size="11.5" transform="translate(753 707) rotate(36)" y="4.14">800 m</text>
<text font-size="11.5" transform="translate(660 721) rotate(-78)" y="4.14">800 m</text>
<text font-size="11.5" transform="translate(646 779) rotate(40)" y="4.14">1600 m</text>
<text font-size="11.5" transform="translate(568 812) rotate(85)" y="4.14">1600 m</text>
<text font-size="11.5" transform="translate(790.5 632) rotate(-86)" y="4.14">140 m</text>
<text font-size="11.5" transform="translate(832 668) rotate(-72)" y="4.14">300 m</text>
<text font-size="11.5" transform="translate(785 697) rotate(0)" y="4.14">500 m</text>
<text font-size="11.5" transform="translate(866 672) rotate(20)" y="4.14">800 m</text>
<text font-size="11.5" transform="translate(814 728) rotate(-22)" y="4.14">1600 m</text>
<text font-size="11.5" transform="translate(847 621) rotate(25)" y="4.14">140 m</text>
<text font-size="11.5" transform="translate(905 599) rotate(40)" y="4.14">140</text>
<text font-size="10.5" transform="translate(401.5 803) rotate(70)" y="3.78">500 m</text>
<text font-size="11.5" transform="translate(416 832) rotate(-50)" y="4.14">800 m</text>
<text font-size="11.5" transform="translate(497.5 777) rotate(-35)" y="4.14">800 m</text>
<text font-size="10.5" transform="translate(536 864) rotate(5)" y="3.78">1600 m</text>
<text font-size="11.5" transform="translate(526 711) rotate(0)" y="4.14">800 m</text>
<text font-size="11.5" transform="translate(176 750.5) rotate(-52)" y="4.14">100 m</text>
<text font-size="11.5" transform="translate(241.4 746.7) rotate(48)" y="4.14">140 m</text>
<text font-size="11.5" transform="translate(837 534) rotate(15)" y="4.14">140</text>
<text font-size="11.5" transform="translate(853.5 550) rotate(85)" y="4.14">140 m</text>
</g>
<path d="M147.1 837.6L157.8 836.7L168.4 833L178.2 827.8L183.6 821.6L187 814.4L190.7 805.6L196.9 798.4L205.8 793L214.7 791.3L223.6 792.2L230.7 796.7L235 803.8L238.7 810.9L244.9 816.2L250.2 821.6L257.3 826.9L264.4 829.6L271.6 831.3L280.4 834.9L289.3 837.2L300 838.4L302.7 846.4L305.3 855.3L310.7 861.6L317.8 864.2L323 868.5" fill="none" stroke="#000" stroke-width="6" stroke-linejoin="round" stroke-linecap="butt"/>
<circle cx="188.5" cy="826" r="4.8"/>
<path d="M243 815l4 -6l3 -1l1 3l-3 2l1 5z M262 826l3 5l-5 1z" fill="#000"/>
<rect x="400.2" y="608" width="118.2" height="108.3" fill="none" stroke="#000" stroke-width="3.6"/>
<ellipse cx="719.2" cy="632" rx="20.5" ry="16" class="c" stroke-width="1.2"/>
<ellipse cx="689.5" cy="668.5" rx="24" ry="16.5" class="c" stroke-width="1.2"/>
<ellipse cx="689.5" cy="668.7" rx="20.5" ry="13.5" class="c" stroke-width="0.8"/>
<path fill="#000" d="M675 666l3 -3l6 -1.5l5 2l2.5 4l-1 5l-5 3l-7 -.5l-3.5 -4zM693 671.5l5 -1l4 2.5l.5 4l-3 2.5l-5 -.5l-2.5 -3.5zM696 657.5l3 -.5l1.2 3l-1 3l-2.5 -.5zM701.5 663l2.5 .5l.8 3.5l-1.3 3l-2 -1z"/>
<path fill="#000" d="M715 624l4 -1l3 3l-1 4l-4 1l-3 -3z"/>
<ellipse cx="339" cy="704.5" rx="4" ry="3.6" fill="#000"/><circle cx="346" cy="742" r="2.6" fill="#000"/>
<g text-anchor="middle">
<text font-size="11.5" transform="translate(707 619) rotate(-20)" y="4">100 m</text>
<text font-size="11.5" transform="translate(686 654) rotate(-6)" y="4">100 m</text>
</g>
</g>
<!-- axes box -->
<g stroke="#000" stroke-width="1" fill="none" shape-rendering="crispEdges">
<rect x="146.5" y="214.5" width="764" height="656"/>
<!-- x ticks bottom & top -->
<path d="M205.5 870.5v7M322.5 870.5v7M440.5 870.5v7M557.5 870.5v7M675.5 870.5v7M793.5 870.5v7M910.5 870.5v7"/>
<path d="M205.5 214.5v-7M322.5 214.5v-7M440.5 214.5v-7M557.5 214.5v-7M675.5 214.5v-7M793.5 214.5v-7M910.5 214.5v-7"/>
<!-- y ticks left & right -->
<path d="M146.5 214.5h-8M146.5 345.5h-8M146.5 476.5h-8M146.5 608.5h-8M146.5 739.5h-8M146.5 870.5h-8"/>
<path d="M910.5 214.5h8M910.5 345.5h8M910.5 476.5h8M910.5 608.5h8M910.5 739.5h8M910.5 870.5h8"/>
</g>
<!-- tick labels -->
<g class="tk" text-anchor="middle">
<text x="205" y="903.5">121.5</text><text x="323" y="903.5">122</text><text x="440" y="903.5">122.5</text><text x="558" y="903.5">123</text><text x="675" y="903.5">123.5</text><text x="793" y="903.5">124</text><text x="911" y="903.5">124.5</text>
</g>
<g class="tk" text-anchor="end">
<text x="133" y="221.7">27.5</text><text x="133" y="352.7">27</text><text x="133" y="484">26.5</text><text x="133" y="615.5">26</text><text x="133" y="746.5">25.5</text><text x="133" y="877.7">25</text>
</g>
<text class="al" x="527" y="935.5" text-anchor="middle">Longitude</text>
<text class="al" transform="translate(75.3,543.3) rotate(-90)" text-anchor="middle">Latitude</text>
<!-- title -->
<g class="t" text-anchor="middle">
<text x="467.5" y="110.5">Mode 1 attenuation coef. at 600.00 Hz</text>
<text x="457" y="152.5" font-size="37.4">06:00 24/Aug UTC (14:00 24/Aug CST)</text>
<text x="526" y="194.5">isobath lines: 100, 140, 300, 500, 800 and 1600 m</text>
</g>
<!-- colorbar -->
<g shape-rendering="crispEdges">
<rect x="942" y="806.5" width="43" height="66.3" fill="#0000a0"/>
<rect x="942" y="740.8" width="43" height="66.3" fill="#0000ee"/>
<rect x="942" y="675.1" width="43" height="66.3" fill="#0a55f0"/>
<rect x="942" y="609.4" width="43" height="66.3" fill="#0aa5f5"/>
<rect x="942" y="543.8" width="43" height="66.3" fill="#14f5f0"/>
<rect x="942" y="478.1" width="43" height="66.3" fill="#55f0c0"/>
<rect x="942" y="412.4" width="43" height="66.3" fill="#a8f060"/>
<rect x="942" y="346.7" width="43" height="66.3" fill="#f4f81e"/>
<rect x="942" y="281.0" width="43" height="66.3" fill="#f8a80e"/>
<rect x="942" y="215.3" width="43" height="66.3" fill="#f45a0a"/>
<rect x="942.5" y="215.5" width="42" height="657" fill="none" stroke="#000"/>
<path stroke="#000" fill="none" d="M984.5 872.5h7M942.5 872.5h-7M984.5 806.5h7M942.5 806.5h-7M984.5 740.5h7M942.5 740.5h-7M984.5 675.5h7M942.5 675.5h-7M984.5 609.5h7M942.5 609.5h-7M984.5 543.5h7M942.5 543.5h-7M984.5 478.5h7M942.5 478.5h-7M984.5 412.5h7M942.5 412.5h-7M984.5 346.5h7M942.5 346.5h-7M984.5 280.5h7M942.5 280.5h-7M984.5 215.5h7M942.5 215.5h-7"/>
</g>
<g class="tk" style="font-size:21.1px">
<text x="996" y="879.1">0</text><text x="996" y="813.4">0.001</text><text x="996" y="747.7">0.002</text><text x="996" y="682.0">0.003</text><text x="996" y="616.3">0.004</text><text x="996" y="550.6">0.005</text><text x="996" y="485.0">0.006</text><text x="996" y="419.3">0.007</text><text x="996" y="353.6">0.008</text><text x="996" y="287.9">0.009</text><text x="996" y="222.2">0.01</text>
</g>
<text class="cl" transform="translate(1077,543.3) rotate(-90)" text-anchor="middle">Modal attenuation coef. (dB/λ)</text>
</svg>
</body></html>
